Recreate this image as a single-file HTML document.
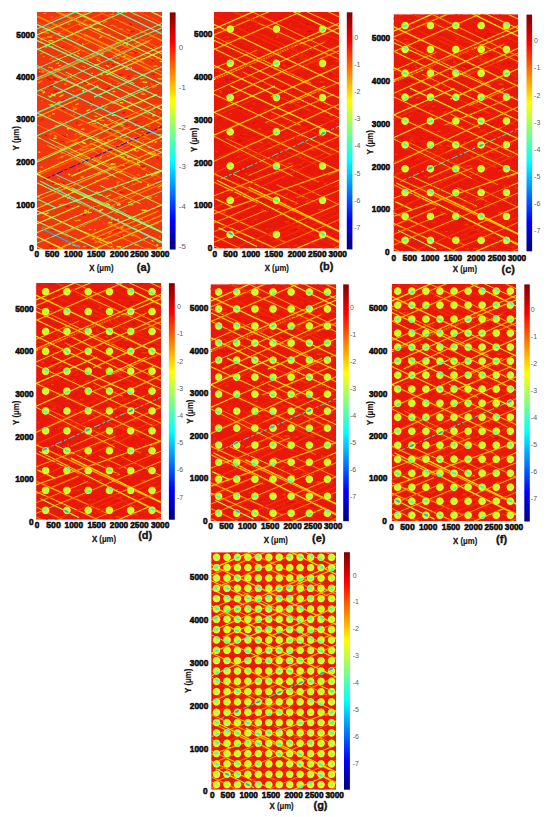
<!DOCTYPE html><html><head><meta charset="utf-8"><style>html,body{margin:0;padding:0;background:#fff;overflow:hidden;width:550px;height:817px;}svg{display:block}text{font-family:"Liberation Sans",sans-serif}.b0{stroke:var(--b0)}.b1{stroke:var(--b1)}.b2{stroke:var(--b2)}.b3{stroke:var(--b3)}.b4{stroke:var(--b4)}.b5{stroke:var(--b5)}.b6{stroke:var(--b6)}.b7{stroke:var(--b7)}.b8{stroke:var(--b8)}.b9{stroke:var(--b9)}.b10{stroke:var(--b10)}.b11{stroke:var(--b11)}.b12{stroke:var(--b12)}.b13{stroke:var(--b13)}.b14{stroke:var(--b14)}.b15{stroke:var(--b15)}.b16{stroke:var(--b16)}.b17{stroke:var(--b17)}.b18{stroke:var(--b18)}.b19{stroke:var(--b19)}.b20{stroke:var(--b20)}.b21{stroke:var(--b21)}.b22{stroke:var(--b22)}.b23{stroke:var(--b23)}.b24{stroke:var(--b24)}.b25{stroke:var(--b25)}.b26{stroke:var(--b26)}.b27{stroke:var(--b27)}</style></head><body>
<svg width="550" height="817" viewBox="0 0 550 817">
<defs>
<linearGradient id="jet" x1="0" y1="1" x2="0" y2="0"><stop offset="0.000" stop-color="#000080"/><stop offset="0.031" stop-color="#00009f"/><stop offset="0.062" stop-color="#0000bf"/><stop offset="0.094" stop-color="#0000df"/><stop offset="0.125" stop-color="#0000ff"/><stop offset="0.156" stop-color="#0020ff"/><stop offset="0.188" stop-color="#0040ff"/><stop offset="0.219" stop-color="#0060ff"/><stop offset="0.250" stop-color="#0080ff"/><stop offset="0.281" stop-color="#009fff"/><stop offset="0.312" stop-color="#00bfff"/><stop offset="0.344" stop-color="#00dfff"/><stop offset="0.375" stop-color="#00ffff"/><stop offset="0.406" stop-color="#20ffdf"/><stop offset="0.438" stop-color="#40ffbf"/><stop offset="0.469" stop-color="#60ff9f"/><stop offset="0.500" stop-color="#80ff80"/><stop offset="0.531" stop-color="#9fff60"/><stop offset="0.562" stop-color="#bfff40"/><stop offset="0.594" stop-color="#dfff20"/><stop offset="0.625" stop-color="#ffff00"/><stop offset="0.656" stop-color="#ffdf00"/><stop offset="0.688" stop-color="#ffbf00"/><stop offset="0.719" stop-color="#ff9f00"/><stop offset="0.750" stop-color="#ff8000"/><stop offset="0.781" stop-color="#ff6000"/><stop offset="0.812" stop-color="#ff4000"/><stop offset="0.844" stop-color="#ff2000"/><stop offset="0.875" stop-color="#ff0000"/><stop offset="0.906" stop-color="#df0000"/><stop offset="0.938" stop-color="#bf0000"/><stop offset="0.969" stop-color="#9f0000"/><stop offset="1.000" stop-color="#800000"/></linearGradient>
<filter id="soft" x="-5%" y="-5%" width="110%" height="110%"><feGaussianBlur stdDeviation="0.3"/></filter>
<g id="tex"><line x1="77.9" y1="175.8" x2="79.5" y2="175.7" class="b7" stroke-width="1.3"/><line x1="31.1" y1="12.3" x2="32.9" y2="11.5" class="b7" stroke-width="1.4"/><line x1="47.6" y1="24.2" x2="49.0" y2="23.5" class="b5" stroke-width="1.1"/><line x1="22.8" y1="205.6" x2="24.8" y2="205.8" class="b4" stroke-width="0.9"/><line x1="77.2" y1="30.0" x2="81.6" y2="32.2" class="b4" stroke-width="0.9"/><line x1="26.9" y1="232.8" x2="29.2" y2="231.8" class="b5" stroke-width="1.2"/><line x1="84.7" y1="48.5" x2="89.2" y2="46.5" class="b7" stroke-width="1.0"/><line x1="45.1" y1="39.3" x2="47.4" y2="38.3" class="b6" stroke-width="1.0"/><line x1="75.4" y1="0.8" x2="77.1" y2="0.8" class="b6" stroke-width="1.4"/><line x1="60.1" y1="74.8" x2="63.2" y2="75.1" class="b5" stroke-width="0.8"/><line x1="121.9" y1="5.4" x2="126.3" y2="5.4" class="b4" stroke-width="1.2"/><line x1="52.4" y1="89.2" x2="55.1" y2="90.6" class="b2" stroke-width="0.9"/><line x1="119.4" y1="46.6" x2="123.7" y2="44.6" class="b7" stroke-width="1.0"/><line x1="44.3" y1="124.4" x2="46.2" y2="124.5" class="b2" stroke-width="1.3"/><line x1="45.9" y1="70.1" x2="50.7" y2="70.5" class="b4" stroke-width="0.9"/><line x1="64.1" y1="85.9" x2="66.6" y2="84.8" class="b2" stroke-width="1.2"/><line x1="39.1" y1="75.1" x2="43.0" y2="73.3" class="b2" stroke-width="0.9"/><line x1="86.1" y1="236.2" x2="89.8" y2="234.6" class="b4" stroke-width="1.5"/><line x1="66.7" y1="96.2" x2="70.4" y2="94.5" class="b6" stroke-width="1.4"/><line x1="57.0" y1="100.0" x2="61.4" y2="102.2" class="b2" stroke-width="0.8"/><line x1="61.7" y1="198.7" x2="66.2" y2="196.7" class="b9" stroke-width="1.5"/><line x1="78.8" y1="186.8" x2="80.7" y2="187.7" class="b6" stroke-width="0.9"/><line x1="105.6" y1="69.9" x2="110.3" y2="70.2" class="b9" stroke-width="1.4"/><line x1="122.0" y1="107.5" x2="125.9" y2="107.8" class="b6" stroke-width="1.1"/><line x1="36.4" y1="95.7" x2="38.1" y2="94.9" class="b9" stroke-width="1.5"/><line x1="78.4" y1="118.3" x2="80.5" y2="118.3" class="b7" stroke-width="1.0"/><line x1="97.8" y1="205.6" x2="99.5" y2="205.6" class="b6" stroke-width="1.3"/><line x1="83.0" y1="180.0" x2="86.5" y2="180.0" class="b2" stroke-width="1.0"/><line x1="60.7" y1="182.4" x2="65.6" y2="182.4" class="b6" stroke-width="1.3"/><line x1="72.6" y1="2.7" x2="76.8" y2="2.4" class="b6" stroke-width="1.3"/><line x1="57.9" y1="193.6" x2="60.6" y2="193.6" class="b2" stroke-width="1.0"/><line x1="117.2" y1="96.8" x2="121.3" y2="94.9" class="b2" stroke-width="1.1"/><line x1="45.5" y1="79.2" x2="48.6" y2="77.9" class="b5" stroke-width="0.9"/><line x1="45.3" y1="202.4" x2="49.2" y2="202.4" class="b2" stroke-width="1.3"/><line x1="52.1" y1="146.2" x2="55.4" y2="145.9" class="b7" stroke-width="1.0"/><line x1="69.2" y1="205.5" x2="73.2" y2="205.5" class="b4" stroke-width="0.9"/><line x1="73.3" y1="147.9" x2="75.4" y2="147.0" class="b2" stroke-width="0.9"/><line x1="89.8" y1="233.8" x2="91.7" y2="232.9" class="b5" stroke-width="0.9"/><line x1="121.0" y1="114.4" x2="122.6" y2="114.3" class="b7" stroke-width="1.0"/><line x1="82.8" y1="17.1" x2="84.9" y2="16.1" class="b6" stroke-width="0.8"/><line x1="50.7" y1="66.0" x2="55.2" y2="66.4" class="b2" stroke-width="1.4"/><line x1="46.7" y1="8.5" x2="49.3" y2="8.3" class="b6" stroke-width="1.2"/><line x1="42.4" y1="137.7" x2="46.8" y2="137.7" class="b7" stroke-width="1.1"/><line x1="70.5" y1="127.6" x2="72.5" y2="127.8" class="b9" stroke-width="1.1"/><line x1="59.6" y1="47.2" x2="62.9" y2="45.7" class="b6" stroke-width="1.4"/><line x1="82.7" y1="90.5" x2="86.2" y2="90.5" class="b9" stroke-width="1.2"/><line x1="40.7" y1="207.7" x2="43.5" y2="207.5" class="b7" stroke-width="1.5"/><line x1="61.7" y1="113.7" x2="64.5" y2="113.9" class="b5" stroke-width="1.2"/><line x1="32.5" y1="232.5" x2="34.8" y2="232.7" class="b4" stroke-width="1.0"/><line x1="123.0" y1="116.5" x2="125.0" y2="116.5" class="b4" stroke-width="0.9"/><line x1="77.7" y1="105.1" x2="79.4" y2="105.1" class="b5" stroke-width="1.4"/><line x1="1.7" y1="126.2" x2="4.0" y2="126.2" class="b7" stroke-width="1.3"/><line x1="30.7" y1="63.4" x2="34.4" y2="61.8" class="b6" stroke-width="1.0"/><line x1="76.0" y1="112.5" x2="80.6" y2="112.1" class="b4" stroke-width="0.8"/><line x1="15.8" y1="66.9" x2="19.4" y2="66.9" class="b2" stroke-width="1.2"/><line x1="58.0" y1="85.6" x2="60.0" y2="85.4" class="b4" stroke-width="1.0"/><line x1="57.0" y1="217.2" x2="59.1" y2="217.1" class="b7" stroke-width="1.3"/><line x1="53.5" y1="136.4" x2="58.0" y2="136.8" class="b7" stroke-width="1.1"/><line x1="85.3" y1="170.5" x2="88.4" y2="170.5" class="b4" stroke-width="1.0"/><line x1="0.4" y1="184.6" x2="2.9" y2="184.4" class="b7" stroke-width="1.4"/><line x1="17.8" y1="113.4" x2="22.4" y2="113.0" class="b6" stroke-width="1.2"/><line x1="53.2" y1="128.3" x2="54.8" y2="129.1" class="b5" stroke-width="1.0"/><line x1="10.6" y1="14.9" x2="13.0" y2="16.1" class="b7" stroke-width="1.5"/><line x1="124.8" y1="166.2" x2="126.5" y2="167.1" class="b4" stroke-width="1.0"/><line x1="80.7" y1="225.7" x2="85.3" y2="223.6" class="b2" stroke-width="1.4"/><line x1="18.7" y1="144.7" x2="23.0" y2="145.1" class="b4" stroke-width="1.2"/><line x1="5.4" y1="25.6" x2="9.5" y2="26.0" class="b6" stroke-width="0.8"/><line x1="71.9" y1="175.9" x2="73.9" y2="175.8" class="b7" stroke-width="0.9"/><line x1="85.7" y1="116.0" x2="90.5" y2="116.0" class="b6" stroke-width="1.4"/><line x1="17.3" y1="69.8" x2="21.0" y2="69.6" class="b9" stroke-width="1.0"/><line x1="117.7" y1="130.3" x2="120.0" y2="129.3" class="b9" stroke-width="1.0"/><line x1="104.1" y1="67.2" x2="108.0" y2="65.4" class="b6" stroke-width="1.1"/><line x1="48.6" y1="31.1" x2="52.0" y2="32.8" class="b4" stroke-width="1.2"/><line x1="4.5" y1="204.6" x2="8.1" y2="204.3" class="b5" stroke-width="1.1"/><line x1="57.8" y1="228.3" x2="61.7" y2="230.2" class="b4" stroke-width="1.2"/><line x1="48.1" y1="201.0" x2="51.9" y2="201.3" class="b5" stroke-width="1.3"/><line x1="10.5" y1="216.0" x2="14.8" y2="216.4" class="b5" stroke-width="1.3"/><line x1="47.0" y1="198.1" x2="49.7" y2="198.1" class="b9" stroke-width="1.3"/><line x1="99.5" y1="89.6" x2="103.3" y2="89.6" class="b2" stroke-width="1.1"/><line x1="106.4" y1="122.6" x2="111.4" y2="122.2" class="b5" stroke-width="1.3"/><line x1="49.4" y1="23.0" x2="51.4" y2="24.0" class="b5" stroke-width="0.8"/><line x1="111.2" y1="114.0" x2="112.7" y2="114.0" class="b7" stroke-width="1.0"/><line x1="116.8" y1="218.4" x2="120.0" y2="218.4" class="b4" stroke-width="0.9"/><line x1="81.7" y1="16.9" x2="86.2" y2="17.2" class="b7" stroke-width="0.9"/><line x1="31.8" y1="65.8" x2="35.5" y2="64.1" class="b2" stroke-width="1.0"/><line x1="60.3" y1="7.6" x2="62.9" y2="7.6" class="b4" stroke-width="1.3"/><line x1="84.2" y1="111.8" x2="86.0" y2="111.0" class="b2" stroke-width="1.0"/><line x1="56.7" y1="56.9" x2="58.2" y2="56.2" class="b2" stroke-width="0.8"/><line x1="28.8" y1="18.5" x2="33.5" y2="18.9" class="b2" stroke-width="1.1"/><line x1="39.0" y1="110.9" x2="40.7" y2="110.9" class="b2" stroke-width="1.1"/><line x1="97.0" y1="41.6" x2="101.3" y2="39.7" class="b2" stroke-width="1.2"/><line x1="90.8" y1="64.2" x2="92.5" y2="64.3" class="b2" stroke-width="1.1"/><line x1="5.6" y1="130.0" x2="9.1" y2="129.7" class="b4" stroke-width="1.3"/><line x1="29.6" y1="190.4" x2="33.9" y2="192.5" class="b4" stroke-width="1.3"/><line x1="80.5" y1="117.9" x2="82.0" y2="118.6" class="b7" stroke-width="1.1"/><line x1="80.1" y1="207.4" x2="82.0" y2="206.5" class="b9" stroke-width="1.2"/><line x1="23.5" y1="55.4" x2="27.8" y2="55.4" class="b4" stroke-width="1.2"/><line x1="115.2" y1="141.8" x2="118.5" y2="140.3" class="b7" stroke-width="1.2"/><line x1="60.8" y1="135.4" x2="64.1" y2="135.7" class="b5" stroke-width="1.3"/><line x1="114.1" y1="72.9" x2="118.7" y2="73.3" class="b5" stroke-width="1.2"/><line x1="17.3" y1="114.5" x2="21.7" y2="114.5" class="b6" stroke-width="0.9"/><line x1="67.1" y1="111.8" x2="70.9" y2="113.7" class="b9" stroke-width="1.3"/><line x1="34.5" y1="116.8" x2="36.0" y2="116.1" class="b5" stroke-width="1.4"/><line x1="110.3" y1="209.9" x2="113.0" y2="211.2" class="b6" stroke-width="1.1"/><line x1="96.2" y1="0.0" x2="99.9" y2="0.0" class="b5" stroke-width="1.2"/><line x1="55.3" y1="193.6" x2="58.9" y2="195.4" class="b2" stroke-width="1.1"/><line x1="13.3" y1="190.8" x2="15.3" y2="190.7" class="b4" stroke-width="1.0"/><line x1="17.2" y1="118.0" x2="19.7" y2="118.0" class="b4" stroke-width="1.2"/><line x1="92.4" y1="6.6" x2="93.9" y2="7.4" class="b5" stroke-width="1.4"/><line x1="54.5" y1="61.2" x2="56.0" y2="61.1" class="b9" stroke-width="1.1"/><line x1="45.3" y1="78.3" x2="47.2" y2="79.2" class="b9" stroke-width="1.4"/><line x1="90.9" y1="22.6" x2="94.5" y2="22.3" class="b2" stroke-width="1.3"/><line x1="55.8" y1="222.4" x2="57.7" y2="222.6" class="b6" stroke-width="1.1"/><line x1="28.5" y1="141.3" x2="31.3" y2="140.1" class="b2" stroke-width="1.5"/><line x1="66.6" y1="229.8" x2="68.1" y2="229.7" class="b5" stroke-width="1.4"/><line x1="52.4" y1="12.4" x2="53.9" y2="13.1" class="b9" stroke-width="1.0"/><line x1="88.1" y1="84.0" x2="90.4" y2="84.1" class="b6" stroke-width="1.4"/><line x1="37.9" y1="122.3" x2="40.4" y2="121.1" class="b5" stroke-width="1.4"/><line x1="82.9" y1="215.3" x2="86.2" y2="216.9" class="b7" stroke-width="1.0"/><line x1="17.9" y1="56.5" x2="19.5" y2="56.6" class="b5" stroke-width="1.1"/><line x1="94.2" y1="66.7" x2="98.1" y2="64.9" class="b6" stroke-width="1.1"/><line x1="58.8" y1="126.5" x2="62.6" y2="128.4" class="b7" stroke-width="1.3"/><line x1="12.9" y1="143.5" x2="15.1" y2="143.3" class="b7" stroke-width="0.8"/><line x1="84.7" y1="144.6" x2="87.6" y2="144.4" class="b7" stroke-width="1.2"/><line x1="86.3" y1="106.6" x2="91.0" y2="106.2" class="b2" stroke-width="1.2"/><line x1="7.6" y1="34.8" x2="10.4" y2="35.0" class="b9" stroke-width="0.8"/><line x1="96.2" y1="49.0" x2="98.0" y2="49.0" class="b4" stroke-width="1.3"/><line x1="76.3" y1="204.5" x2="78.9" y2="204.7" class="b4" stroke-width="1.0"/><line x1="89.5" y1="17.1" x2="92.9" y2="18.8" class="b6" stroke-width="1.4"/><line x1="86.0" y1="198.7" x2="89.6" y2="198.4" class="b5" stroke-width="1.1"/><line x1="11.5" y1="28.7" x2="16.4" y2="28.7" class="b9" stroke-width="1.1"/><line x1="121.1" y1="159.1" x2="123.3" y2="159.2" class="b2" stroke-width="1.2"/><line x1="25.9" y1="160.5" x2="28.8" y2="160.5" class="b4" stroke-width="1.4"/><line x1="111.2" y1="163.1" x2="113.5" y2="163.1" class="b4" stroke-width="0.9"/><line x1="38.2" y1="63.4" x2="40.0" y2="63.3" class="b5" stroke-width="0.9"/><line x1="51.6" y1="43.9" x2="54.8" y2="45.5" class="b2" stroke-width="1.4"/><line x1="109.8" y1="172.5" x2="112.1" y2="172.7" class="b7" stroke-width="1.2"/><line x1="113.1" y1="71.7" x2="114.9" y2="71.7" class="b6" stroke-width="0.9"/><line x1="3.8" y1="27.4" x2="7.2" y2="27.1" class="b9" stroke-width="0.9"/><line x1="23.8" y1="140.9" x2="27.8" y2="140.9" class="b4" stroke-width="1.5"/><line x1="17.2" y1="123.1" x2="19.6" y2="124.3" class="b7" stroke-width="1.3"/><line x1="115.8" y1="54.3" x2="120.3" y2="53.9" class="b7" stroke-width="1.4"/><line x1="0.2" y1="159.3" x2="1.8" y2="160.2" class="b5" stroke-width="1.1"/><line x1="95.1" y1="136.3" x2="99.1" y2="136.6" class="b5" stroke-width="1.3"/><line x1="115.5" y1="226.8" x2="118.0" y2="228.0" class="b4" stroke-width="0.9"/><line x1="40.5" y1="41.0" x2="42.6" y2="42.0" class="b9" stroke-width="1.1"/><line x1="0.7" y1="232.3" x2="2.7" y2="232.3" class="b4" stroke-width="1.1"/><line x1="120.3" y1="224.0" x2="123.2" y2="225.4" class="b2" stroke-width="1.3"/><line x1="2.0" y1="191.9" x2="6.1" y2="191.9" class="b5" stroke-width="1.4"/><line x1="47.8" y1="68.9" x2="51.5" y2="69.2" class="b4" stroke-width="1.2"/><line x1="37.0" y1="79.9" x2="40.0" y2="81.3" class="b4" stroke-width="1.0"/><line x1="123.2" y1="64.2" x2="125.0" y2="65.1" class="b4" stroke-width="1.2"/><line x1="54.1" y1="42.6" x2="58.5" y2="43.0" class="b5" stroke-width="0.9"/><line x1="44.5" y1="192.2" x2="48.4" y2="194.1" class="b5" stroke-width="1.1"/><line x1="2.1" y1="59.5" x2="6.9" y2="59.8" class="b9" stroke-width="0.9"/><line x1="121.4" y1="45.9" x2="123.0" y2="46.1" class="b9" stroke-width="0.9"/><line x1="34.9" y1="226.3" x2="38.2" y2="226.5" class="b4" stroke-width="0.9"/><line x1="96.4" y1="118.5" x2="101.1" y2="118.2" class="b2" stroke-width="1.3"/><line x1="79.5" y1="8.5" x2="82.1" y2="9.9" class="b2" stroke-width="1.1"/><line x1="109.3" y1="195.7" x2="110.8" y2="195.8" class="b5" stroke-width="1.4"/><line x1="18.5" y1="185.1" x2="22.9" y2="185.4" class="b4" stroke-width="1.5"/><line x1="27.1" y1="99.9" x2="29.1" y2="99.9" class="b6" stroke-width="1.0"/><line x1="83.3" y1="29.2" x2="87.1" y2="27.5" class="b4" stroke-width="0.9"/><line x1="47.6" y1="212.7" x2="49.6" y2="211.8" class="b4" stroke-width="1.3"/><line x1="61.7" y1="75.3" x2="63.7" y2="75.4" class="b5" stroke-width="0.9"/><line x1="45.6" y1="146.7" x2="47.5" y2="147.6" class="b7" stroke-width="0.9"/><line x1="16.4" y1="155.0" x2="20.6" y2="155.0" class="b5" stroke-width="1.0"/><line x1="112.0" y1="211.5" x2="113.8" y2="211.4" class="b4" stroke-width="0.9"/><line x1="49.9" y1="72.0" x2="53.3" y2="72.2" class="b7" stroke-width="1.5"/><line x1="30.1" y1="134.8" x2="31.7" y2="134.8" class="b4" stroke-width="1.3"/><line x1="16.7" y1="114.0" x2="18.1" y2="114.7" class="b5" stroke-width="1.1"/><line x1="63.0" y1="144.7" x2="64.7" y2="144.7" class="b9" stroke-width="1.0"/><line x1="86.5" y1="209.5" x2="89.6" y2="211.1" class="b7" stroke-width="1.1"/><line x1="81.9" y1="219.2" x2="85.4" y2="219.2" class="b6" stroke-width="1.3"/><line x1="117.2" y1="225.1" x2="119.7" y2="225.3" class="b5" stroke-width="1.2"/><line x1="85.3" y1="152.8" x2="88.9" y2="154.6" class="b9" stroke-width="1.2"/><line x1="12.3" y1="121.7" x2="15.1" y2="121.5" class="b7" stroke-width="0.9"/><line x1="43.9" y1="117.1" x2="47.3" y2="116.9" class="b9" stroke-width="1.1"/><line x1="7.5" y1="20.8" x2="12.1" y2="20.8" class="b6" stroke-width="1.5"/><line x1="32.9" y1="65.4" x2="36.6" y2="63.7" class="b6" stroke-width="1.0"/><line x1="3.1" y1="59.8" x2="6.5" y2="58.3" class="b5" stroke-width="1.3"/><line x1="74.0" y1="207.4" x2="77.3" y2="206.0" class="b9" stroke-width="0.8"/><line x1="92.5" y1="133.0" x2="95.2" y2="134.4" class="b2" stroke-width="1.4"/><line x1="61.8" y1="206.5" x2="63.2" y2="207.2" class="b7" stroke-width="0.9"/><line x1="90.1" y1="144.9" x2="93.6" y2="144.6" class="b9" stroke-width="1.5"/><line x1="13.9" y1="15.2" x2="15.7" y2="15.0" class="b4" stroke-width="1.3"/><line x1="38.0" y1="124.3" x2="42.0" y2="124.0" class="b4" stroke-width="1.5"/><line x1="85.0" y1="64.8" x2="89.1" y2="65.1" class="b6" stroke-width="1.1"/><line x1="37.4" y1="208.3" x2="40.7" y2="208.3" class="b7" stroke-width="1.1"/><line x1="19.4" y1="51.3" x2="22.0" y2="51.3" class="b9" stroke-width="0.9"/><line x1="11.0" y1="83.6" x2="14.4" y2="85.3" class="b7" stroke-width="1.2"/><line x1="81.3" y1="41.4" x2="85.6" y2="39.5" class="b5" stroke-width="1.3"/><line x1="55.9" y1="135.9" x2="57.7" y2="136.8" class="b6" stroke-width="1.2"/><line x1="62.8" y1="225.4" x2="66.0" y2="224.0" class="b2" stroke-width="0.9"/><line x1="69.0" y1="59.6" x2="71.6" y2="59.6" class="b4" stroke-width="0.9"/><line x1="53.2" y1="200.5" x2="55.6" y2="200.3" class="b2" stroke-width="1.3"/><line x1="10.8" y1="192.8" x2="13.2" y2="194.0" class="b4" stroke-width="1.4"/><line x1="35.6" y1="179.1" x2="37.1" y2="178.4" class="b9" stroke-width="1.1"/><line x1="79.5" y1="171.6" x2="81.4" y2="171.6" class="b6" stroke-width="1.4"/><line x1="39.0" y1="69.4" x2="41.9" y2="69.4" class="b7" stroke-width="0.8"/><line x1="37.7" y1="42.7" x2="41.5" y2="44.6" class="b9" stroke-width="1.1"/><line x1="57.7" y1="17.0" x2="59.3" y2="17.1" class="b9" stroke-width="1.2"/><line x1="81.4" y1="161.5" x2="86.2" y2="161.5" class="b4" stroke-width="1.1"/><line x1="12.8" y1="182.2" x2="16.1" y2="183.8" class="b4" stroke-width="0.9"/><line x1="123.4" y1="128.6" x2="125.3" y2="128.8" class="b6" stroke-width="1.2"/><line x1="121.6" y1="101.4" x2="125.8" y2="99.5" class="b5" stroke-width="1.1"/><line x1="79.2" y1="217.7" x2="83.8" y2="217.7" class="b2" stroke-width="1.2"/><line x1="17.4" y1="12.7" x2="20.0" y2="12.9" class="b9" stroke-width="1.4"/><line x1="71.7" y1="118.5" x2="73.8" y2="118.5" class="b2" stroke-width="1.0"/><line x1="58.8" y1="179.8" x2="60.7" y2="179.6" class="b9" stroke-width="0.9"/><line x1="86.9" y1="172.8" x2="89.6" y2="174.1" class="b5" stroke-width="0.9"/><line x1="21.0" y1="21.3" x2="23.4" y2="21.5" class="b7" stroke-width="1.4"/><line x1="20.4" y1="165.6" x2="22.7" y2="166.7" class="b6" stroke-width="1.2"/><line x1="87.2" y1="128.6" x2="89.1" y2="128.4" class="b4" stroke-width="1.0"/><line x1="74.0" y1="151.5" x2="78.5" y2="151.8" class="b9" stroke-width="1.4"/><line x1="35.3" y1="79.1" x2="37.2" y2="79.1" class="b7" stroke-width="1.0"/><line x1="46.3" y1="183.2" x2="50.1" y2="183.2" class="b2" stroke-width="0.8"/><line x1="60.9" y1="37.8" x2="64.7" y2="38.1" class="b7" stroke-width="1.4"/><line x1="73.9" y1="109.2" x2="77.2" y2="109.0" class="b2" stroke-width="1.3"/><line x1="98.6" y1="3.4" x2="101.9" y2="3.1" class="b4" stroke-width="1.2"/><line x1="60.3" y1="110.4" x2="62.0" y2="110.4" class="b9" stroke-width="0.8"/><line x1="121.4" y1="174.6" x2="125.9" y2="172.6" class="b9" stroke-width="1.0"/><line x1="103.6" y1="154.3" x2="106.6" y2="154.5" class="b5" stroke-width="1.3"/><line x1="115.0" y1="48.6" x2="118.2" y2="47.1" class="b2" stroke-width="1.5"/><line x1="46.6" y1="138.0" x2="50.4" y2="136.3" class="b6" stroke-width="1.2"/><line x1="68.9" y1="190.7" x2="73.0" y2="192.8" class="b9" stroke-width="1.4"/><line x1="18.4" y1="13.5" x2="20.4" y2="14.4" class="b5" stroke-width="0.9"/><line x1="57.3" y1="103.9" x2="60.4" y2="104.2" class="b9" stroke-width="0.9"/><line x1="96.2" y1="165.7" x2="99.8" y2="165.4" class="b9" stroke-width="1.2"/><line x1="89.5" y1="201.7" x2="91.7" y2="201.5" class="b2" stroke-width="1.4"/><line x1="123.7" y1="47.7" x2="127.2" y2="49.5" class="b5" stroke-width="0.9"/><line x1="46.2" y1="21.1" x2="48.8" y2="20.0" class="b4" stroke-width="1.1"/><line x1="37.5" y1="172.7" x2="40.4" y2="173.0" class="b4" stroke-width="1.4"/><line x1="86.2" y1="51.4" x2="90.8" y2="51.8" class="b5" stroke-width="1.1"/><line x1="3.3" y1="108.0" x2="6.9" y2="106.4" class="b2" stroke-width="1.0"/><line x1="11.5" y1="55.1" x2="15.8" y2="55.5" class="b7" stroke-width="1.4"/><line x1="112.5" y1="132.9" x2="116.5" y2="133.2" class="b5" stroke-width="1.0"/><line x1="31.3" y1="161.6" x2="33.2" y2="162.6" class="b9" stroke-width="1.5"/><line x1="20.1" y1="150.1" x2="23.1" y2="149.8" class="b5" stroke-width="1.2"/><line x1="22.8" y1="129.0" x2="27.6" y2="129.4" class="b2" stroke-width="0.8"/><line x1="68.7" y1="227.0" x2="72.8" y2="227.0" class="b4" stroke-width="1.1"/><line x1="45.9" y1="234.2" x2="48.7" y2="234.0" class="b7" stroke-width="1.0"/><line x1="71.4" y1="210.0" x2="75.1" y2="210.0" class="b9" stroke-width="1.1"/><line x1="49.2" y1="132.4" x2="51.2" y2="133.5" class="b6" stroke-width="0.9"/><line x1="64.3" y1="184.0" x2="66.5" y2="184.2" class="b2" stroke-width="1.3"/><line x1="39.2" y1="19.2" x2="42.2" y2="19.2" class="b6" stroke-width="1.0"/><line x1="96.2" y1="9.9" x2="100.4" y2="12.0" class="b4" stroke-width="1.3"/><line x1="108.9" y1="161.5" x2="110.3" y2="162.3" class="b9" stroke-width="1.4"/><line x1="27.1" y1="72.0" x2="29.5" y2="72.2" class="b7" stroke-width="1.2"/><line x1="121.2" y1="122.5" x2="125.7" y2="122.5" class="b9" stroke-width="1.0"/><line x1="116.4" y1="69.2" x2="118.2" y2="70.1" class="b2" stroke-width="1.5"/><line x1="11.0" y1="81.2" x2="13.5" y2="80.0" class="b4" stroke-width="1.1"/><line x1="12.3" y1="204.4" x2="13.9" y2="204.4" class="b7" stroke-width="1.3"/><line x1="116.3" y1="141.0" x2="118.9" y2="141.0" class="b7" stroke-width="1.4"/><line x1="62.8" y1="82.2" x2="64.6" y2="82.0" class="b9" stroke-width="1.2"/><line x1="56.4" y1="155.7" x2="60.5" y2="155.3" class="b7" stroke-width="0.9"/><line x1="7.9" y1="76.5" x2="10.2" y2="77.6" class="b6" stroke-width="1.1"/><line x1="117.5" y1="25.6" x2="120.2" y2="27.0" class="b2" stroke-width="1.0"/><line x1="71.0" y1="139.8" x2="72.5" y2="140.5" class="b4" stroke-width="1.0"/><line x1="36.5" y1="102.4" x2="38.0" y2="101.7" class="b7" stroke-width="1.0"/><line x1="86.8" y1="125.1" x2="90.3" y2="124.9" class="b7" stroke-width="1.4"/><line x1="77.4" y1="200.9" x2="80.0" y2="199.7" class="b6" stroke-width="1.4"/><line x1="11.1" y1="103.7" x2="13.9" y2="103.7" class="b6" stroke-width="1.5"/><line x1="117.5" y1="92.5" x2="122.5" y2="92.9" class="b5" stroke-width="0.9"/><line x1="100.0" y1="128.5" x2="102.5" y2="128.5" class="b5" stroke-width="1.5"/><line x1="1.2" y1="162.0" x2="3.6" y2="162.0" class="b9" stroke-width="0.9"/><line x1="113.9" y1="122.3" x2="116.1" y2="123.4" class="b4" stroke-width="0.9"/><line x1="24.2" y1="96.2" x2="28.7" y2="96.5" class="b2" stroke-width="1.2"/><line x1="112.6" y1="184.5" x2="114.5" y2="184.5" class="b6" stroke-width="1.2"/><line x1="20.3" y1="221.4" x2="22.2" y2="222.4" class="b4" stroke-width="1.0"/><line x1="65.8" y1="10.8" x2="70.3" y2="8.8" class="b6" stroke-width="1.4"/><line x1="27.6" y1="108.1" x2="31.2" y2="109.8" class="b5" stroke-width="0.9"/><line x1="86.7" y1="28.3" x2="90.0" y2="30.0" class="b2" stroke-width="1.2"/><line x1="115.2" y1="83.2" x2="117.6" y2="83.2" class="b5" stroke-width="1.3"/><line x1="38.3" y1="92.7" x2="41.9" y2="91.1" class="b7" stroke-width="1.4"/><line x1="95.9" y1="111.4" x2="100.0" y2="109.5" class="b2" stroke-width="1.3"/><line x1="94.5" y1="223.6" x2="97.1" y2="222.4" class="b9" stroke-width="0.9"/><line x1="60.6" y1="163.0" x2="63.3" y2="164.4" class="b4" stroke-width="1.3"/><line x1="115.5" y1="75.8" x2="120.0" y2="73.8" class="b7" stroke-width="0.8"/><line x1="87.1" y1="0.5" x2="90.4" y2="0.5" class="b6" stroke-width="1.0"/><line x1="79.3" y1="202.6" x2="81.8" y2="202.4" class="b5" stroke-width="1.3"/><line x1="74.0" y1="47.1" x2="77.1" y2="48.6" class="b4" stroke-width="1.0"/><line x1="25.7" y1="157.5" x2="27.9" y2="157.3" class="b2" stroke-width="0.9"/><line x1="95.0" y1="40.1" x2="98.5" y2="39.8" class="b2" stroke-width="1.4"/><line x1="74.5" y1="52.6" x2="78.2" y2="52.9" class="b2" stroke-width="1.0"/><line x1="74.6" y1="139.8" x2="78.4" y2="139.5" class="b2" stroke-width="1.3"/><line x1="43.3" y1="112.6" x2="48.3" y2="112.2" class="b4" stroke-width="1.0"/><line x1="70.0" y1="143.5" x2="72.8" y2="143.5" class="b7" stroke-width="1.4"/><line x1="75.7" y1="79.9" x2="78.5" y2="78.7" class="b9" stroke-width="1.2"/><line x1="92.7" y1="144.7" x2="96.9" y2="146.8" class="b5" stroke-width="1.0"/><line x1="3.9" y1="64.0" x2="6.1" y2="63.0" class="b6" stroke-width="0.9"/><line x1="44.0" y1="164.7" x2="46.3" y2="164.5" class="b9" stroke-width="1.0"/><line x1="35.1" y1="212.1" x2="39.5" y2="212.5" class="b4" stroke-width="1.1"/><line x1="60.6" y1="35.4" x2="65.4" y2="35.8" class="b4" stroke-width="1.3"/><line x1="119.5" y1="145.2" x2="121.5" y2="146.2" class="b2" stroke-width="1.0"/><line x1="62.9" y1="41.5" x2="66.5" y2="41.8" class="b9" stroke-width="1.3"/><line x1="20.3" y1="90.8" x2="23.5" y2="89.4" class="b9" stroke-width="1.3"/><line x1="35.4" y1="232.4" x2="38.6" y2="232.7" class="b9" stroke-width="1.4"/><line x1="22.0" y1="192.3" x2="26.8" y2="192.7" class="b7" stroke-width="1.2"/><line x1="29.8" y1="56.0" x2="34.2" y2="54.0" class="b4" stroke-width="0.9"/><line x1="55.8" y1="111.0" x2="59.8" y2="113.0" class="b5" stroke-width="0.8"/><line x1="87.2" y1="161.0" x2="91.7" y2="159.0" class="b4" stroke-width="1.4"/><line x1="8.1" y1="101.0" x2="12.5" y2="99.1" class="b4" stroke-width="1.0"/><line x1="96.2" y1="126.0" x2="99.9" y2="125.7" class="b6" stroke-width="1.3"/><line x1="121.3" y1="117.0" x2="125.8" y2="117.3" class="b9" stroke-width="1.0"/><line x1="96.2" y1="139.2" x2="99.1" y2="140.7" class="b4" stroke-width="0.9"/><line x1="68.6" y1="60.1" x2="70.9" y2="60.1" class="b2" stroke-width="1.0"/><line x1="83.4" y1="134.7" x2="85.7" y2="134.9" class="b7" stroke-width="1.0"/><line x1="45.5" y1="0.0" x2="49.3" y2="1.9" class="b5" stroke-width="1.0"/><line x1="96.1" y1="223.2" x2="100.2" y2="223.2" class="b6" stroke-width="0.9"/><line x1="69.9" y1="60.0" x2="73.2" y2="59.7" class="b6" stroke-width="0.8"/><line x1="83.4" y1="204.9" x2="86.1" y2="206.3" class="b5" stroke-width="1.2"/><line x1="109.2" y1="75.2" x2="110.7" y2="74.5" class="b2" stroke-width="1.1"/><line x1="0.4" y1="61.5" x2="4.4" y2="61.2" class="b2" stroke-width="0.9"/><line x1="12.0" y1="74.4" x2="15.1" y2="74.2" class="b2" stroke-width="1.4"/><line x1="18.7" y1="234.0" x2="23.2" y2="233.6" class="b6" stroke-width="0.9"/><line x1="53.3" y1="123.4" x2="56.5" y2="123.6" class="b2" stroke-width="1.5"/><line x1="59.4" y1="72.9" x2="61.5" y2="74.0" class="b7" stroke-width="0.9"/><line x1="72.9" y1="152.1" x2="76.5" y2="151.8" class="b9" stroke-width="0.9"/><line x1="84.1" y1="112.3" x2="86.8" y2="112.1" class="b5" stroke-width="1.3"/><line x1="3.0" y1="146.4" x2="4.5" y2="146.5" class="b2" stroke-width="1.1"/><line x1="70.1" y1="212.7" x2="72.5" y2="212.9" class="b5" stroke-width="1.4"/><line x1="60.4" y1="16.3" x2="63.6" y2="17.9" class="b9" stroke-width="1.2"/><line x1="123.4" y1="102.5" x2="128.2" y2="102.9" class="b2" stroke-width="0.9"/><line x1="29.1" y1="122.6" x2="31.1" y2="122.5" class="b6" stroke-width="1.0"/><line x1="8.0" y1="123.7" x2="10.0" y2="122.7" class="b2" stroke-width="1.1"/><line x1="98.0" y1="31.8" x2="102.1" y2="29.9" class="b7" stroke-width="0.9"/><line x1="58.6" y1="17.1" x2="61.2" y2="17.3" class="b6" stroke-width="1.4"/><line x1="116.8" y1="172.3" x2="119.8" y2="173.8" class="b2" stroke-width="1.3"/><line x1="113.6" y1="161.4" x2="117.2" y2="163.2" class="b6" stroke-width="1.0"/><line x1="21.4" y1="53.3" x2="24.3" y2="53.1" class="b9" stroke-width="1.0"/><line x1="51.5" y1="224.5" x2="53.6" y2="224.3" class="b2" stroke-width="1.5"/><line x1="3.9" y1="208.7" x2="7.6" y2="210.5" class="b2" stroke-width="1.1"/><line x1="65.7" y1="210.4" x2="68.4" y2="211.8" class="b5" stroke-width="1.1"/><line x1="49.4" y1="133.6" x2="54.2" y2="134.0" class="b5" stroke-width="1.0"/><line x1="51.6" y1="66.1" x2="54.8" y2="66.1" class="b5" stroke-width="1.0"/><line x1="111.8" y1="211.8" x2="114.4" y2="212.0" class="b4" stroke-width="1.2"/><line x1="44.8" y1="70.6" x2="46.9" y2="70.6" class="b6" stroke-width="1.2"/><line x1="61.0" y1="161.3" x2="63.2" y2="161.5" class="b7" stroke-width="1.1"/><line x1="99.0" y1="220.5" x2="103.6" y2="220.2" class="b4" stroke-width="1.4"/><line x1="89.0" y1="45.9" x2="93.1" y2="46.2" class="b9" stroke-width="0.8"/><line x1="85.9" y1="77.9" x2="90.1" y2="77.9" class="b4" stroke-width="1.4"/><line x1="69.9" y1="223.4" x2="73.5" y2="225.2" class="b5" stroke-width="1.3"/><line x1="94.2" y1="163.7" x2="96.8" y2="163.7" class="b5" stroke-width="1.2"/><line x1="88.7" y1="32.8" x2="91.2" y2="33.0" class="b9" stroke-width="1.1"/><line x1="56.8" y1="170.2" x2="59.4" y2="170.2" class="b6" stroke-width="1.3"/><line x1="58.9" y1="133.2" x2="61.1" y2="132.2" class="b4" stroke-width="1.4"/><line x1="10.4" y1="24.7" x2="15.3" y2="25.1" class="b9" stroke-width="0.9"/><line x1="45.0" y1="31.8" x2="46.6" y2="31.9" class="b9" stroke-width="1.1"/><line x1="95.0" y1="136.3" x2="99.0" y2="138.3" class="b9" stroke-width="1.4"/><line x1="78.7" y1="46.2" x2="82.6" y2="45.9" class="b7" stroke-width="0.9"/><line x1="91.4" y1="82.8" x2="94.7" y2="81.3" class="b9" stroke-width="1.3"/><line x1="95.5" y1="91.7" x2="98.3" y2="90.5" class="b4" stroke-width="1.0"/><line x1="83.5" y1="165.1" x2="87.6" y2="165.1" class="b4" stroke-width="1.2"/><line x1="98.8" y1="139.5" x2="102.0" y2="138.0" class="b7" stroke-width="1.2"/><line x1="62.1" y1="25.9" x2="65.2" y2="24.5" class="b9" stroke-width="1.1"/><line x1="81.3" y1="200.1" x2="84.7" y2="201.7" class="b2" stroke-width="1.4"/><line x1="78.8" y1="31.8" x2="81.4" y2="33.0" class="b4" stroke-width="1.1"/><line x1="123.6" y1="139.8" x2="127.4" y2="140.1" class="b7" stroke-width="1.1"/><line x1="28.4" y1="194.1" x2="32.5" y2="194.4" class="b2" stroke-width="1.5"/><line x1="15.0" y1="171.2" x2="19.1" y2="170.8" class="b2" stroke-width="1.4"/><line x1="24.1" y1="191.3" x2="27.2" y2="191.1" class="b5" stroke-width="1.0"/><line x1="83.1" y1="152.1" x2="85.5" y2="153.3" class="b7" stroke-width="0.9"/><line x1="9.6" y1="17.1" x2="11.6" y2="17.0" class="b5" stroke-width="1.4"/><line x1="115.1" y1="103.6" x2="117.9" y2="103.6" class="b9" stroke-width="1.1"/><line x1="122.8" y1="45.5" x2="125.3" y2="45.5" class="b2" stroke-width="1.1"/><line x1="101.0" y1="91.7" x2="103.6" y2="91.5" class="b5" stroke-width="1.2"/><line x1="18.7" y1="48.0" x2="20.2" y2="47.3" class="b4" stroke-width="1.3"/><line x1="98.1" y1="117.5" x2="99.8" y2="117.6" class="b9" stroke-width="0.9"/><line x1="108.8" y1="41.2" x2="110.5" y2="41.1" class="b9" stroke-width="0.8"/><line x1="2.7" y1="77.3" x2="6.6" y2="79.2" class="b7" stroke-width="1.4"/><line x1="104.3" y1="1.9" x2="107.6" y2="0.4" class="b4" stroke-width="1.3"/><line x1="47.0" y1="27.0" x2="50.6" y2="28.8" class="b7" stroke-width="1.0"/><line x1="27.7" y1="229.6" x2="30.8" y2="229.4" class="b5" stroke-width="1.0"/><line x1="24.1" y1="221.3" x2="25.9" y2="220.5" class="b9" stroke-width="1.1"/><line x1="59.2" y1="162.1" x2="64.0" y2="162.1" class="b7" stroke-width="0.9"/><line x1="27.7" y1="129.3" x2="32.4" y2="129.7" class="b5" stroke-width="0.9"/><line x1="114.5" y1="62.1" x2="117.9" y2="62.1" class="b2" stroke-width="1.0"/><line x1="122.6" y1="85.8" x2="127.5" y2="85.4" class="b2" stroke-width="1.1"/><line x1="95.4" y1="171.7" x2="97.7" y2="171.9" class="b6" stroke-width="0.8"/><line x1="121.3" y1="224.6" x2="123.8" y2="224.4" class="b6" stroke-width="1.4"/><line x1="121.6" y1="215.2" x2="123.3" y2="216.1" class="b5" stroke-width="1.0"/><line x1="96.5" y1="63.3" x2="101.3" y2="63.6" class="b5" stroke-width="1.3"/><line x1="108.3" y1="184.9" x2="111.2" y2="183.6" class="b9" stroke-width="0.9"/><line x1="105.0" y1="157.2" x2="108.7" y2="155.6" class="b7" stroke-width="1.5"/><line x1="5.7" y1="80.6" x2="8.2" y2="79.5" class="b9" stroke-width="1.4"/><line x1="89.0" y1="173.9" x2="93.9" y2="173.5" class="b2" stroke-width="1.2"/><line x1="108.1" y1="29.4" x2="112.3" y2="29.4" class="b7" stroke-width="1.3"/><line x1="48.5" y1="182.4" x2="51.8" y2="184.0" class="b6" stroke-width="1.4"/><line x1="73.1" y1="195.5" x2="77.7" y2="193.5" class="b6" stroke-width="1.5"/><line x1="5.4" y1="17.3" x2="8.4" y2="17.3" class="b6" stroke-width="1.2"/><line x1="32.1" y1="23.9" x2="36.3" y2="23.9" class="b6" stroke-width="0.9"/><line x1="93.1" y1="45.8" x2="95.7" y2="44.6" class="b4" stroke-width="0.9"/><line x1="104.2" y1="154.1" x2="108.2" y2="154.1" class="b2" stroke-width="1.4"/><line x1="79.1" y1="28.0" x2="82.0" y2="28.0" class="b7" stroke-width="1.1"/><line x1="99.9" y1="149.5" x2="101.6" y2="150.4" class="b9" stroke-width="1.1"/><line x1="104.4" y1="119.4" x2="107.2" y2="119.4" class="b7" stroke-width="1.0"/><line x1="103.4" y1="91.1" x2="105.7" y2="90.1" class="b6" stroke-width="0.9"/><line x1="41.6" y1="158.0" x2="45.0" y2="159.8" class="b2" stroke-width="1.4"/><line x1="112.3" y1="141.5" x2="114.2" y2="141.7" class="b9" stroke-width="1.0"/><line x1="3.5" y1="154.9" x2="5.7" y2="154.7" class="b7" stroke-width="1.1"/><line x1="8.1" y1="78.7" x2="10.2" y2="77.7" class="b2" stroke-width="1.1"/><line x1="1.2" y1="37.3" x2="3.8" y2="38.7" class="b2" stroke-width="1.0"/><line x1="77.4" y1="210.2" x2="80.5" y2="208.8" class="b2" stroke-width="1.0"/><line x1="78.6" y1="43.2" x2="82.2" y2="41.5" class="b5" stroke-width="1.0"/><line x1="61.4" y1="107.0" x2="65.9" y2="104.9" class="b7" stroke-width="1.5"/><line x1="4.8" y1="33.8" x2="8.4" y2="33.8" class="b4" stroke-width="1.3"/><line x1="122.7" y1="49.2" x2="126.4" y2="49.5" class="b9" stroke-width="1.2"/><line x1="96.7" y1="2.8" x2="99.1" y2="3.0" class="b5" stroke-width="1.4"/><line x1="89.7" y1="107.8" x2="93.4" y2="107.8" class="b4" stroke-width="1.2"/><line x1="99.1" y1="51.6" x2="101.3" y2="51.8" class="b2" stroke-width="1.4"/><line x1="62.4" y1="17.7" x2="66.1" y2="16.0" class="b6" stroke-width="1.3"/><line x1="116.9" y1="35.1" x2="118.5" y2="35.9" class="b6" stroke-width="1.1"/><line x1="57.9" y1="55.1" x2="60.9" y2="55.4" class="b7" stroke-width="0.8"/><line x1="106.3" y1="72.9" x2="109.2" y2="71.6" class="b5" stroke-width="0.8"/><line x1="105.7" y1="64.7" x2="110.5" y2="64.4" class="b4" stroke-width="1.1"/><line x1="68.9" y1="53.2" x2="72.0" y2="54.7" class="b9" stroke-width="1.2"/><line x1="111.0" y1="59.0" x2="113.9" y2="59.2" class="b5" stroke-width="1.0"/><line x1="40.3" y1="202.7" x2="43.2" y2="201.4" class="b2" stroke-width="0.9"/><line x1="118.4" y1="151.6" x2="121.8" y2="151.9" class="b6" stroke-width="0.9"/><line x1="33.2" y1="172.9" x2="35.6" y2="172.9" class="b2" stroke-width="1.5"/><line x1="70.9" y1="45.1" x2="73.4" y2="46.4" class="b2" stroke-width="1.1"/><line x1="103.0" y1="70.4" x2="104.4" y2="69.8" class="b6" stroke-width="0.9"/><line x1="109.4" y1="236.0" x2="113.6" y2="236.3" class="b6" stroke-width="1.4"/><line x1="106.4" y1="57.9" x2="111.2" y2="57.9" class="b5" stroke-width="1.2"/><line x1="82.0" y1="160.1" x2="85.6" y2="158.5" class="b9" stroke-width="1.0"/><line x1="114.4" y1="227.9" x2="116.6" y2="229.0" class="b9" stroke-width="1.0"/><line x1="108.7" y1="100.4" x2="112.3" y2="102.2" class="b6" stroke-width="1.4"/><line x1="64.7" y1="92.6" x2="66.5" y2="93.6" class="b6" stroke-width="1.4"/><line x1="10.2" y1="5.7" x2="12.0" y2="5.6" class="b4" stroke-width="0.8"/><line x1="74.6" y1="103.2" x2="78.4" y2="102.9" class="b9" stroke-width="1.2"/><line x1="49.8" y1="215.0" x2="53.8" y2="215.0" class="b4" stroke-width="0.9"/><line x1="47.6" y1="190.5" x2="51.7" y2="190.5" class="b5" stroke-width="0.9"/><line x1="102.8" y1="47.7" x2="106.6" y2="46.0" class="b9" stroke-width="1.0"/><line x1="48.2" y1="174.0" x2="49.9" y2="174.0" class="b5" stroke-width="0.9"/><line x1="117.9" y1="210.3" x2="120.3" y2="210.3" class="b5" stroke-width="1.3"/><line x1="88.1" y1="57.3" x2="91.7" y2="57.1" class="b9" stroke-width="1.1"/><line x1="62.3" y1="226.5" x2="64.4" y2="225.6" class="b9" stroke-width="1.4"/><line x1="17.7" y1="172.0" x2="22.1" y2="171.6" class="b6" stroke-width="1.2"/><line x1="27.4" y1="77.1" x2="30.7" y2="77.3" class="b4" stroke-width="1.4"/><line x1="22.8" y1="140.7" x2="26.0" y2="140.7" class="b7" stroke-width="0.8"/><line x1="33.6" y1="63.8" x2="38.3" y2="63.8" class="b4" stroke-width="1.3"/><line x1="90.7" y1="170.3" x2="92.6" y2="169.5" class="b6" stroke-width="1.4"/><line x1="19.6" y1="177.9" x2="23.6" y2="176.1" class="b5" stroke-width="1.1"/><line x1="3.1" y1="42.0" x2="6.7" y2="40.4" class="b6" stroke-width="1.3"/><line x1="49.4" y1="98.9" x2="53.3" y2="97.1" class="b9" stroke-width="1.2"/><line x1="120.7" y1="108.8" x2="123.3" y2="107.6" class="b4" stroke-width="1.3"/><line x1="17.8" y1="142.0" x2="20.0" y2="141.9" class="b5" stroke-width="1.2"/><line x1="53.4" y1="93.0" x2="55.4" y2="93.2" class="b7" stroke-width="1.2"/><line x1="43.0" y1="164.6" x2="46.9" y2="164.6" class="b6" stroke-width="1.2"/><line x1="73.1" y1="13.4" x2="77.3" y2="13.1" class="b6" stroke-width="1.0"/><line x1="11.7" y1="34.6" x2="16.6" y2="34.6" class="b6" stroke-width="1.0"/><line x1="5.6" y1="44.5" x2="7.8" y2="44.3" class="b6" stroke-width="1.3"/><line x1="2.6" y1="19.3" x2="5.1" y2="20.5" class="b6" stroke-width="1.1"/><line x1="15.1" y1="101.7" x2="17.8" y2="101.5" class="b9" stroke-width="1.2"/><line x1="0.9" y1="70.8" x2="5.2" y2="68.8" class="b6" stroke-width="1.5"/><line x1="39.4" y1="28.0" x2="43.3" y2="26.2" class="b6" stroke-width="0.9"/><line x1="53.5" y1="46.4" x2="56.5" y2="45.1" class="b6" stroke-width="1.0"/><line x1="59.9" y1="145.8" x2="63.8" y2="145.8" class="b9" stroke-width="1.0"/><line x1="38.1" y1="142.6" x2="42.9" y2="142.6" class="b7" stroke-width="0.9"/><line x1="79.9" y1="71.4" x2="83.2" y2="71.2" class="b6" stroke-width="1.2"/><line x1="74.4" y1="218.3" x2="78.7" y2="218.6" class="b2" stroke-width="1.0"/><line x1="85.3" y1="100.5" x2="88.1" y2="100.5" class="b2" stroke-width="1.4"/><line x1="88.1" y1="156.1" x2="89.6" y2="156.1" class="b5" stroke-width="1.0"/><line x1="79.6" y1="234.1" x2="84.0" y2="234.4" class="b9" stroke-width="1.5"/><line x1="24.5" y1="35.8" x2="27.2" y2="34.6" class="b2" stroke-width="0.9"/><line x1="39.6" y1="32.8" x2="41.8" y2="33.0" class="b5" stroke-width="1.1"/><line x1="80.0" y1="192.6" x2="83.5" y2="192.3" class="b9" stroke-width="1.3"/><line x1="67.0" y1="166.0" x2="71.5" y2="166.4" class="b6" stroke-width="1.4"/><line x1="71.4" y1="221.6" x2="74.8" y2="220.1" class="b7" stroke-width="0.9"/><line x1="79.5" y1="169.7" x2="83.4" y2="169.7" class="b6" stroke-width="1.4"/><line x1="101.9" y1="205.5" x2="106.0" y2="207.5" class="b7" stroke-width="0.9"/><line x1="114.8" y1="124.9" x2="118.5" y2="125.2" class="b4" stroke-width="1.4"/><line x1="64.9" y1="138.7" x2="68.1" y2="139.0" class="b6" stroke-width="1.4"/><line x1="115.1" y1="8.2" x2="116.9" y2="9.2" class="b4" stroke-width="1.1"/><line x1="15.6" y1="136.6" x2="18.8" y2="135.1" class="b5" stroke-width="0.9"/><line x1="47.6" y1="146.2" x2="52.4" y2="146.6" class="b7" stroke-width="1.1"/><line x1="71.0" y1="229.2" x2="75.0" y2="231.2" class="b7" stroke-width="1.3"/><line x1="77.0" y1="14.1" x2="79.9" y2="14.4" class="b5" stroke-width="1.1"/><line x1="76.1" y1="101.8" x2="78.5" y2="101.7" class="b2" stroke-width="1.3"/><line x1="84.6" y1="134.3" x2="88.8" y2="134.6" class="b4" stroke-width="0.9"/><line x1="73.6" y1="234.0" x2="75.5" y2="234.0" class="b9" stroke-width="0.9"/><line x1="3.4" y1="173.6" x2="7.6" y2="173.9" class="b4" stroke-width="1.3"/><line x1="13.3" y1="134.2" x2="17.4" y2="136.2" class="b6" stroke-width="1.3"/><line x1="32.4" y1="169.3" x2="34.3" y2="169.4" class="b5" stroke-width="1.2"/><line x1="35.5" y1="184.4" x2="38.1" y2="184.6" class="b4" stroke-width="1.5"/><line x1="71.3" y1="22.3" x2="73.4" y2="22.3" class="b6" stroke-width="1.2"/><line x1="35.0" y1="94.1" x2="38.1" y2="95.6" class="b5" stroke-width="1.1"/><line x1="58.3" y1="39.8" x2="60.9" y2="41.1" class="b7" stroke-width="1.4"/><line x1="10.8" y1="79.9" x2="14.5" y2="81.7" class="b4" stroke-width="1.0"/><line x1="44.9" y1="186.4" x2="47.8" y2="186.1" class="b5" stroke-width="0.9"/><line x1="45.6" y1="53.8" x2="49.0" y2="55.5" class="b7" stroke-width="0.9"/><line x1="96.6" y1="224.0" x2="98.1" y2="224.7" class="b4" stroke-width="0.9"/><line x1="3.9" y1="88.2" x2="5.6" y2="89.1" class="b5" stroke-width="1.3"/><line x1="55.7" y1="193.5" x2="57.2" y2="194.2" class="b7" stroke-width="1.0"/><line x1="110.2" y1="172.3" x2="112.2" y2="172.1" class="b9" stroke-width="1.4"/><line x1="109.4" y1="126.5" x2="113.8" y2="124.5" class="b4" stroke-width="1.2"/><line x1="21.5" y1="218.9" x2="26.0" y2="218.9" class="b5" stroke-width="1.1"/><line x1="29.9" y1="116.4" x2="32.3" y2="116.6" class="b9" stroke-width="1.1"/><line x1="58.4" y1="125.3" x2="62.4" y2="124.9" class="b5" stroke-width="1.2"/><line x1="30.0" y1="186.2" x2="33.1" y2="184.8" class="b9" stroke-width="0.8"/><line x1="37.4" y1="128.3" x2="40.6" y2="126.8" class="b7" stroke-width="1.4"/><line x1="38.8" y1="51.2" x2="43.6" y2="51.6" class="b2" stroke-width="0.8"/><line x1="51.4" y1="223.9" x2="54.7" y2="223.7" class="b4" stroke-width="1.5"/><line x1="51.1" y1="200.3" x2="54.9" y2="200.0" class="b9" stroke-width="1.0"/><line x1="70.3" y1="38.6" x2="74.2" y2="38.3" class="b5" stroke-width="1.5"/><line x1="77.5" y1="50.3" x2="81.2" y2="50.6" class="b9" stroke-width="1.0"/><line x1="58.6" y1="168.5" x2="62.0" y2="168.3" class="b7" stroke-width="1.3"/><line x1="59.6" y1="47.5" x2="63.6" y2="49.5" class="b9" stroke-width="1.0"/><line x1="6.4" y1="1.4" x2="9.1" y2="1.2" class="b7" stroke-width="1.0"/><line x1="46.0" y1="214.1" x2="48.6" y2="214.1" class="b5" stroke-width="1.2"/><line x1="6.5" y1="134.2" x2="9.2" y2="135.5" class="b4" stroke-width="1.0"/><line x1="51.7" y1="217.1" x2="54.7" y2="217.3" class="b9" stroke-width="0.9"/><line x1="61.6" y1="35.2" x2="65.8" y2="33.3" class="b5" stroke-width="1.4"/><line x1="97.0" y1="112.3" x2="99.2" y2="113.4" class="b7" stroke-width="1.3"/><line x1="2.0" y1="163.3" x2="3.7" y2="162.5" class="b4" stroke-width="0.9"/><line x1="85.3" y1="133.6" x2="87.7" y2="133.6" class="b2" stroke-width="0.8"/><line x1="63.6" y1="62.1" x2="65.5" y2="63.0" class="b9" stroke-width="1.1"/><line x1="31.2" y1="11.1" x2="33.8" y2="11.1" class="b5" stroke-width="1.4"/><line x1="118.1" y1="158.9" x2="121.2" y2="160.4" class="b5" stroke-width="0.9"/><line x1="85.8" y1="222.7" x2="87.9" y2="222.6" class="b6" stroke-width="1.1"/><line x1="93.6" y1="137.1" x2="96.5" y2="137.3" class="b6" stroke-width="1.3"/><line x1="22.6" y1="81.1" x2="25.5" y2="79.8" class="b7" stroke-width="1.0"/><line x1="92.1" y1="11.5" x2="94.9" y2="12.9" class="b2" stroke-width="1.2"/><line x1="109.9" y1="185.6" x2="114.8" y2="185.6" class="b7" stroke-width="1.1"/><line x1="96.2" y1="180.6" x2="97.7" y2="181.4" class="b6" stroke-width="1.4"/><line x1="36.1" y1="20.4" x2="38.8" y2="21.8" class="b2" stroke-width="1.4"/><line x1="71.4" y1="52.8" x2="75.1" y2="51.1" class="b4" stroke-width="1.4"/><line x1="65.3" y1="93.4" x2="70.2" y2="93.0" class="b5" stroke-width="1.2"/><line x1="111.6" y1="207.2" x2="114.1" y2="207.0" class="b2" stroke-width="1.2"/><line x1="16.8" y1="79.3" x2="21.0" y2="79.0" class="b2" stroke-width="1.5"/><line x1="117.9" y1="184.1" x2="120.5" y2="183.9" class="b6" stroke-width="1.0"/><line x1="41.2" y1="113.5" x2="45.2" y2="111.7" class="b6" stroke-width="1.3"/><line x1="65.2" y1="166.2" x2="67.2" y2="166.4" class="b4" stroke-width="1.2"/><line x1="52.5" y1="188.0" x2="54.1" y2="188.1" class="b4" stroke-width="1.0"/><line x1="95.1" y1="152.1" x2="99.7" y2="152.5" class="b2" stroke-width="1.5"/><line x1="9.9" y1="65.9" x2="14.1" y2="68.1" class="b2" stroke-width="1.3"/><line x1="70.9" y1="205.1" x2="73.8" y2="204.8" class="b4" stroke-width="1.2"/><line x1="67.3" y1="61.2" x2="69.1" y2="61.1" class="b4" stroke-width="1.4"/><line x1="57.1" y1="92.4" x2="58.5" y2="91.8" class="b5" stroke-width="1.0"/><line x1="60.3" y1="146.1" x2="61.7" y2="145.4" class="b2" stroke-width="1.5"/><line x1="18.7" y1="51.8" x2="22.6" y2="50.0" class="b7" stroke-width="0.8"/><line x1="119.8" y1="228.3" x2="124.3" y2="230.5" class="b9" stroke-width="1.2"/><line x1="13.3" y1="217.5" x2="17.1" y2="217.8" class="b2" stroke-width="1.1"/><line x1="86.1" y1="44.2" x2="88.7" y2="44.0" class="b9" stroke-width="1.2"/><line x1="62.3" y1="107.9" x2="67.2" y2="108.3" class="b7" stroke-width="0.9"/><line x1="7.8" y1="201.9" x2="11.5" y2="200.2" class="b9" stroke-width="1.4"/><line x1="14.1" y1="81.7" x2="18.4" y2="83.9" class="b9" stroke-width="1.3"/><line x1="85.3" y1="155.3" x2="89.6" y2="153.4" class="b2" stroke-width="1.0"/><line x1="56.7" y1="9.3" x2="61.6" y2="9.6" class="b9" stroke-width="1.2"/><line x1="97.4" y1="232.2" x2="102.1" y2="232.6" class="b7" stroke-width="1.4"/><line x1="1.4" y1="139.9" x2="3.2" y2="139.9" class="b9" stroke-width="1.2"/><line x1="38.4" y1="233.6" x2="42.4" y2="233.6" class="b7" stroke-width="1.2"/><line x1="97.8" y1="216.2" x2="99.4" y2="216.2" class="b6" stroke-width="1.3"/><line x1="98.6" y1="33.2" x2="103.0" y2="33.2" class="b6" stroke-width="1.0"/><line x1="114.5" y1="98.2" x2="118.6" y2="100.3" class="b5" stroke-width="1.5"/><line x1="42.7" y1="197.5" x2="44.5" y2="197.5" class="b4" stroke-width="1.0"/><line x1="81.5" y1="62.9" x2="85.9" y2="62.6" class="b2" stroke-width="1.0"/><line x1="105.4" y1="74.7" x2="108.3" y2="76.2" class="b5" stroke-width="1.4"/><line x1="41.8" y1="122.1" x2="45.8" y2="121.8" class="b6" stroke-width="1.5"/><line x1="122.7" y1="210.9" x2="124.3" y2="211.7" class="b4" stroke-width="0.9"/><line x1="93.9" y1="19.5" x2="97.5" y2="19.5" class="b2" stroke-width="1.2"/><line x1="38.7" y1="47.2" x2="42.5" y2="46.9" class="b4" stroke-width="1.5"/><line x1="14.2" y1="19.3" x2="17.0" y2="18.1" class="b5" stroke-width="1.1"/><line x1="91.0" y1="190.6" x2="95.3" y2="188.6" class="b9" stroke-width="1.1"/><line x1="73.4" y1="20.5" x2="76.1" y2="19.2" class="b4" stroke-width="1.3"/><line x1="97.9" y1="90.8" x2="100.3" y2="90.6" class="b4" stroke-width="1.2"/><line x1="33.3" y1="81.5" x2="37.9" y2="81.1" class="b4" stroke-width="1.0"/><line x1="111.1" y1="135.1" x2="114.9" y2="135.4" class="b9" stroke-width="0.8"/><line x1="118.9" y1="93.8" x2="122.9" y2="95.8" class="b6" stroke-width="1.0"/><line x1="89.5" y1="26.1" x2="93.8" y2="25.7" class="b9" stroke-width="1.2"/><line x1="85.2" y1="41.6" x2="87.6" y2="41.4" class="b7" stroke-width="1.3"/><line x1="63.3" y1="23.9" x2="65.0" y2="23.9" class="b9" stroke-width="0.8"/><line x1="85.5" y1="147.5" x2="89.5" y2="147.5" class="b6" stroke-width="1.0"/><line x1="78.1" y1="126.5" x2="80.2" y2="126.7" class="b9" stroke-width="1.0"/><line x1="72.9" y1="71.2" x2="74.4" y2="72.0" class="b7" stroke-width="0.8"/><line x1="122.0" y1="85.3" x2="124.9" y2="85.0" class="b9" stroke-width="1.0"/><line x1="120.6" y1="66.4" x2="125.4" y2="66.8" class="b7" stroke-width="1.4"/><line x1="12.2" y1="233.8" x2="15.6" y2="233.6" class="b2" stroke-width="1.1"/><line x1="119.2" y1="232.5" x2="121.2" y2="232.7" class="b9" stroke-width="1.4"/><line x1="105.3" y1="129.4" x2="107.0" y2="130.2" class="b6" stroke-width="1.0"/><line x1="92.4" y1="90.0" x2="94.4" y2="90.0" class="b6" stroke-width="1.2"/><line x1="45.3" y1="56.9" x2="47.8" y2="58.2" class="b4" stroke-width="1.1"/><line x1="15.1" y1="48.3" x2="17.8" y2="48.3" class="b7" stroke-width="0.9"/><line x1="32.0" y1="231.2" x2="33.6" y2="231.3" class="b6" stroke-width="1.2"/><line x1="120.0" y1="195.8" x2="124.0" y2="195.4" class="b2" stroke-width="1.0"/><line x1="76.0" y1="78.4" x2="80.6" y2="78.4" class="b4" stroke-width="1.0"/><line x1="42.5" y1="176.0" x2="44.8" y2="175.8" class="b5" stroke-width="1.1"/><line x1="80.0" y1="91.1" x2="81.8" y2="91.3" class="b7" stroke-width="0.9"/><line x1="117.0" y1="142.6" x2="120.4" y2="142.8" class="b9" stroke-width="1.1"/><line x1="22.3" y1="84.4" x2="26.5" y2="82.6" class="b9" stroke-width="1.2"/><line x1="92.5" y1="40.6" x2="97.4" y2="41.0" class="b6" stroke-width="0.9"/><line x1="114.5" y1="161.1" x2="117.7" y2="162.7" class="b5" stroke-width="1.1"/><line x1="16.5" y1="126.0" x2="19.4" y2="126.0" class="b9" stroke-width="1.4"/><line x1="78.3" y1="138.2" x2="80.8" y2="139.4" class="b2" stroke-width="0.8"/><line x1="91.7" y1="192.4" x2="96.3" y2="192.4" class="b9" stroke-width="0.8"/><line x1="93.3" y1="86.1" x2="95.5" y2="87.2" class="b5" stroke-width="0.9"/><line x1="25.8" y1="123.3" x2="29.2" y2="125.0" class="b2" stroke-width="1.2"/><line x1="44.7" y1="129.5" x2="48.9" y2="131.6" class="b9" stroke-width="1.5"/><line x1="3.3" y1="168.3" x2="4.7" y2="169.0" class="b2" stroke-width="0.9"/><line x1="54.1" y1="186.6" x2="57.6" y2="185.0" class="b2" stroke-width="1.1"/><line x1="50.0" y1="235.3" x2="52.2" y2="235.1" class="b2" stroke-width="1.1"/><line x1="65.3" y1="7.1" x2="67.5" y2="6.1" class="b2" stroke-width="0.9"/><line x1="21.8" y1="25.7" x2="23.6" y2="25.5" class="b4" stroke-width="1.2"/><line x1="35.4" y1="205.3" x2="37.9" y2="205.5" class="b4" stroke-width="0.8"/><line x1="4.4" y1="172.0" x2="6.8" y2="173.2" class="b5" stroke-width="1.2"/><line x1="46.3" y1="70.5" x2="51.2" y2="70.9" class="b2" stroke-width="1.2"/><line x1="119.0" y1="166.4" x2="122.2" y2="164.9" class="b5" stroke-width="0.9"/><line x1="13.0" y1="92.4" x2="16.2" y2="92.1" class="b9" stroke-width="0.9"/><line x1="42.1" y1="108.5" x2="46.7" y2="108.8" class="b4" stroke-width="1.0"/><line x1="102.9" y1="66.6" x2="107.3" y2="66.2" class="b7" stroke-width="1.0"/><line x1="67.6" y1="62.4" x2="69.9" y2="62.4" class="b5" stroke-width="0.9"/><line x1="1.1" y1="104.0" x2="4.8" y2="104.0" class="b6" stroke-width="0.8"/><line x1="104.7" y1="197.9" x2="109.4" y2="197.9" class="b9" stroke-width="1.5"/><line x1="4.9" y1="32.2" x2="9.5" y2="32.2" class="b2" stroke-width="1.2"/><line x1="61.9" y1="36.7" x2="65.8" y2="36.4" class="b5" stroke-width="1.3"/><line x1="69.3" y1="77.0" x2="72.7" y2="75.5" class="b2" stroke-width="1.2"/><line x1="76.2" y1="5.9" x2="79.1" y2="4.6" class="b4" stroke-width="0.9"/><line x1="82.1" y1="215.2" x2="86.4" y2="214.9" class="b9" stroke-width="0.8"/><line x1="18.4" y1="57.1" x2="23.2" y2="57.5" class="b9" stroke-width="1.1"/><line x1="1.5" y1="128.2" x2="3.5" y2="127.3" class="b4" stroke-width="1.5"/><line x1="36.0" y1="93.5" x2="40.2" y2="95.7" class="b4" stroke-width="1.4"/><line x1="2.4" y1="159.0" x2="4.1" y2="158.2" class="b6" stroke-width="1.1"/><line x1="113.0" y1="129.6" x2="115.9" y2="129.8" class="b6" stroke-width="1.5"/><line x1="55.0" y1="111.4" x2="59.3" y2="111.1" class="b7" stroke-width="1.3"/><line x1="89.1" y1="112.7" x2="90.8" y2="112.6" class="b2" stroke-width="1.2"/><line x1="86.1" y1="209.3" x2="89.6" y2="209.6" class="b2" stroke-width="1.5"/><line x1="10.0" y1="237.0" x2="11.5" y2="236.3" class="b2" stroke-width="1.1"/><line x1="21.8" y1="214.9" x2="25.3" y2="213.3" class="b5" stroke-width="0.9"/><line x1="21.2" y1="194.3" x2="22.9" y2="194.2" class="b6" stroke-width="1.5"/><line x1="55.0" y1="41.9" x2="56.9" y2="41.7" class="b9" stroke-width="1.0"/><line x1="116.4" y1="165.9" x2="118.6" y2="167.0" class="b5" stroke-width="1.3"/><line x1="69.3" y1="184.3" x2="73.7" y2="182.3" class="b9" stroke-width="1.0"/><line x1="88.9" y1="205.0" x2="90.4" y2="205.8" class="b4" stroke-width="0.8"/><line x1="70.3" y1="51.6" x2="72.2" y2="51.7" class="b2" stroke-width="1.2"/><line x1="41.6" y1="12.3" x2="43.3" y2="12.5" class="b9" stroke-width="0.9"/><line x1="93.6" y1="55.3" x2="95.0" y2="56.0" class="b9" stroke-width="1.2"/><line x1="123.1" y1="165.9" x2="127.4" y2="166.3" class="b4" stroke-width="1.0"/><line x1="13.9" y1="92.5" x2="16.2" y2="93.7" class="b9" stroke-width="1.2"/><line x1="23.6" y1="144.7" x2="25.4" y2="144.8" class="b9" stroke-width="1.4"/><line x1="99.9" y1="162.0" x2="103.7" y2="163.9" class="b6" stroke-width="1.3"/><line x1="24.4" y1="88.1" x2="28.2" y2="87.8" class="b2" stroke-width="0.9"/><line x1="35.7" y1="98.1" x2="40.2" y2="96.1" class="b7" stroke-width="1.4"/><line x1="122.9" y1="121.3" x2="127.7" y2="121.0" class="b4" stroke-width="1.3"/><line x1="104.5" y1="81.9" x2="107.8" y2="81.7" class="b9" stroke-width="1.1"/><line x1="57.3" y1="52.6" x2="62.1" y2="52.6" class="b7" stroke-width="1.4"/><line x1="5.1" y1="214.8" x2="8.8" y2="215.1" class="b6" stroke-width="0.8"/><line x1="63.0" y1="229.7" x2="64.9" y2="230.6" class="b7" stroke-width="1.4"/><line x1="26.0" y1="171.0" x2="27.6" y2="170.3" class="b2" stroke-width="1.4"/><line x1="13.7" y1="5.3" x2="16.2" y2="5.1" class="b7" stroke-width="0.8"/><line x1="-2.0" y1="-54.6" x2="37.3" y2="-36.2" class="b9" stroke-width="1.1"/><line x1="37.3" y1="-36.2" x2="65.6" y2="-23.0" class="b10" stroke-width="1.1"/><line x1="65.6" y1="-23.0" x2="83.2" y2="-14.7" class="b11" stroke-width="1.1"/><line x1="83.2" y1="-14.7" x2="102.8" y2="-5.6" class="b11" stroke-width="1.1"/><line x1="102.8" y1="-5.6" x2="127.0" y2="5.8" class="b11" stroke-width="1.1"/><line x1="-2.0" y1="-43.7" x2="33.6" y2="-27.4" class="b12" stroke-width="1.0"/><line x1="33.6" y1="-27.4" x2="72.2" y2="-9.7" class="b11" stroke-width="1.0"/><line x1="72.2" y1="-9.7" x2="92.0" y2="-0.6" class="b12" stroke-width="1.0"/><line x1="92.0" y1="-0.6" x2="127.0" y2="15.3" class="b13" stroke-width="1.0"/><line x1="-2.0" y1="-29.2" x2="13.3" y2="-22.2" class="b7" stroke-width="1.3"/><line x1="13.3" y1="-22.2" x2="33.1" y2="-13.2" class="b5" stroke-width="1.3"/><line x1="45.7" y1="-7.5" x2="78.4" y2="7.3" class="b5" stroke-width="1.3"/><line x1="78.4" y1="7.3" x2="113.3" y2="23.1" class="b6" stroke-width="1.3"/><line x1="113.3" y1="23.1" x2="127.0" y2="29.4" class="b7" stroke-width="1.3"/><line x1="-0.6" y1="-19.1" x2="33.9" y2="-2.7" class="b9" stroke-width="0.9"/><line x1="33.9" y1="-2.7" x2="61.7" y2="10.5" class="b7" stroke-width="0.9"/><line x1="-2.0" y1="-9.9" x2="35.2" y2="6.9" class="b10" stroke-width="1.1"/><line x1="35.2" y1="6.9" x2="79.4" y2="26.8" class="b11" stroke-width="1.1"/><line x1="79.4" y1="26.8" x2="114.1" y2="42.5" class="b11" stroke-width="1.1"/><line x1="114.1" y1="42.5" x2="127.0" y2="48.3" class="b10" stroke-width="1.1"/><line x1="-2.0" y1="3.6" x2="25.7" y2="16.6" class="b6" stroke-width="1.3"/><line x1="25.7" y1="16.6" x2="69.6" y2="37.2" class="b7" stroke-width="1.3"/><line x1="69.6" y1="37.2" x2="112.6" y2="57.4" class="b7" stroke-width="1.3"/><line x1="112.6" y1="57.4" x2="127.0" y2="64.2" class="b7" stroke-width="1.3"/><line x1="19.1" y1="25.6" x2="33.0" y2="32.4" class="b6" stroke-width="1.0"/><line x1="33.0" y1="32.4" x2="47.4" y2="39.3" class="b6" stroke-width="1.0"/><line x1="47.4" y1="39.3" x2="62.3" y2="46.5" class="b6" stroke-width="1.0"/><line x1="-2.0" y1="23.5" x2="35.1" y2="41.5" class="b11" stroke-width="0.9"/><line x1="35.1" y1="41.5" x2="60.3" y2="53.7" class="b13" stroke-width="0.9"/><line x1="60.3" y1="53.7" x2="80.8" y2="63.6" class="b11" stroke-width="0.9"/><line x1="80.8" y1="63.6" x2="97.2" y2="71.5" class="b11" stroke-width="0.9"/><line x1="124.7" y1="84.8" x2="127.0" y2="86.0" class="b12" stroke-width="0.9"/><line x1="-2.0" y1="35.8" x2="35.8" y2="54.2" class="b13" stroke-width="1.1"/><line x1="35.8" y1="54.2" x2="59.7" y2="65.8" class="b13" stroke-width="1.1"/><line x1="59.7" y1="65.8" x2="92.8" y2="81.9" class="b12" stroke-width="1.1"/><line x1="92.8" y1="81.9" x2="115.2" y2="92.8" class="b12" stroke-width="1.1"/><line x1="115.2" y1="92.8" x2="127.0" y2="98.6" class="b11" stroke-width="1.1"/><line x1="28.6" y1="59.9" x2="72.4" y2="81.0" class="b11" stroke-width="0.9"/><line x1="72.4" y1="81.0" x2="87.5" y2="88.3" class="b12" stroke-width="0.9"/><line x1="87.5" y1="88.3" x2="119.1" y2="103.5" class="b13" stroke-width="0.9"/><line x1="-2.0" y1="54.5" x2="16.4" y2="62.9" class="b6" stroke-width="1.0"/><line x1="16.4" y1="62.9" x2="51.4" y2="78.8" class="b8" stroke-width="1.0"/><line x1="51.4" y1="78.8" x2="81.6" y2="92.5" class="b8" stroke-width="1.0"/><line x1="81.6" y1="92.5" x2="96.7" y2="99.3" class="b9" stroke-width="1.0"/><line x1="96.7" y1="99.3" x2="109.0" y2="104.9" class="b6" stroke-width="1.0"/><line x1="109.0" y1="104.9" x2="127.0" y2="113.1" class="b7" stroke-width="1.0"/><line x1="57.2" y1="99.9" x2="85.1" y2="112.7" class="b12" stroke-width="0.9"/><line x1="85.1" y1="112.7" x2="86.5" y2="113.4" class="b13" stroke-width="0.9"/><line x1="79.4" y1="124.7" x2="92.0" y2="130.9" class="b9" stroke-width="1.1"/><line x1="92.0" y1="130.9" x2="110.5" y2="139.9" class="b10" stroke-width="1.1"/><line x1="110.5" y1="139.9" x2="116.3" y2="142.7" class="b10" stroke-width="1.1"/><line x1="21.8" y1="109.1" x2="58.4" y2="125.8" class="b7" stroke-width="0.8"/><line x1="58.4" y1="125.8" x2="70.9" y2="131.4" class="b9" stroke-width="0.8"/><line x1="70.9" y1="131.4" x2="103.6" y2="146.3" class="b7" stroke-width="0.8"/><line x1="53.3" y1="130.7" x2="82.4" y2="143.9" class="b8" stroke-width="1.0"/><line x1="82.4" y1="143.9" x2="103.1" y2="153.2" class="b9" stroke-width="1.0"/><line x1="12.2" y1="126.6" x2="46.4" y2="142.8" class="b10" stroke-width="0.9"/><line x1="46.4" y1="142.8" x2="73.0" y2="155.4" class="b10" stroke-width="0.9"/><line x1="73.0" y1="155.4" x2="99.6" y2="168.0" class="b11" stroke-width="0.9"/><line x1="99.6" y1="168.0" x2="104.9" y2="170.4" class="b10" stroke-width="0.9"/><line x1="85.4" y1="174.0" x2="101.9" y2="181.9" class="b10" stroke-width="0.9"/><line x1="101.9" y1="181.9" x2="127.0" y2="193.9" class="b11" stroke-width="0.9"/><line x1="62.8" y1="173.0" x2="93.5" y2="186.9" class="b11" stroke-width="0.9"/><line x1="93.5" y1="186.9" x2="103.4" y2="191.3" class="b9" stroke-width="0.9"/><line x1="19.0" y1="162.3" x2="60.8" y2="181.4" class="b14" stroke-width="0.9"/><line x1="60.8" y1="181.4" x2="83.8" y2="191.9" class="b13" stroke-width="0.9"/><line x1="22.8" y1="170.8" x2="45.2" y2="181.7" class="b8" stroke-width="1.0"/><line x1="45.2" y1="181.7" x2="75.1" y2="196.2" class="b9" stroke-width="1.0"/><line x1="-2.0" y1="169.4" x2="10.3" y2="175.3" class="b11" stroke-width="1.1"/><line x1="10.3" y1="175.3" x2="44.2" y2="191.3" class="b13" stroke-width="1.1"/><line x1="71.1" y1="204.0" x2="85.5" y2="210.8" class="b13" stroke-width="1.1"/><line x1="85.5" y1="210.8" x2="113.5" y2="224.1" class="b12" stroke-width="1.1"/><line x1="113.5" y1="224.1" x2="127.0" y2="230.4" class="b11" stroke-width="1.1"/><line x1="1.2" y1="187.1" x2="19.2" y2="195.6" class="b14" stroke-width="1.3"/><line x1="-2.0" y1="197.5" x2="11.6" y2="203.6" class="b10" stroke-width="1.3"/><line x1="11.6" y1="203.6" x2="31.4" y2="212.6" class="b12" stroke-width="1.3"/><line x1="31.4" y1="212.6" x2="71.4" y2="230.6" class="b10" stroke-width="1.3"/><line x1="90.2" y1="239.1" x2="117.3" y2="251.3" class="b12" stroke-width="1.3"/><line x1="117.3" y1="251.3" x2="127.0" y2="255.7" class="b10" stroke-width="1.3"/><line x1="-2.0" y1="208.0" x2="40.0" y2="227.0" class="b13" stroke-width="1.2"/><line x1="40.0" y1="227.0" x2="84.7" y2="247.3" class="b12" stroke-width="1.2"/><line x1="84.7" y1="247.3" x2="106.2" y2="257.0" class="b12" stroke-width="1.2"/><line x1="106.2" y1="257.0" x2="127.0" y2="266.4" class="b12" stroke-width="1.2"/><line x1="-2.0" y1="223.2" x2="26.8" y2="237.1" class="b10" stroke-width="1.2"/><line x1="26.8" y1="237.1" x2="41.3" y2="244.0" class="b10" stroke-width="1.2"/><line x1="41.3" y1="244.0" x2="53.9" y2="250.1" class="b9" stroke-width="1.2"/><line x1="53.9" y1="250.1" x2="68.7" y2="257.2" class="b8" stroke-width="1.2"/><line x1="68.7" y1="257.2" x2="103.7" y2="274.1" class="b10" stroke-width="1.2"/><line x1="103.7" y1="274.1" x2="117.3" y2="280.6" class="b9" stroke-width="1.2"/><line x1="-2.0" y1="233.3" x2="30.5" y2="248.5" class="b10" stroke-width="1.0"/><line x1="30.5" y1="248.5" x2="59.5" y2="262.1" class="b10" stroke-width="1.0"/><line x1="78.6" y1="271.0" x2="122.5" y2="291.4" class="b11" stroke-width="1.0"/><line x1="122.5" y1="291.4" x2="127.0" y2="293.5" class="b9" stroke-width="1.0"/><line x1="56.8" y1="-15.5" x2="75.7" y2="-23.6" class="b13" stroke-width="1.0"/><line x1="75.7" y1="-23.6" x2="89.1" y2="-29.3" class="b12" stroke-width="1.0"/><line x1="89.1" y1="-29.3" x2="121.4" y2="-43.1" class="b14" stroke-width="1.0"/><line x1="121.4" y1="-43.1" x2="127.0" y2="-45.5" class="b12" stroke-width="1.0"/><line x1="-2.0" y1="23.7" x2="41.9" y2="5.2" class="b11" stroke-width="1.2"/><line x1="41.9" y1="5.2" x2="67.0" y2="-5.3" class="b12" stroke-width="1.2"/><line x1="67.0" y1="-5.3" x2="99.6" y2="-19.0" class="b12" stroke-width="1.2"/><line x1="99.6" y1="-19.0" x2="115.2" y2="-25.5" class="b11" stroke-width="1.2"/><line x1="115.2" y1="-25.5" x2="127.0" y2="-30.5" class="b11" stroke-width="1.2"/><line x1="-2.0" y1="38.6" x2="36.0" y2="21.6" class="b7" stroke-width="1.0"/><line x1="36.0" y1="21.6" x2="62.2" y2="9.8" class="b6" stroke-width="1.0"/><line x1="99.5" y1="-7.0" x2="120.8" y2="-16.5" class="b6" stroke-width="1.0"/><line x1="120.8" y1="-16.5" x2="127.0" y2="-19.3" class="b8" stroke-width="1.0"/><line x1="-1.0" y1="56.8" x2="19.5" y2="48.1" class="b13" stroke-width="0.9"/><line x1="19.5" y1="48.1" x2="43.1" y2="38.1" class="b11" stroke-width="0.9"/><line x1="-2.0" y1="68.4" x2="33.1" y2="53.9" class="b15" stroke-width="1.1"/><line x1="33.1" y1="53.9" x2="62.5" y2="41.7" class="b14" stroke-width="1.1"/><line x1="62.5" y1="41.7" x2="82.5" y2="33.4" class="b15" stroke-width="1.1"/><line x1="82.5" y1="33.4" x2="95.1" y2="28.2" class="b13" stroke-width="1.1"/><line x1="95.1" y1="28.2" x2="120.6" y2="17.7" class="b13" stroke-width="1.1"/><line x1="120.6" y1="17.7" x2="127.0" y2="15.0" class="b14" stroke-width="1.1"/><line x1="-2.0" y1="80.0" x2="30.5" y2="65.7" class="b13" stroke-width="1.0"/><line x1="30.5" y1="65.7" x2="75.5" y2="45.8" class="b13" stroke-width="1.0"/><line x1="75.5" y1="45.8" x2="110.8" y2="30.1" class="b13" stroke-width="1.0"/><line x1="69.5" y1="62.5" x2="106.1" y2="46.9" class="b9" stroke-width="1.3"/><line x1="106.1" y1="46.9" x2="123.1" y2="39.6" class="b10" stroke-width="1.3"/><line x1="123.1" y1="39.6" x2="127.0" y2="38.0" class="b11" stroke-width="1.3"/><line x1="-2.0" y1="105.7" x2="26.2" y2="93.3" class="b8" stroke-width="1.0"/><line x1="26.2" y1="93.3" x2="41.6" y2="86.6" class="b8" stroke-width="1.0"/><line x1="75.2" y1="91.6" x2="115.9" y2="74.3" class="b12" stroke-width="0.8"/><line x1="115.9" y1="74.3" x2="127.0" y2="69.6" class="b11" stroke-width="0.8"/><line x1="50.6" y1="111.2" x2="66.7" y2="104.5" class="b10" stroke-width="1.2"/><line x1="66.7" y1="104.5" x2="82.1" y2="98.2" class="b13" stroke-width="1.2"/><line x1="82.1" y1="98.2" x2="120.0" y2="82.4" class="b11" stroke-width="1.2"/><line x1="-2.0" y1="148.9" x2="40.8" y2="129.7" class="b8" stroke-width="0.9"/><line x1="73.8" y1="114.8" x2="95.7" y2="105.0" class="b7" stroke-width="0.9"/><line x1="95.7" y1="105.0" x2="127.0" y2="91.0" class="b6" stroke-width="0.9"/><line x1="-2.0" y1="162.3" x2="28.3" y2="148.8" class="b9" stroke-width="1.1"/><line x1="28.3" y1="148.8" x2="52.3" y2="138.1" class="b9" stroke-width="1.1"/><line x1="52.3" y1="138.1" x2="77.4" y2="127.0" class="b10" stroke-width="1.1"/><line x1="77.4" y1="127.0" x2="108.8" y2="113.0" class="b11" stroke-width="1.1"/><line x1="108.8" y1="113.0" x2="126.7" y2="105.1" class="b9" stroke-width="1.1"/><line x1="126.7" y1="105.1" x2="127.0" y2="105.0" class="b11" stroke-width="1.1"/><line x1="-2.0" y1="188.7" x2="21.3" y2="179.0" class="b7" stroke-width="0.9"/><line x1="21.3" y1="179.0" x2="61.5" y2="162.2" class="b9" stroke-width="0.9"/><line x1="61.5" y1="162.2" x2="75.6" y2="156.3" class="b8" stroke-width="0.9"/><line x1="75.6" y1="156.3" x2="102.0" y2="145.3" class="b7" stroke-width="0.9"/><line x1="102.0" y1="145.3" x2="127.0" y2="134.8" class="b9" stroke-width="0.9"/><line x1="-2.0" y1="197.0" x2="42.7" y2="176.9" class="b9" stroke-width="1.0"/><line x1="42.7" y1="176.9" x2="78.4" y2="160.8" class="b9" stroke-width="1.0"/><line x1="78.4" y1="160.8" x2="109.3" y2="146.9" class="b9" stroke-width="1.0"/><line x1="109.3" y1="146.9" x2="126.9" y2="139.0" class="b9" stroke-width="1.0"/><line x1="126.9" y1="139.0" x2="127.0" y2="139.0" class="b9" stroke-width="1.0"/><line x1="-2.0" y1="212.1" x2="42.4" y2="193.4" class="b10" stroke-width="1.2"/><line x1="114.2" y1="163.0" x2="127.0" y2="157.6" class="b10" stroke-width="1.2"/><line x1="-2.0" y1="220.9" x2="10.1" y2="215.9" class="b10" stroke-width="1.0"/><line x1="10.1" y1="215.9" x2="52.0" y2="198.6" class="b11" stroke-width="1.0"/><line x1="82.6" y1="186.0" x2="113.2" y2="173.3" class="b10" stroke-width="1.0"/><line x1="113.2" y1="173.3" x2="127.0" y2="167.6" class="b13" stroke-width="1.0"/><line x1="-2.0" y1="246.3" x2="14.1" y2="239.4" class="b10" stroke-width="1.2"/><line x1="14.1" y1="239.4" x2="41.8" y2="227.7" class="b8" stroke-width="1.2"/><line x1="41.8" y1="227.7" x2="82.0" y2="210.6" class="b8" stroke-width="1.2"/><line x1="82.0" y1="210.6" x2="106.2" y2="200.3" class="b10" stroke-width="1.2"/><line x1="106.2" y1="200.3" x2="127.0" y2="191.5" class="b11" stroke-width="1.2"/><line x1="-2.0" y1="255.0" x2="19.0" y2="246.3" class="b8" stroke-width="1.2"/><line x1="57.8" y1="230.3" x2="94.3" y2="215.3" class="b7" stroke-width="1.2"/><line x1="94.3" y1="215.3" x2="112.2" y2="207.9" class="b7" stroke-width="1.2"/><line x1="112.2" y1="207.9" x2="127.0" y2="201.8" class="b7" stroke-width="1.2"/><line x1="80.8" y1="237.7" x2="113.5" y2="223.8" class="b13" stroke-width="1.2"/><line x1="-2.0" y1="290.0" x2="10.4" y2="284.5" class="b9" stroke-width="1.0"/><line x1="10.4" y1="284.5" x2="38.2" y2="272.4" class="b8" stroke-width="1.0"/><line x1="38.2" y1="272.4" x2="57.4" y2="264.0" class="b9" stroke-width="1.0"/><line x1="57.4" y1="264.0" x2="81.1" y2="253.7" class="b9" stroke-width="1.0"/><line x1="81.1" y1="253.7" x2="109.4" y2="241.3" class="b8" stroke-width="1.0"/><line x1="109.4" y1="241.3" x2="127.0" y2="233.6" class="b10" stroke-width="1.0"/><line x1="37.3" y1="146.4" x2="68.5" y2="161.3" class="b6" stroke-width="0.9"/><line x1="-1.7" y1="9.3" x2="41.1" y2="29.4" class="b6" stroke-width="0.6"/><line x1="1.5" y1="67.1" x2="91.3" y2="27.5" class="b6" stroke-width="1.0"/><line x1="38.8" y1="78.3" x2="62.5" y2="67.7" class="b6" stroke-width="0.7"/><line x1="74.1" y1="12.9" x2="123.1" y2="36.5" class="b6" stroke-width="0.7"/><line x1="69.0" y1="-17.4" x2="101.6" y2="-2.5" class="b6" stroke-width="0.7"/><line x1="60.5" y1="194.6" x2="119.1" y2="170.3" class="b6" stroke-width="0.6"/><line x1="73.7" y1="35.3" x2="127.0" y2="61.1" class="b7" stroke-width="0.7"/><line x1="29.7" y1="249.3" x2="46.7" y2="257.2" class="b7" stroke-width="0.9"/><line x1="43.1" y1="124.5" x2="114.2" y2="93.9" class="b7" stroke-width="0.8"/><line x1="11.9" y1="47.5" x2="53.1" y2="30.0" class="b6" stroke-width="0.7"/><line x1="3.4" y1="28.6" x2="79.4" y2="-4.7" class="b6" stroke-width="0.7"/><line x1="76.6" y1="229.1" x2="122.1" y2="209.9" class="b6" stroke-width="1.0"/><line x1="28.8" y1="130.9" x2="62.3" y2="117.0" class="b6" stroke-width="0.7"/><line x1="37.6" y1="188.0" x2="115.4" y2="225.5" class="b7" stroke-width="0.7"/><line x1="3.7" y1="-7.6" x2="44.1" y2="11.2" class="b6" stroke-width="1.0"/><line x1="76.6" y1="40.4" x2="127.0" y2="18.7" class="b6" stroke-width="0.6"/><line x1="70.3" y1="210.2" x2="127.0" y2="237.6" class="b7" stroke-width="0.8"/><line x1="20.6" y1="146.5" x2="93.2" y2="114.7" class="b7" stroke-width="0.9"/><line x1="50.8" y1="150.0" x2="127.0" y2="115.7" class="b6" stroke-width="0.7"/><line x1="9.0" y1="213.3" x2="31.1" y2="224.1" class="b7" stroke-width="0.6"/><line x1="51.7" y1="221.2" x2="76.2" y2="232.3" class="b6" stroke-width="0.7"/><line x1="13.1" y1="-4.7" x2="56.4" y2="15.2" class="b6" stroke-width="0.8"/><line x1="61.5" y1="229.0" x2="127.0" y2="260.3" class="b7" stroke-width="0.8"/><line x1="56.3" y1="19.1" x2="90.3" y2="35.5" class="b6" stroke-width="0.7"/><line x1="71.9" y1="65.4" x2="109.0" y2="82.6" class="b6" stroke-width="0.8"/><line x1="39.7" y1="157.2" x2="109.8" y2="126.0" class="b6" stroke-width="0.7"/><line x1="3.2" y1="161.8" x2="79.3" y2="129.1" class="b6" stroke-width="0.7"/><line x1="4.2" y1="-26.0" x2="24.7" y2="-15.9" class="b6" stroke-width="0.9"/><line x1="50.9" y1="-30.0" x2="99.1" y2="-7.1" class="b6" stroke-width="0.8"/><line x1="33.6" y1="-30.1" x2="67.1" y2="-14.7" class="b6" stroke-width="0.9"/><line x1="29.6" y1="56.0" x2="81.1" y2="33.8" class="b6" stroke-width="1.0"/><line x1="56.8" y1="112.7" x2="127.0" y2="145.7" class="b6" stroke-width="0.9"/><line x1="55.3" y1="226.5" x2="121.5" y2="198.5" class="b7" stroke-width="1.0"/><line x1="77.0" y1="221.5" x2="127.0" y2="245.2" class="b7" stroke-width="0.7"/><line x1="43.4" y1="3.4" x2="64.3" y2="13.1" class="b7" stroke-width="1.0"/><line x1="76.4" y1="-1.5" x2="127.0" y2="-23.3" class="b7" stroke-width="0.7"/><line x1="76.0" y1="43.8" x2="115.2" y2="27.2" class="b7" stroke-width="0.9"/><line x1="47.0" y1="21.8" x2="82.8" y2="38.9" class="b7" stroke-width="1.0"/><line x1="21.0" y1="133.1" x2="49.1" y2="146.2" class="b7" stroke-width="0.7"/><line x1="64.5" y1="-18.3" x2="127.0" y2="12.2" class="b6" stroke-width="0.6"/><line x1="55.4" y1="145.6" x2="88.5" y2="160.5" class="b7" stroke-width="0.8"/><line x1="71.3" y1="107.9" x2="114.1" y2="127.6" class="b7" stroke-width="0.9"/><line x1="13.4" y1="8.6" x2="58.6" y2="-10.8" class="b6" stroke-width="0.7"/><line x1="70.5" y1="239.9" x2="86.8" y2="233.1" class="b6" stroke-width="0.6"/><line x1="13.4" y1="215.3" x2="32.9" y2="207.1" class="b6" stroke-width="0.8"/><line x1="25.7" y1="221.7" x2="60.9" y2="206.6" class="b7" stroke-width="0.7"/><line x1="3.5" y1="19.2" x2="56.9" y2="-2.9" class="b6" stroke-width="0.7"/><line x1="38.6" y1="-31.5" x2="104.7" y2="-1.6" class="b6" stroke-width="0.7"/><line x1="31.5" y1="115.3" x2="98.3" y2="147.8" class="b6" stroke-width="0.8"/><line x1="1.3" y1="4.1" x2="42.7" y2="24.1" class="b6" stroke-width="0.9"/><line x1="11.3" y1="92.1" x2="90.1" y2="129.8" class="b6" stroke-width="1.0"/><line x1="72.0" y1="194.5" x2="127.0" y2="170.3" class="b6" stroke-width="1.0"/><line x1="63.1" y1="249.0" x2="78.9" y2="256.7" class="b7" stroke-width="0.8"/><line x1="11.2" y1="183.5" x2="96.1" y2="147.9" class="b6" stroke-width="1.0"/><line x1="61.6" y1="135.0" x2="127.0" y2="167.0" class="b6" stroke-width="0.7"/><line x1="42.3" y1="12.7" x2="118.4" y2="48.1" class="b7" stroke-width="0.7"/><line x1="0.2" y1="112.5" x2="65.1" y2="142.8" class="b7" stroke-width="0.6"/><line x1="40.1" y1="243.2" x2="64.4" y2="232.9" class="b7" stroke-width="0.8"/><line x1="51.4" y1="197.1" x2="85.3" y2="182.9" class="b7" stroke-width="0.8"/><line x1="35.6" y1="116.1" x2="53.3" y2="124.3" class="b6" stroke-width="0.8"/><line x1="79.5" y1="179.3" x2="122.7" y2="161.1" class="b7" stroke-width="0.6"/><line x1="79.8" y1="133.7" x2="109.6" y2="121.0" class="b7" stroke-width="0.9"/><line x1="28.4" y1="3.8" x2="105.4" y2="-29.4" class="b7" stroke-width="0.8"/><line x1="54.8" y1="143.8" x2="127.0" y2="178.1" class="b6" stroke-width="0.7"/><line x1="74.1" y1="211.2" x2="104.0" y2="225.6" class="b6" stroke-width="1.0"/><line x1="10.0" y1="132.8" x2="87.3" y2="168.6" class="b7" stroke-width="0.9"/><line x1="38.8" y1="19.3" x2="107.3" y2="50.7" class="b7" stroke-width="0.9"/><line x1="13.8" y1="55.9" x2="39.4" y2="68.1" class="b7" stroke-width="0.9"/><line x1="51.7" y1="225.0" x2="68.3" y2="232.6" class="b6" stroke-width="0.8"/><line x1="-2.0" y1="11.5" x2="127.0" y2="73.0" class="b13" stroke-width="1.3"/><line x1="78.0" y1="-1.0" x2="127.0" y2="23.0" class="b14" stroke-width="1.3"/><line x1="6.8" y1="167.3" x2="127.0" y2="113.5" class="b24" stroke-width="0.9" stroke-dasharray="7 2 3 2"/><line x1="4.5" y1="216.0" x2="43.0" y2="235.0" class="b18" stroke-width="1.1"/><line x1="27.8" y1="-5.2" x2="135.8" y2="47.2" class="b11" stroke-width="1.0"/><line x1="-10.9" y1="23.4" x2="135.9" y2="91.0" class="b13" stroke-width="1.2"/><line x1="-10.8" y1="48.1" x2="65.3" y2="85.3" class="b14" stroke-width="1.1"/><line x1="-11.0" y1="42.3" x2="97.4" y2="-4.8" class="b12" stroke-width="1.1"/><line x1="-11.0" y1="70.7" x2="136.0" y2="6.6" class="b13" stroke-width="1.1"/><line x1="11.8" y1="84.9" x2="135.9" y2="29.1" class="b12" stroke-width="1.2"/><line x1="-11.0" y1="21.8" x2="49.6" y2="-4.8" class="b14" stroke-width="1.2"/><line x1="57.0" y1="84.9" x2="136.0" y2="49.6" class="b13" stroke-width="1.2"/><line x1="-10.9" y1="95.5" x2="135.9" y2="164.1" class="b12" stroke-width="1.2"/><line x1="-10.9" y1="77.3" x2="135.9" y2="145.5" class="b13" stroke-width="1.0"/><line x1="16.4" y1="73.9" x2="135.9" y2="129.6" class="b14" stroke-width="1.2"/><line x1="57.2" y1="73.9" x2="135.8" y2="111.1" class="b12" stroke-width="1.0"/><line x1="-10.7" y1="119.1" x2="78.7" y2="164.4" class="b13" stroke-width="0.9"/><line x1="-11.0" y1="128.2" x2="111.0" y2="74.1" class="b13" stroke-width="1.1"/><line x1="-10.9" y1="154.5" x2="135.9" y2="87.6" class="b12" stroke-width="1.1"/><line x1="-11.0" y1="105.4" x2="61.0" y2="74.2" class="b14" stroke-width="1.2"/><line x1="34.5" y1="163.8" x2="136.0" y2="119.7" class="b10" stroke-width="1.2"/><line x1="-10.9" y1="156.9" x2="135.9" y2="225.1" class="b11" stroke-width="1.2"/><line x1="2.9" y1="168.6" x2="135.7" y2="236.1" class="b14" stroke-width="1.1"/><line x1="34.7" y1="175.4" x2="135.8" y2="224.7" class="b14" stroke-width="1.2"/><line x1="-11.2" y1="188.3" x2="79.2" y2="153.7" class="b12" stroke-width="0.9"/><line x1="-11.3" y1="206.0" x2="136.3" y2="154.0" class="b12" stroke-width="1.2"/><line x1="-11.1" y1="235.3" x2="136.1" y2="173.9" class="b12" stroke-width="0.9"/><line x1="45.8" y1="241.7" x2="136.0" y2="203.3" class="b10" stroke-width="0.9"/></g>
<clipPath id="clipa"><rect x="37.0" y="12.0" width="125.0" height="237.5"/></clipPath>
<radialGradient id="dota"><stop offset="0.00" stop-color="#00b8ff"/><stop offset="0.30" stop-color="#00e3ff"/><stop offset="0.55" stop-color="#17ffe8"/><stop offset="0.72" stop-color="#4affb5"/><stop offset="0.80" stop-color="#7eff81"/><stop offset="0.90" stop-color="#e4ff1b"/><stop offset="1.00" stop-color="#ffa200" stop-opacity="0.4"/></radialGradient>
<clipPath id="clipb"><rect x="214.0" y="12.0" width="125.0" height="236.6"/></clipPath>
<radialGradient id="dotb"><stop offset="0.00" stop-color="#94ff6b"/><stop offset="0.30" stop-color="#b1ff4e"/><stop offset="0.55" stop-color="#d5ff2a"/><stop offset="0.72" stop-color="#f8ff07"/><stop offset="0.80" stop-color="#ffe200"/><stop offset="0.90" stop-color="#ff9b00"/><stop offset="1.00" stop-color="#ff4800" stop-opacity="0.4"/></radialGradient>
<clipPath id="clipc"><rect x="393.5" y="14.2" width="124.7" height="237.2"/></clipPath>
<radialGradient id="dotc"><stop offset="0.00" stop-color="#94ff6b"/><stop offset="0.30" stop-color="#b1ff4e"/><stop offset="0.55" stop-color="#d5ff2a"/><stop offset="0.72" stop-color="#f8ff07"/><stop offset="0.80" stop-color="#ffe200"/><stop offset="0.90" stop-color="#ff9b00"/><stop offset="1.00" stop-color="#ff4800" stop-opacity="0.4"/></radialGradient>
<clipPath id="clipd"><rect x="36.1" y="282.9" width="125.0" height="236.8"/></clipPath>
<radialGradient id="dotd"><stop offset="0.00" stop-color="#94ff6b"/><stop offset="0.30" stop-color="#b1ff4e"/><stop offset="0.55" stop-color="#d5ff2a"/><stop offset="0.72" stop-color="#f8ff07"/><stop offset="0.80" stop-color="#ffe200"/><stop offset="0.90" stop-color="#ff9b00"/><stop offset="1.00" stop-color="#ff4800" stop-opacity="0.4"/></radialGradient>
<clipPath id="clipe"><rect x="210.5" y="284.2" width="125.6" height="237.0"/></clipPath>
<radialGradient id="dote"><stop offset="0.00" stop-color="#94ff6b"/><stop offset="0.30" stop-color="#b1ff4e"/><stop offset="0.55" stop-color="#d5ff2a"/><stop offset="0.72" stop-color="#f8ff07"/><stop offset="0.80" stop-color="#ffe200"/><stop offset="0.90" stop-color="#ff9b00"/><stop offset="1.00" stop-color="#ff4800" stop-opacity="0.4"/></radialGradient>
<clipPath id="clipf"><rect x="391.7" y="284.0" width="124.5" height="237.3"/></clipPath>
<radialGradient id="dotf"><stop offset="0.00" stop-color="#94ff6b"/><stop offset="0.30" stop-color="#b1ff4e"/><stop offset="0.55" stop-color="#d5ff2a"/><stop offset="0.72" stop-color="#f8ff07"/><stop offset="0.80" stop-color="#ffe200"/><stop offset="0.90" stop-color="#ff9b00"/><stop offset="1.00" stop-color="#ff4800" stop-opacity="0.4"/></radialGradient>
<clipPath id="clipg"><rect x="211.2" y="552.2" width="124.9" height="237.5"/></clipPath>
<radialGradient id="dotg"><stop offset="0.00" stop-color="#94ff6b"/><stop offset="0.30" stop-color="#b1ff4e"/><stop offset="0.55" stop-color="#d5ff2a"/><stop offset="0.72" stop-color="#f8ff07"/><stop offset="0.80" stop-color="#ffe200"/><stop offset="0.90" stop-color="#ff9b00"/><stop offset="1.00" stop-color="#ff4800" stop-opacity="0.4"/></radialGradient>
</defs>
<rect width="550" height="817" fill="#fff"/>
<g clip-path="url(#clipa)">
<rect x="37.0" y="12.0" width="125.0" height="237.5" fill="#f2360f"/>
<use href="#tex" filter="url(#soft)" style="--b0:#b10000;--b1:#d30000;--b2:#f60000;--b3:#ff1900;--b4:#ff3b00;--b5:#ff5d00;--b6:#ff7f00;--b7:#ffa200;--b8:#ffc400;--b9:#ffe600;--b10:#d3ff2c;--b11:#b1ff4e;--b12:#8fff70;--b13:#6dff92;--b14:#4affb5;--b15:#28ffd7;--b16:#06fff9;--b17:#00e3ff;--b18:#00c1ff;--b19:#009eff;--b20:#007cff;--b21:#005aff;--b22:#0038ff;--b23:#0015ff;--b24:#0000f2;--b25:#0000d0;--b26:#0000ae;--b27:#00008b" transform="translate(37.00 12.00) scale(1.0000 1.0021)"/>
</g>
<rect x="169.8" y="12.4" width="5.8" height="237.1" fill="url(#jet)"/>
<text x="178.8" y="47.8" font-size="7.8" fill="#5c5c5c" dominant-baseline="central">0</text>
<text x="178.8" y="87.5" font-size="7.8" fill="#5c5c5c" dominant-baseline="central">-1</text>
<text x="178.8" y="127.2" font-size="7.8" fill="#5c5c5c" dominant-baseline="central">-2</text>
<text x="178.8" y="166.9" font-size="7.8" fill="#5c5c5c" dominant-baseline="central">-3</text>
<text x="178.8" y="206.6" font-size="7.8" fill="#5c5c5c" dominant-baseline="central">-4</text>
<text x="178.8" y="246.3" font-size="7.8" fill="#5c5c5c" dominant-baseline="central">-5</text>
<text x="34.75" y="35.0" font-size="8.2" font-weight="bold" fill="#0c0c0c" stroke="#0c0c0c" stroke-width="0.55" text-anchor="end" dominant-baseline="central" textLength="18.4" lengthAdjust="spacingAndGlyphs">5000</text>
<text x="34.75" y="77.6" font-size="8.2" font-weight="bold" fill="#0c0c0c" stroke="#0c0c0c" stroke-width="0.55" text-anchor="end" dominant-baseline="central" textLength="18.4" lengthAdjust="spacingAndGlyphs">4000</text>
<text x="34.75" y="119.9" font-size="8.2" font-weight="bold" fill="#0c0c0c" stroke="#0c0c0c" stroke-width="0.55" text-anchor="end" dominant-baseline="central" textLength="18.4" lengthAdjust="spacingAndGlyphs">3000</text>
<text x="34.75" y="162.8" font-size="8.2" font-weight="bold" fill="#0c0c0c" stroke="#0c0c0c" stroke-width="0.55" text-anchor="end" dominant-baseline="central" textLength="18.4" lengthAdjust="spacingAndGlyphs">2000</text>
<text x="34.75" y="205.5" font-size="8.2" font-weight="bold" fill="#0c0c0c" stroke="#0c0c0c" stroke-width="0.55" text-anchor="end" dominant-baseline="central" textLength="18.4" lengthAdjust="spacingAndGlyphs">1000</text>
<text x="31.5" y="248.2" font-size="8.2" font-weight="bold" fill="#0c0c0c" stroke="#0c0c0c" stroke-width="0.55" text-anchor="middle" dominant-baseline="central">0</text>
<text x="36.9" y="254.2" font-size="8.2" font-weight="bold" fill="#0c0c0c" stroke="#0c0c0c" stroke-width="0.55" text-anchor="middle" dominant-baseline="central">0</text>
<text x="52.2" y="254.2" font-size="8.2" font-weight="bold" fill="#0c0c0c" stroke="#0c0c0c" stroke-width="0.55" text-anchor="middle" dominant-baseline="central" textLength="14.4" lengthAdjust="spacingAndGlyphs">500</text>
<text x="73.3" y="254.2" font-size="8.2" font-weight="bold" fill="#0c0c0c" stroke="#0c0c0c" stroke-width="0.55" text-anchor="middle" dominant-baseline="central" textLength="18.4" lengthAdjust="spacingAndGlyphs">1000</text>
<text x="96.2" y="254.2" font-size="8.2" font-weight="bold" fill="#0c0c0c" stroke="#0c0c0c" stroke-width="0.55" text-anchor="middle" dominant-baseline="central" textLength="18.4" lengthAdjust="spacingAndGlyphs">1500</text>
<text x="119.3" y="254.2" font-size="8.2" font-weight="bold" fill="#0c0c0c" stroke="#0c0c0c" stroke-width="0.55" text-anchor="middle" dominant-baseline="central" textLength="18.4" lengthAdjust="spacingAndGlyphs">2000</text>
<text x="139.5" y="254.2" font-size="8.2" font-weight="bold" fill="#0c0c0c" stroke="#0c0c0c" stroke-width="0.55" text-anchor="middle" dominant-baseline="central" textLength="18.4" lengthAdjust="spacingAndGlyphs">2500</text>
<text x="160.2" y="254.2" font-size="8.2" font-weight="bold" fill="#0c0c0c" stroke="#0c0c0c" stroke-width="0.55" text-anchor="middle" dominant-baseline="central" textLength="18.4" lengthAdjust="spacingAndGlyphs">3000</text>
<text x="101.4" y="267.7" font-size="8.8" font-weight="bold" fill="#141414" stroke="#141414" stroke-width="0.3" text-anchor="middle" dominant-baseline="central" textLength="24.2" lengthAdjust="spacingAndGlyphs">X <tspan font-size="8.7" stroke-width="0.15">(μm)</tspan></text>
<text transform="translate(16.4 138.3) rotate(-90)" font-size="8.8" font-weight="bold" fill="#141414" stroke="#141414" stroke-width="0.3" text-anchor="middle" dominant-baseline="central" textLength="24.2" lengthAdjust="spacingAndGlyphs">Y <tspan font-size="8.7" stroke-width="0.15">(μm)</tspan></text>
<text x="143.6" y="267.1" font-size="11" font-weight="bold" fill="#141414" stroke="#141414" stroke-width="0.35" text-anchor="middle" dominant-baseline="central">(a)</text>
<g clip-path="url(#clipb)">
<rect x="214.0" y="12.0" width="125.0" height="236.6" fill="#e8180a"/>
<use href="#tex" filter="url(#soft)" style="--b0:#c80d05;--b1:#d20d05;--b2:#dd0d05;--b3:#e80d05;--b4:#f20d05;--b5:#f21805;--b6:#f22305;--b7:#f22d05;--b8:#f23805;--b9:#f24305;--b10:#ff8f00;--b11:#ffa700;--b12:#ffbf00;--b13:#ffd600;--b14:#ffee00;--b15:#f8ff07;--b16:#e1ff1e;--b17:#c9ff36;--b18:#b1ff4e;--b19:#9aff65;--b20:#82ff7d;--b21:#6aff95;--b22:#53ffac;--b23:#3bffc4;--b24:#23ffdc;--b25:#0cfff3;--b26:#00f3ff;--b27:#00dbff" transform="translate(214.00 12.00) scale(1.0000 0.9983)"/>
<circle cx="230.2" cy="29.1" r="4.2" fill="url(#dotb)"/>
<circle cx="230.2" cy="63.3" r="4.2" fill="url(#dotb)"/>
<ellipse cx="229.5" cy="61.7" rx="2.6" ry="1.0" transform="rotate(-23.0 229.5 61.7)" fill="#2dffd2" opacity="0.85"/>
<circle cx="230.2" cy="97.6" r="4.2" fill="url(#dotb)"/>
<ellipse cx="229.2" cy="95.3" rx="2.6" ry="1.0" transform="rotate(-24.2 229.2 95.3)" fill="#3bffc4" opacity="0.85"/>
<circle cx="230.2" cy="131.8" r="4.2" fill="url(#dotb)"/>
<circle cx="230.2" cy="166.0" r="4.2" fill="url(#dotb)"/>
<circle cx="230.2" cy="200.3" r="4.2" fill="url(#dotb)"/>
<circle cx="230.2" cy="234.5" r="4.2" fill="url(#dotb)"/>
<ellipse cx="230.6" cy="233.6" rx="2.6" ry="1.0" transform="rotate(26.2 230.6 233.6)" fill="#00acff" opacity="0.85"/>
<circle cx="276.4" cy="29.1" r="4.2" fill="url(#dotb)"/>
<circle cx="276.4" cy="63.3" r="4.2" fill="url(#dotb)"/>
<ellipse cx="276.4" cy="63.4" rx="2.6" ry="1.0" transform="rotate(-23.8 276.4 63.4)" fill="#29ffd6" opacity="0.85"/>
<circle cx="276.4" cy="97.6" r="4.2" fill="url(#dotb)"/>
<ellipse cx="277.1" cy="96.1" rx="2.6" ry="1.0" transform="rotate(26.0 277.1 96.1)" fill="#16ffe9" opacity="0.85"/>
<circle cx="276.4" cy="131.8" r="4.2" fill="url(#dotb)"/>
<ellipse cx="276.8" cy="132.7" rx="2.6" ry="1.0" transform="rotate(-24.4 276.8 132.7)" fill="#35ffca" opacity="0.85"/>
<circle cx="276.4" cy="166.0" r="4.2" fill="url(#dotb)"/>
<ellipse cx="275.6" cy="167.5" rx="2.6" ry="1.0" transform="rotate(26.9 275.6 167.5)" fill="#1effe1" opacity="0.85"/>
<circle cx="276.4" cy="200.3" r="4.2" fill="url(#dotb)"/>
<ellipse cx="276.2" cy="200.5" rx="2.6" ry="1.0" transform="rotate(25.9 276.2 200.5)" fill="#13ffec" opacity="0.85"/>
<circle cx="276.4" cy="234.5" r="4.2" fill="url(#dotb)"/>
<circle cx="322.5" cy="29.1" r="4.2" fill="url(#dotb)"/>
<ellipse cx="323.0" cy="30.3" rx="2.6" ry="1.0" transform="rotate(-23.5 323.0 30.3)" fill="#19ffe6" opacity="0.85"/>
<circle cx="322.5" cy="63.3" r="4.2" fill="url(#dotb)"/>
<circle cx="322.5" cy="97.6" r="4.2" fill="url(#dotb)"/>
<circle cx="322.5" cy="131.8" r="4.2" fill="url(#dotb)"/>
<ellipse cx="323.2" cy="133.3" rx="2.6" ry="1.0" transform="rotate(-24.1 323.2 133.3)" fill="#00a0ff" opacity="0.85"/>
<circle cx="322.5" cy="166.0" r="4.2" fill="url(#dotb)"/>
<circle cx="322.5" cy="200.3" r="4.2" fill="url(#dotb)"/>
<circle cx="322.5" cy="234.5" r="4.2" fill="url(#dotb)"/>
<ellipse cx="322.7" cy="234.0" rx="2.6" ry="1.0" transform="rotate(26.9 322.7 234.0)" fill="#15ffea" opacity="0.85"/>
</g>
<rect x="346.8" y="12.3" width="5.6" height="237.1" fill="url(#jet)"/>
<text x="354.2" y="37.0" font-size="7.0" fill="#5c5c5c" dominant-baseline="central">0</text>
<text x="354.2" y="64.2" font-size="7.0" fill="#5c5c5c" dominant-baseline="central">-1</text>
<text x="354.2" y="91.4" font-size="7.0" fill="#5c5c5c" dominant-baseline="central">-2</text>
<text x="354.2" y="118.6" font-size="7.0" fill="#5c5c5c" dominant-baseline="central">-3</text>
<text x="354.2" y="145.8" font-size="7.0" fill="#5c5c5c" dominant-baseline="central">-4</text>
<text x="354.2" y="173.0" font-size="7.0" fill="#5c5c5c" dominant-baseline="central">-5</text>
<text x="354.2" y="200.2" font-size="7.0" fill="#5c5c5c" dominant-baseline="central">-6</text>
<text x="354.2" y="227.4" font-size="7.0" fill="#5c5c5c" dominant-baseline="central">-7</text>
<text x="212.45" y="34.7" font-size="8.2" font-weight="bold" fill="#0c0c0c" stroke="#0c0c0c" stroke-width="0.55" text-anchor="end" dominant-baseline="central" textLength="18.4" lengthAdjust="spacingAndGlyphs">5000</text>
<text x="212.45" y="77.9" font-size="8.2" font-weight="bold" fill="#0c0c0c" stroke="#0c0c0c" stroke-width="0.55" text-anchor="end" dominant-baseline="central" textLength="18.4" lengthAdjust="spacingAndGlyphs">4000</text>
<text x="212.45" y="120.6" font-size="8.2" font-weight="bold" fill="#0c0c0c" stroke="#0c0c0c" stroke-width="0.55" text-anchor="end" dominant-baseline="central" textLength="18.4" lengthAdjust="spacingAndGlyphs">3000</text>
<text x="212.45" y="163.9" font-size="8.2" font-weight="bold" fill="#0c0c0c" stroke="#0c0c0c" stroke-width="0.55" text-anchor="end" dominant-baseline="central" textLength="18.4" lengthAdjust="spacingAndGlyphs">2000</text>
<text x="212.45" y="205.9" font-size="8.2" font-weight="bold" fill="#0c0c0c" stroke="#0c0c0c" stroke-width="0.55" text-anchor="end" dominant-baseline="central" textLength="18.4" lengthAdjust="spacingAndGlyphs">1000</text>
<text x="210.0" y="248.2" font-size="8.2" font-weight="bold" fill="#0c0c0c" stroke="#0c0c0c" stroke-width="0.55" text-anchor="middle" dominant-baseline="central">0</text>
<text x="214.7" y="254.0" font-size="8.2" font-weight="bold" fill="#0c0c0c" stroke="#0c0c0c" stroke-width="0.55" text-anchor="middle" dominant-baseline="central">0</text>
<text x="230.5" y="254.0" font-size="8.2" font-weight="bold" fill="#0c0c0c" stroke="#0c0c0c" stroke-width="0.55" text-anchor="middle" dominant-baseline="central" textLength="14.4" lengthAdjust="spacingAndGlyphs">500</text>
<text x="251.0" y="254.0" font-size="8.2" font-weight="bold" fill="#0c0c0c" stroke="#0c0c0c" stroke-width="0.55" text-anchor="middle" dominant-baseline="central" textLength="18.4" lengthAdjust="spacingAndGlyphs">1000</text>
<text x="273.8" y="254.0" font-size="8.2" font-weight="bold" fill="#0c0c0c" stroke="#0c0c0c" stroke-width="0.55" text-anchor="middle" dominant-baseline="central" textLength="18.4" lengthAdjust="spacingAndGlyphs">1500</text>
<text x="296.9" y="254.0" font-size="8.2" font-weight="bold" fill="#0c0c0c" stroke="#0c0c0c" stroke-width="0.55" text-anchor="middle" dominant-baseline="central" textLength="18.4" lengthAdjust="spacingAndGlyphs">2000</text>
<text x="317.3" y="254.0" font-size="8.2" font-weight="bold" fill="#0c0c0c" stroke="#0c0c0c" stroke-width="0.55" text-anchor="middle" dominant-baseline="central" textLength="18.4" lengthAdjust="spacingAndGlyphs">2500</text>
<text x="337.7" y="254.0" font-size="8.2" font-weight="bold" fill="#0c0c0c" stroke="#0c0c0c" stroke-width="0.55" text-anchor="middle" dominant-baseline="central" textLength="18.4" lengthAdjust="spacingAndGlyphs">3000</text>
<text x="276.8" y="267.7" font-size="8.8" font-weight="bold" fill="#141414" stroke="#141414" stroke-width="0.3" text-anchor="middle" dominant-baseline="central" textLength="24.2" lengthAdjust="spacingAndGlyphs">X <tspan font-size="8.7" stroke-width="0.15">(μm)</tspan></text>
<text transform="translate(193.7 139.8) rotate(-90)" font-size="8.8" font-weight="bold" fill="#141414" stroke="#141414" stroke-width="0.3" text-anchor="middle" dominant-baseline="central" textLength="24.2" lengthAdjust="spacingAndGlyphs">Y <tspan font-size="8.7" stroke-width="0.15">(μm)</tspan></text>
<text x="326.4" y="266.1" font-size="11" font-weight="bold" fill="#141414" stroke="#141414" stroke-width="0.35" text-anchor="middle" dominant-baseline="central">(b)</text>
<g clip-path="url(#clipc)">
<rect x="393.5" y="14.2" width="124.7" height="237.2" fill="#e8180a"/>
<use href="#tex" filter="url(#soft)" style="--b0:#c80d05;--b1:#d20d05;--b2:#dd0d05;--b3:#e80d05;--b4:#f20d05;--b5:#f21805;--b6:#f22305;--b7:#f22d05;--b8:#f23805;--b9:#f24305;--b10:#ff8f00;--b11:#ffa700;--b12:#ffbf00;--b13:#ffd600;--b14:#ffee00;--b15:#f8ff07;--b16:#e1ff1e;--b17:#c9ff36;--b18:#b1ff4e;--b19:#9aff65;--b20:#82ff7d;--b21:#6aff95;--b22:#53ffac;--b23:#3bffc4;--b24:#23ffdc;--b25:#0cfff3;--b26:#00f3ff;--b27:#00dbff" transform="translate(393.50 14.20) scale(0.9976 1.0008)"/>
<circle cx="405.1" cy="25.5" r="4.2" fill="url(#dotc)"/>
<ellipse cx="405.3" cy="26.0" rx="2.6" ry="1.0" transform="rotate(-23.8 405.3 26.0)" fill="#0efff1" opacity="0.85"/>
<circle cx="405.1" cy="49.4" r="4.2" fill="url(#dotc)"/>
<ellipse cx="405.6" cy="48.2" rx="2.6" ry="1.0" transform="rotate(24.8 405.6 48.2)" fill="#22ffdd" opacity="0.85"/>
<circle cx="405.1" cy="73.2" r="4.2" fill="url(#dotc)"/>
<ellipse cx="405.1" cy="73.3" rx="2.6" ry="1.0" transform="rotate(26.1 405.1 73.3)" fill="#16ffe9" opacity="0.85"/>
<circle cx="405.1" cy="97.1" r="4.2" fill="url(#dotc)"/>
<ellipse cx="405.9" cy="98.9" rx="2.6" ry="1.0" transform="rotate(-24.3 405.9 98.9)" fill="#3bffc4" opacity="0.85"/>
<circle cx="405.1" cy="121.0" r="4.2" fill="url(#dotc)"/>
<ellipse cx="405.3" cy="120.4" rx="2.6" ry="1.0" transform="rotate(25.1 405.3 120.4)" fill="#3cffc3" opacity="0.85"/>
<circle cx="405.1" cy="144.8" r="4.2" fill="url(#dotc)"/>
<ellipse cx="405.1" cy="144.7" rx="2.6" ry="1.0" transform="rotate(27.0 405.1 144.7)" fill="#1effe1" opacity="0.85"/>
<circle cx="405.1" cy="168.7" r="4.2" fill="url(#dotc)"/>
<circle cx="405.1" cy="192.6" r="4.2" fill="url(#dotc)"/>
<ellipse cx="406.0" cy="190.7" rx="2.6" ry="1.0" transform="rotate(25.4 406.0 190.7)" fill="#18ffe7" opacity="0.85"/>
<circle cx="405.1" cy="216.4" r="4.2" fill="url(#dotc)"/>
<circle cx="405.1" cy="240.3" r="4.2" fill="url(#dotc)"/>
<ellipse cx="405.1" cy="240.2" rx="2.6" ry="1.0" transform="rotate(-22.7 405.1 240.2)" fill="#40ffbf" opacity="0.85"/>
<circle cx="430.4" cy="25.5" r="4.2" fill="url(#dotc)"/>
<circle cx="430.4" cy="49.4" r="4.2" fill="url(#dotc)"/>
<circle cx="430.4" cy="73.2" r="4.2" fill="url(#dotc)"/>
<circle cx="430.4" cy="97.1" r="4.2" fill="url(#dotc)"/>
<ellipse cx="431.1" cy="98.6" rx="2.6" ry="1.0" transform="rotate(-23.4 431.1 98.6)" fill="#13ffec" opacity="0.85"/>
<circle cx="430.4" cy="121.0" r="4.2" fill="url(#dotc)"/>
<ellipse cx="430.5" cy="121.2" rx="2.6" ry="1.0" transform="rotate(-24.0 430.5 121.2)" fill="#1effe1" opacity="0.85"/>
<circle cx="430.4" cy="144.8" r="4.2" fill="url(#dotc)"/>
<ellipse cx="431.2" cy="146.6" rx="2.6" ry="1.0" transform="rotate(-24.5 431.2 146.6)" fill="#35ffca" opacity="0.85"/>
<circle cx="430.4" cy="168.7" r="4.2" fill="url(#dotc)"/>
<ellipse cx="430.2" cy="168.2" rx="2.6" ry="1.0" transform="rotate(-24.2 430.2 168.2)" fill="#00a0ff" opacity="0.85"/>
<circle cx="430.4" cy="192.6" r="4.2" fill="url(#dotc)"/>
<ellipse cx="431.1" cy="191.2" rx="2.6" ry="1.0" transform="rotate(26.0 431.1 191.2)" fill="#13ffec" opacity="0.85"/>
<circle cx="430.4" cy="216.4" r="4.2" fill="url(#dotc)"/>
<circle cx="430.4" cy="240.3" r="4.2" fill="url(#dotc)"/>
<ellipse cx="430.5" cy="240.1" rx="2.6" ry="1.0" transform="rotate(24.4 430.5 240.1)" fill="#2cffd3" opacity="0.85"/>
<circle cx="455.8" cy="25.5" r="4.2" fill="url(#dotc)"/>
<ellipse cx="455.4" cy="24.8" rx="2.6" ry="1.0" transform="rotate(-23.5 455.4 24.8)" fill="#40ffbf" opacity="0.85"/>
<circle cx="455.8" cy="49.4" r="4.2" fill="url(#dotc)"/>
<circle cx="455.8" cy="73.2" r="4.2" fill="url(#dotc)"/>
<ellipse cx="456.4" cy="71.7" rx="2.6" ry="1.0" transform="rotate(24.8 456.4 71.7)" fill="#22ffdd" opacity="0.85"/>
<circle cx="455.8" cy="97.1" r="4.2" fill="url(#dotc)"/>
<ellipse cx="455.3" cy="97.9" rx="2.6" ry="1.0" transform="rotate(26.1 455.3 97.9)" fill="#16ffe9" opacity="0.85"/>
<circle cx="455.8" cy="121.0" r="4.2" fill="url(#dotc)"/>
<circle cx="455.8" cy="144.8" r="4.2" fill="url(#dotc)"/>
<ellipse cx="456.0" cy="144.2" rx="2.6" ry="1.0" transform="rotate(25.1 456.0 144.2)" fill="#3cffc3" opacity="0.85"/>
<circle cx="455.8" cy="168.7" r="4.2" fill="url(#dotc)"/>
<ellipse cx="455.0" cy="170.1" rx="2.6" ry="1.0" transform="rotate(27.0 455.0 170.1)" fill="#1effe1" opacity="0.85"/>
<circle cx="455.8" cy="192.6" r="4.2" fill="url(#dotc)"/>
<ellipse cx="456.3" cy="194.2" rx="2.6" ry="1.0" transform="rotate(-19.5 456.3 194.2)" fill="#36ffc9" opacity="0.85"/>
<circle cx="455.8" cy="216.4" r="4.2" fill="url(#dotc)"/>
<ellipse cx="456.7" cy="218.6" rx="2.6" ry="1.0" transform="rotate(-22.7 456.7 218.6)" fill="#40ffbf" opacity="0.85"/>
<circle cx="455.8" cy="240.3" r="4.2" fill="url(#dotc)"/>
<circle cx="481.1" cy="25.5" r="4.2" fill="url(#dotc)"/>
<circle cx="481.1" cy="49.4" r="4.2" fill="url(#dotc)"/>
<circle cx="481.1" cy="73.2" r="4.2" fill="url(#dotc)"/>
<circle cx="481.1" cy="97.1" r="4.2" fill="url(#dotc)"/>
<ellipse cx="481.7" cy="98.4" rx="2.6" ry="1.0" transform="rotate(-24.0 481.7 98.4)" fill="#1effe1" opacity="0.85"/>
<circle cx="481.1" cy="121.0" r="4.2" fill="url(#dotc)"/>
<ellipse cx="480.9" cy="121.4" rx="2.6" ry="1.0" transform="rotate(25.0 480.9 121.4)" fill="#14ffeb" opacity="0.85"/>
<circle cx="481.1" cy="144.8" r="4.2" fill="url(#dotc)"/>
<ellipse cx="481.3" cy="145.3" rx="2.6" ry="1.0" transform="rotate(-24.2 481.3 145.3)" fill="#00a0ff" opacity="0.85"/>
<circle cx="481.1" cy="168.7" r="4.2" fill="url(#dotc)"/>
<circle cx="481.1" cy="192.6" r="4.2" fill="url(#dotc)"/>
<circle cx="481.1" cy="216.4" r="4.2" fill="url(#dotc)"/>
<ellipse cx="481.4" cy="215.8" rx="2.6" ry="1.0" transform="rotate(26.0 481.4 215.8)" fill="#13ffec" opacity="0.85"/>
<circle cx="481.1" cy="240.3" r="4.2" fill="url(#dotc)"/>
<circle cx="506.4" cy="25.5" r="4.2" fill="url(#dotc)"/>
<ellipse cx="507.3" cy="23.6" rx="2.6" ry="1.0" transform="rotate(24.6 507.3 23.6)" fill="#26ffd9" opacity="0.85"/>
<circle cx="506.4" cy="49.4" r="4.2" fill="url(#dotc)"/>
<circle cx="506.4" cy="73.2" r="4.2" fill="url(#dotc)"/>
<ellipse cx="506.7" cy="73.9" rx="2.6" ry="1.0" transform="rotate(-24.2 506.7 73.9)" fill="#1cffe3" opacity="0.85"/>
<circle cx="506.4" cy="97.1" r="4.2" fill="url(#dotc)"/>
<ellipse cx="507.3" cy="95.2" rx="2.6" ry="1.0" transform="rotate(24.8 507.3 95.2)" fill="#22ffdd" opacity="0.85"/>
<circle cx="506.4" cy="121.0" r="4.2" fill="url(#dotc)"/>
<circle cx="506.4" cy="144.8" r="4.2" fill="url(#dotc)"/>
<circle cx="506.4" cy="168.7" r="4.2" fill="url(#dotc)"/>
<ellipse cx="506.7" cy="168.0" rx="2.6" ry="1.0" transform="rotate(25.1 506.7 168.0)" fill="#3cffc3" opacity="0.85"/>
<circle cx="506.4" cy="192.6" r="4.2" fill="url(#dotc)"/>
<circle cx="506.4" cy="216.4" r="4.2" fill="url(#dotc)"/>
<circle cx="506.4" cy="240.3" r="4.2" fill="url(#dotc)"/>
<ellipse cx="506.9" cy="239.3" rx="2.6" ry="1.0" transform="rotate(27.1 506.9 239.3)" fill="#15ffea" opacity="0.85"/>
</g>
<rect x="526.5" y="14.6" width="5.6" height="236.7" fill="url(#jet)"/>
<text x="534.1" y="40.8" font-size="7.0" fill="#5c5c5c" dominant-baseline="central">0</text>
<text x="534.1" y="67.9" font-size="7.0" fill="#5c5c5c" dominant-baseline="central">-1</text>
<text x="534.1" y="95.0" font-size="7.0" fill="#5c5c5c" dominant-baseline="central">-2</text>
<text x="534.1" y="122.1" font-size="7.0" fill="#5c5c5c" dominant-baseline="central">-3</text>
<text x="534.1" y="149.2" font-size="7.0" fill="#5c5c5c" dominant-baseline="central">-4</text>
<text x="534.1" y="176.3" font-size="7.0" fill="#5c5c5c" dominant-baseline="central">-5</text>
<text x="534.1" y="203.4" font-size="7.0" fill="#5c5c5c" dominant-baseline="central">-6</text>
<text x="534.1" y="230.5" font-size="7.0" fill="#5c5c5c" dominant-baseline="central">-7</text>
<text x="390.20" y="38.8" font-size="8.2" font-weight="bold" fill="#0c0c0c" stroke="#0c0c0c" stroke-width="0.55" text-anchor="end" dominant-baseline="central" textLength="18.4" lengthAdjust="spacingAndGlyphs">5000</text>
<text x="390.20" y="81.8" font-size="8.2" font-weight="bold" fill="#0c0c0c" stroke="#0c0c0c" stroke-width="0.55" text-anchor="end" dominant-baseline="central" textLength="18.4" lengthAdjust="spacingAndGlyphs">4000</text>
<text x="390.20" y="124.4" font-size="8.2" font-weight="bold" fill="#0c0c0c" stroke="#0c0c0c" stroke-width="0.55" text-anchor="end" dominant-baseline="central" textLength="18.4" lengthAdjust="spacingAndGlyphs">3000</text>
<text x="390.20" y="167.0" font-size="8.2" font-weight="bold" fill="#0c0c0c" stroke="#0c0c0c" stroke-width="0.55" text-anchor="end" dominant-baseline="central" textLength="18.4" lengthAdjust="spacingAndGlyphs">2000</text>
<text x="390.20" y="209.8" font-size="8.2" font-weight="bold" fill="#0c0c0c" stroke="#0c0c0c" stroke-width="0.55" text-anchor="end" dominant-baseline="central" textLength="18.4" lengthAdjust="spacingAndGlyphs">1000</text>
<text x="387.3" y="252.1" font-size="8.2" font-weight="bold" fill="#0c0c0c" stroke="#0c0c0c" stroke-width="0.55" text-anchor="middle" dominant-baseline="central">0</text>
<text x="393.8" y="258.3" font-size="8.2" font-weight="bold" fill="#0c0c0c" stroke="#0c0c0c" stroke-width="0.55" text-anchor="middle" dominant-baseline="central">0</text>
<text x="409.8" y="258.3" font-size="8.2" font-weight="bold" fill="#0c0c0c" stroke="#0c0c0c" stroke-width="0.55" text-anchor="middle" dominant-baseline="central" textLength="14.4" lengthAdjust="spacingAndGlyphs">500</text>
<text x="430.1" y="258.3" font-size="8.2" font-weight="bold" fill="#0c0c0c" stroke="#0c0c0c" stroke-width="0.55" text-anchor="middle" dominant-baseline="central" textLength="18.4" lengthAdjust="spacingAndGlyphs">1000</text>
<text x="453.0" y="258.3" font-size="8.2" font-weight="bold" fill="#0c0c0c" stroke="#0c0c0c" stroke-width="0.55" text-anchor="middle" dominant-baseline="central" textLength="18.4" lengthAdjust="spacingAndGlyphs">1500</text>
<text x="476.2" y="258.3" font-size="8.2" font-weight="bold" fill="#0c0c0c" stroke="#0c0c0c" stroke-width="0.55" text-anchor="middle" dominant-baseline="central" textLength="18.4" lengthAdjust="spacingAndGlyphs">2000</text>
<text x="496.9" y="258.3" font-size="8.2" font-weight="bold" fill="#0c0c0c" stroke="#0c0c0c" stroke-width="0.55" text-anchor="middle" dominant-baseline="central" textLength="18.4" lengthAdjust="spacingAndGlyphs">2500</text>
<text x="516.9" y="258.3" font-size="8.2" font-weight="bold" fill="#0c0c0c" stroke="#0c0c0c" stroke-width="0.55" text-anchor="middle" dominant-baseline="central" textLength="18.4" lengthAdjust="spacingAndGlyphs">3000</text>
<text x="464.9" y="269.2" font-size="8.8" font-weight="bold" fill="#141414" stroke="#141414" stroke-width="0.3" text-anchor="middle" dominant-baseline="central" textLength="24.2" lengthAdjust="spacingAndGlyphs">X <tspan font-size="8.7" stroke-width="0.15">(μm)</tspan></text>
<text transform="translate(370.4 142.3) rotate(-90)" font-size="8.8" font-weight="bold" fill="#141414" stroke="#141414" stroke-width="0.3" text-anchor="middle" dominant-baseline="central" textLength="24.2" lengthAdjust="spacingAndGlyphs">Y <tspan font-size="8.7" stroke-width="0.15">(μm)</tspan></text>
<text x="508.2" y="269.1" font-size="11" font-weight="bold" fill="#141414" stroke="#141414" stroke-width="0.35" text-anchor="middle" dominant-baseline="central">(c)</text>
<g clip-path="url(#clipd)">
<rect x="36.1" y="282.9" width="125.0" height="236.8" fill="#e8180a"/>
<use href="#tex" filter="url(#soft)" style="--b0:#c80d05;--b1:#d20d05;--b2:#dd0d05;--b3:#e80d05;--b4:#f20d05;--b5:#f21805;--b6:#f22305;--b7:#f22d05;--b8:#f23805;--b9:#f24305;--b10:#ff8f00;--b11:#ffa700;--b12:#ffbf00;--b13:#ffd600;--b14:#ffee00;--b15:#f8ff07;--b16:#e1ff1e;--b17:#c9ff36;--b18:#b1ff4e;--b19:#9aff65;--b20:#82ff7d;--b21:#6aff95;--b22:#53ffac;--b23:#3bffc4;--b24:#23ffdc;--b25:#0cfff3;--b26:#00f3ff;--b27:#00dbff" transform="translate(36.10 282.90) scale(1.0000 0.9992)"/>
<circle cx="45.6" cy="291.7" r="4.2" fill="url(#dotd)"/>
<circle cx="45.6" cy="311.6" r="4.2" fill="url(#dotd)"/>
<circle cx="45.6" cy="331.4" r="4.2" fill="url(#dotd)"/>
<circle cx="45.6" cy="351.3" r="4.2" fill="url(#dotd)"/>
<circle cx="45.6" cy="371.2" r="4.2" fill="url(#dotd)"/>
<ellipse cx="46.2" cy="369.9" rx="2.6" ry="1.0" transform="rotate(24.9 46.2 369.9)" fill="#1dffe2" opacity="0.85"/>
<circle cx="45.6" cy="391.1" r="4.2" fill="url(#dotd)"/>
<circle cx="45.6" cy="410.9" r="4.2" fill="url(#dotd)"/>
<ellipse cx="45.1" cy="411.9" rx="2.6" ry="1.0" transform="rotate(26.9 45.1 411.9)" fill="#1effe1" opacity="0.85"/>
<circle cx="45.6" cy="430.8" r="4.2" fill="url(#dotd)"/>
<ellipse cx="44.5" cy="428.4" rx="2.6" ry="1.0" transform="rotate(-24.5 44.5 428.4)" fill="#35ffca" opacity="0.85"/>
<circle cx="45.6" cy="450.7" r="4.2" fill="url(#dotd)"/>
<ellipse cx="44.9" cy="449.2" rx="2.6" ry="1.0" transform="rotate(-24.1 44.9 449.2)" fill="#00a0ff" opacity="0.85"/>
<circle cx="45.6" cy="470.6" r="4.2" fill="url(#dotd)"/>
<circle cx="45.6" cy="490.4" r="4.2" fill="url(#dotd)"/>
<circle cx="45.6" cy="510.3" r="4.2" fill="url(#dotd)"/>
<ellipse cx="45.3" cy="509.6" rx="2.6" ry="1.0" transform="rotate(-22.6 45.3 509.6)" fill="#40ffbf" opacity="0.85"/>
<circle cx="66.9" cy="291.7" r="4.2" fill="url(#dotd)"/>
<circle cx="66.9" cy="311.6" r="4.2" fill="url(#dotd)"/>
<ellipse cx="67.5" cy="310.3" rx="2.6" ry="1.0" transform="rotate(25.5 67.5 310.3)" fill="#17ffe8" opacity="0.85"/>
<circle cx="66.9" cy="331.4" r="4.2" fill="url(#dotd)"/>
<circle cx="66.9" cy="351.3" r="4.2" fill="url(#dotd)"/>
<ellipse cx="66.9" cy="351.3" rx="2.6" ry="1.0" transform="rotate(26.0 66.9 351.3)" fill="#16ffe9" opacity="0.85"/>
<circle cx="66.9" cy="371.2" r="4.2" fill="url(#dotd)"/>
<ellipse cx="66.5" cy="370.3" rx="2.6" ry="1.0" transform="rotate(-23.3 66.5 370.3)" fill="#13ffec" opacity="0.85"/>
<circle cx="66.9" cy="391.1" r="4.2" fill="url(#dotd)"/>
<ellipse cx="67.4" cy="392.2" rx="2.6" ry="1.0" transform="rotate(-23.9 67.4 392.2)" fill="#1effe1" opacity="0.85"/>
<circle cx="66.9" cy="410.9" r="4.2" fill="url(#dotd)"/>
<circle cx="66.9" cy="430.8" r="4.2" fill="url(#dotd)"/>
<circle cx="66.9" cy="450.7" r="4.2" fill="url(#dotd)"/>
<ellipse cx="67.0" cy="450.5" rx="2.6" ry="1.0" transform="rotate(24.5 67.0 450.5)" fill="#12ffed" opacity="0.85"/>
<circle cx="66.9" cy="470.6" r="4.2" fill="url(#dotd)"/>
<ellipse cx="68.0" cy="468.2" rx="2.6" ry="1.0" transform="rotate(25.3 68.0 468.2)" fill="#18ffe7" opacity="0.85"/>
<circle cx="66.9" cy="490.4" r="4.2" fill="url(#dotd)"/>
<circle cx="66.9" cy="510.3" r="4.2" fill="url(#dotd)"/>
<ellipse cx="66.3" cy="511.4" rx="2.6" ry="1.0" transform="rotate(26.2 66.3 511.4)" fill="#00acff" opacity="0.85"/>
<circle cx="88.2" cy="291.7" r="4.2" fill="url(#dotd)"/>
<circle cx="88.2" cy="311.6" r="4.2" fill="url(#dotd)"/>
<circle cx="88.2" cy="331.4" r="4.2" fill="url(#dotd)"/>
<ellipse cx="87.3" cy="329.3" rx="2.6" ry="1.0" transform="rotate(-22.5 87.3 329.3)" fill="#00ffff" opacity="0.85"/>
<circle cx="88.2" cy="351.3" r="4.2" fill="url(#dotd)"/>
<ellipse cx="87.5" cy="349.9" rx="2.6" ry="1.0" transform="rotate(-24.2 87.5 349.9)" fill="#3bffc4" opacity="0.85"/>
<circle cx="88.2" cy="371.2" r="4.2" fill="url(#dotd)"/>
<ellipse cx="87.3" cy="373.0" rx="2.6" ry="1.0" transform="rotate(25.0 87.3 373.0)" fill="#14ffeb" opacity="0.85"/>
<circle cx="88.2" cy="391.1" r="4.2" fill="url(#dotd)"/>
<ellipse cx="88.8" cy="389.7" rx="2.6" ry="1.0" transform="rotate(24.9 88.8 389.7)" fill="#1dffe2" opacity="0.85"/>
<circle cx="88.2" cy="410.9" r="4.2" fill="url(#dotd)"/>
<ellipse cx="87.3" cy="409.0" rx="2.6" ry="1.0" transform="rotate(-24.5 87.3 409.0)" fill="#35ffca" opacity="0.85"/>
<circle cx="88.2" cy="430.8" r="4.2" fill="url(#dotd)"/>
<ellipse cx="87.8" cy="430.0" rx="2.6" ry="1.0" transform="rotate(-24.1 87.8 430.0)" fill="#00a0ff" opacity="0.85"/>
<circle cx="88.2" cy="450.7" r="4.2" fill="url(#dotd)"/>
<circle cx="88.2" cy="470.6" r="4.2" fill="url(#dotd)"/>
<circle cx="88.2" cy="490.4" r="4.2" fill="url(#dotd)"/>
<ellipse cx="88.6" cy="491.5" rx="2.6" ry="1.0" transform="rotate(-22.6 88.6 491.5)" fill="#40ffbf" opacity="0.85"/>
<circle cx="88.2" cy="510.3" r="4.2" fill="url(#dotd)"/>
<circle cx="109.4" cy="291.7" r="4.2" fill="url(#dotd)"/>
<circle cx="109.4" cy="311.6" r="4.2" fill="url(#dotd)"/>
<circle cx="109.4" cy="331.4" r="4.2" fill="url(#dotd)"/>
<ellipse cx="109.9" cy="330.5" rx="2.6" ry="1.0" transform="rotate(25.5 109.9 330.5)" fill="#17ffe8" opacity="0.85"/>
<circle cx="109.4" cy="351.3" r="4.2" fill="url(#dotd)"/>
<circle cx="109.4" cy="371.2" r="4.2" fill="url(#dotd)"/>
<ellipse cx="110.3" cy="373.2" rx="2.6" ry="1.0" transform="rotate(-23.9 110.3 373.2)" fill="#1effe1" opacity="0.85"/>
<circle cx="109.4" cy="391.1" r="4.2" fill="url(#dotd)"/>
<ellipse cx="109.8" cy="390.3" rx="2.6" ry="1.0" transform="rotate(24.6 109.8 390.3)" fill="#3fffc0" opacity="0.85"/>
<circle cx="109.4" cy="410.9" r="4.2" fill="url(#dotd)"/>
<circle cx="109.4" cy="430.8" r="4.2" fill="url(#dotd)"/>
<circle cx="109.4" cy="450.7" r="4.2" fill="url(#dotd)"/>
<circle cx="109.4" cy="470.6" r="4.2" fill="url(#dotd)"/>
<ellipse cx="109.7" cy="470.0" rx="2.6" ry="1.0" transform="rotate(24.5 109.7 470.0)" fill="#2dffd2" opacity="0.85"/>
<circle cx="109.4" cy="490.4" r="4.2" fill="url(#dotd)"/>
<ellipse cx="110.5" cy="488.3" rx="2.6" ry="1.0" transform="rotate(25.3 110.5 488.3)" fill="#21ffde" opacity="0.85"/>
<circle cx="109.4" cy="510.3" r="4.2" fill="url(#dotd)"/>
<circle cx="130.7" cy="291.7" r="4.2" fill="url(#dotd)"/>
<ellipse cx="131.4" cy="290.4" rx="2.6" ry="1.0" transform="rotate(26.1 131.4 290.4)" fill="#0cfff3" opacity="0.85"/>
<circle cx="130.7" cy="311.6" r="4.2" fill="url(#dotd)"/>
<ellipse cx="130.6" cy="311.3" rx="2.6" ry="1.0" transform="rotate(-22.5 130.6 311.3)" fill="#2effd1" opacity="0.85"/>
<circle cx="130.7" cy="331.4" r="4.2" fill="url(#dotd)"/>
<ellipse cx="130.4" cy="330.7" rx="2.6" ry="1.0" transform="rotate(-24.2 130.4 330.7)" fill="#3bffc4" opacity="0.85"/>
<circle cx="130.7" cy="351.3" r="4.2" fill="url(#dotd)"/>
<ellipse cx="130.6" cy="351.0" rx="2.6" ry="1.0" transform="rotate(-24.1 130.6 351.0)" fill="#1cffe3" opacity="0.85"/>
<circle cx="130.7" cy="371.2" r="4.2" fill="url(#dotd)"/>
<circle cx="130.7" cy="391.1" r="4.2" fill="url(#dotd)"/>
<ellipse cx="129.9" cy="392.8" rx="2.6" ry="1.0" transform="rotate(25.0 129.9 392.8)" fill="#14ffeb" opacity="0.85"/>
<circle cx="130.7" cy="410.9" r="4.2" fill="url(#dotd)"/>
<ellipse cx="130.7" cy="410.8" rx="2.6" ry="1.0" transform="rotate(-24.1 130.7 410.8)" fill="#00a0ff" opacity="0.85"/>
<circle cx="130.7" cy="430.8" r="4.2" fill="url(#dotd)"/>
<circle cx="130.7" cy="450.7" r="4.2" fill="url(#dotd)"/>
<ellipse cx="131.0" cy="451.4" rx="2.6" ry="1.0" transform="rotate(-19.4 131.0 451.4)" fill="#36ffc9" opacity="0.85"/>
<circle cx="130.7" cy="470.6" r="4.2" fill="url(#dotd)"/>
<circle cx="130.7" cy="490.4" r="4.2" fill="url(#dotd)"/>
<circle cx="130.7" cy="510.3" r="4.2" fill="url(#dotd)"/>
<circle cx="152.0" cy="291.7" r="4.2" fill="url(#dotd)"/>
<ellipse cx="151.4" cy="292.9" rx="2.6" ry="1.0" transform="rotate(24.6 151.4 292.9)" fill="#26ffd9" opacity="0.85"/>
<circle cx="152.0" cy="311.6" r="4.2" fill="url(#dotd)"/>
<circle cx="152.0" cy="331.4" r="4.2" fill="url(#dotd)"/>
<circle cx="152.0" cy="351.3" r="4.2" fill="url(#dotd)"/>
<ellipse cx="152.3" cy="350.7" rx="2.6" ry="1.0" transform="rotate(25.5 152.3 350.7)" fill="#17ffe8" opacity="0.85"/>
<circle cx="152.0" cy="371.2" r="4.2" fill="url(#dotd)"/>
<circle cx="152.0" cy="391.1" r="4.2" fill="url(#dotd)"/>
<circle cx="152.0" cy="410.9" r="4.2" fill="url(#dotd)"/>
<circle cx="152.0" cy="430.8" r="4.2" fill="url(#dotd)"/>
<circle cx="152.0" cy="450.7" r="4.2" fill="url(#dotd)"/>
<circle cx="152.0" cy="470.6" r="4.2" fill="url(#dotd)"/>
<circle cx="152.0" cy="490.4" r="4.2" fill="url(#dotd)"/>
<circle cx="152.0" cy="510.3" r="4.2" fill="url(#dotd)"/>
<ellipse cx="152.6" cy="509.1" rx="2.6" ry="1.0" transform="rotate(27.0 152.6 509.1)" fill="#15ffea" opacity="0.85"/>
</g>
<rect x="168.9" y="283.2" width="5.9" height="236.5" fill="url(#jet)"/>
<text x="177.0" y="306.7" font-size="7.0" fill="#5c5c5c" dominant-baseline="central">0</text>
<text x="177.0" y="333.9" font-size="7.0" fill="#5c5c5c" dominant-baseline="central">-1</text>
<text x="177.0" y="361.1" font-size="7.0" fill="#5c5c5c" dominant-baseline="central">-2</text>
<text x="177.0" y="388.3" font-size="7.0" fill="#5c5c5c" dominant-baseline="central">-3</text>
<text x="177.0" y="415.5" font-size="7.0" fill="#5c5c5c" dominant-baseline="central">-4</text>
<text x="177.0" y="442.7" font-size="7.0" fill="#5c5c5c" dominant-baseline="central">-5</text>
<text x="177.0" y="469.9" font-size="7.0" fill="#5c5c5c" dominant-baseline="central">-6</text>
<text x="177.0" y="497.1" font-size="7.0" fill="#5c5c5c" dominant-baseline="central">-7</text>
<text x="33.65" y="309.1" font-size="8.2" font-weight="bold" fill="#0c0c0c" stroke="#0c0c0c" stroke-width="0.55" text-anchor="end" dominant-baseline="central" textLength="18.4" lengthAdjust="spacingAndGlyphs">5000</text>
<text x="33.65" y="351.8" font-size="8.2" font-weight="bold" fill="#0c0c0c" stroke="#0c0c0c" stroke-width="0.55" text-anchor="end" dominant-baseline="central" textLength="18.4" lengthAdjust="spacingAndGlyphs">4000</text>
<text x="33.65" y="394.1" font-size="8.2" font-weight="bold" fill="#0c0c0c" stroke="#0c0c0c" stroke-width="0.55" text-anchor="end" dominant-baseline="central" textLength="18.4" lengthAdjust="spacingAndGlyphs">3000</text>
<text x="33.65" y="437.0" font-size="8.2" font-weight="bold" fill="#0c0c0c" stroke="#0c0c0c" stroke-width="0.55" text-anchor="end" dominant-baseline="central" textLength="18.4" lengthAdjust="spacingAndGlyphs">2000</text>
<text x="33.65" y="479.7" font-size="8.2" font-weight="bold" fill="#0c0c0c" stroke="#0c0c0c" stroke-width="0.55" text-anchor="end" dominant-baseline="central" textLength="18.4" lengthAdjust="spacingAndGlyphs">1000</text>
<text x="31.3" y="522.0" font-size="8.2" font-weight="bold" fill="#0c0c0c" stroke="#0c0c0c" stroke-width="0.55" text-anchor="middle" dominant-baseline="central">0</text>
<text x="37.1" y="525.5" font-size="8.2" font-weight="bold" fill="#0c0c0c" stroke="#0c0c0c" stroke-width="0.55" text-anchor="middle" dominant-baseline="central">0</text>
<text x="53.5" y="525.5" font-size="8.2" font-weight="bold" fill="#0c0c0c" stroke="#0c0c0c" stroke-width="0.55" text-anchor="middle" dominant-baseline="central" textLength="14.4" lengthAdjust="spacingAndGlyphs">500</text>
<text x="73.8" y="525.5" font-size="8.2" font-weight="bold" fill="#0c0c0c" stroke="#0c0c0c" stroke-width="0.55" text-anchor="middle" dominant-baseline="central" textLength="18.4" lengthAdjust="spacingAndGlyphs">1000</text>
<text x="96.6" y="525.5" font-size="8.2" font-weight="bold" fill="#0c0c0c" stroke="#0c0c0c" stroke-width="0.55" text-anchor="middle" dominant-baseline="central" textLength="18.4" lengthAdjust="spacingAndGlyphs">1500</text>
<text x="119.0" y="525.5" font-size="8.2" font-weight="bold" fill="#0c0c0c" stroke="#0c0c0c" stroke-width="0.55" text-anchor="middle" dominant-baseline="central" textLength="18.4" lengthAdjust="spacingAndGlyphs">2000</text>
<text x="139.4" y="525.5" font-size="8.2" font-weight="bold" fill="#0c0c0c" stroke="#0c0c0c" stroke-width="0.55" text-anchor="middle" dominant-baseline="central" textLength="18.4" lengthAdjust="spacingAndGlyphs">2500</text>
<text x="160.1" y="525.5" font-size="8.2" font-weight="bold" fill="#0c0c0c" stroke="#0c0c0c" stroke-width="0.55" text-anchor="middle" dominant-baseline="central" textLength="18.4" lengthAdjust="spacingAndGlyphs">3000</text>
<text x="104.0" y="538.8" font-size="8.8" font-weight="bold" fill="#141414" stroke="#141414" stroke-width="0.3" text-anchor="middle" dominant-baseline="central" textLength="24.2" lengthAdjust="spacingAndGlyphs">X <tspan font-size="8.7" stroke-width="0.15">(μm)</tspan></text>
<text transform="translate(15.6 412.8) rotate(-90)" font-size="8.8" font-weight="bold" fill="#141414" stroke="#141414" stroke-width="0.3" text-anchor="middle" dominant-baseline="central" textLength="24.2" lengthAdjust="spacingAndGlyphs">Y <tspan font-size="8.7" stroke-width="0.15">(μm)</tspan></text>
<text x="145.2" y="535.4" font-size="11" font-weight="bold" fill="#141414" stroke="#141414" stroke-width="0.35" text-anchor="middle" dominant-baseline="central">(d)</text>
<g clip-path="url(#clipe)">
<rect x="210.5" y="284.2" width="125.6" height="237.0" fill="#e8180a"/>
<use href="#tex" filter="url(#soft)" style="--b0:#c80d05;--b1:#d20d05;--b2:#dd0d05;--b3:#e80d05;--b4:#f20d05;--b5:#f21805;--b6:#f22305;--b7:#f22d05;--b8:#f23805;--b9:#f24305;--b10:#ff8f00;--b11:#ffa700;--b12:#ffbf00;--b13:#ffd600;--b14:#ffee00;--b15:#f8ff07;--b16:#e1ff1e;--b17:#c9ff36;--b18:#b1ff4e;--b19:#9aff65;--b20:#82ff7d;--b21:#6aff95;--b22:#53ffac;--b23:#3bffc4;--b24:#23ffdc;--b25:#0cfff3;--b26:#00f3ff;--b27:#00dbff" transform="translate(210.50 284.20) scale(1.0048 1.0000)"/>
<circle cx="218.6" cy="292.0" r="4.2" fill="url(#dote)"/>
<circle cx="218.6" cy="309.0" r="4.2" fill="url(#dote)"/>
<circle cx="218.6" cy="326.0" r="4.2" fill="url(#dote)"/>
<ellipse cx="219.0" cy="325.1" rx="2.6" ry="1.0" transform="rotate(25.8 219.0 325.1)" fill="#20ffdf" opacity="0.85"/>
<circle cx="218.6" cy="343.0" r="4.2" fill="url(#dote)"/>
<ellipse cx="219.2" cy="341.8" rx="2.6" ry="1.0" transform="rotate(25.9 219.2 341.8)" fill="#16ffe9" opacity="0.85"/>
<circle cx="218.6" cy="360.1" r="4.2" fill="url(#dote)"/>
<ellipse cx="218.5" cy="359.8" rx="2.6" ry="1.0" transform="rotate(-23.7 218.5 359.8)" fill="#23ffdc" opacity="0.85"/>
<circle cx="218.6" cy="377.1" r="4.2" fill="url(#dote)"/>
<circle cx="218.6" cy="394.1" r="4.2" fill="url(#dote)"/>
<circle cx="218.6" cy="411.1" r="4.2" fill="url(#dote)"/>
<ellipse cx="217.9" cy="412.4" rx="2.6" ry="1.0" transform="rotate(26.8 217.9 412.4)" fill="#1effe1" opacity="0.85"/>
<circle cx="218.6" cy="428.1" r="4.2" fill="url(#dote)"/>
<ellipse cx="219.3" cy="429.7" rx="2.6" ry="1.0" transform="rotate(-24.4 219.3 429.7)" fill="#35ffca" opacity="0.85"/>
<circle cx="218.6" cy="445.1" r="4.2" fill="url(#dote)"/>
<circle cx="218.6" cy="462.2" r="4.2" fill="url(#dote)"/>
<circle cx="218.6" cy="479.2" r="4.2" fill="url(#dote)"/>
<circle cx="218.6" cy="496.2" r="4.2" fill="url(#dote)"/>
<ellipse cx="218.4" cy="496.7" rx="2.6" ry="1.0" transform="rotate(24.3 218.4 496.7)" fill="#2cffd3" opacity="0.85"/>
<circle cx="218.6" cy="513.2" r="4.2" fill="url(#dote)"/>
<ellipse cx="218.0" cy="511.8" rx="2.6" ry="1.0" transform="rotate(-22.6 218.0 511.8)" fill="#40ffbf" opacity="0.85"/>
<circle cx="236.7" cy="292.0" r="4.2" fill="url(#dote)"/>
<ellipse cx="235.9" cy="290.1" rx="2.6" ry="1.0" transform="rotate(-23.7 235.9 290.1)" fill="#0efff1" opacity="0.85"/>
<circle cx="236.7" cy="309.0" r="4.2" fill="url(#dote)"/>
<ellipse cx="236.7" cy="309.1" rx="2.6" ry="1.0" transform="rotate(25.4 236.7 309.1)" fill="#17ffe8" opacity="0.85"/>
<circle cx="236.7" cy="326.0" r="4.2" fill="url(#dote)"/>
<ellipse cx="237.3" cy="324.9" rx="2.6" ry="1.0" transform="rotate(24.6 237.3 324.9)" fill="#22ffdd" opacity="0.85"/>
<circle cx="236.7" cy="343.0" r="4.2" fill="url(#dote)"/>
<ellipse cx="236.0" cy="341.3" rx="2.6" ry="1.0" transform="rotate(-22.4 236.0 341.3)" fill="#00f1ff" opacity="0.85"/>
<circle cx="236.7" cy="360.1" r="4.2" fill="url(#dote)"/>
<ellipse cx="235.7" cy="362.2" rx="2.6" ry="1.0" transform="rotate(24.9 235.7 362.2)" fill="#14ffeb" opacity="0.85"/>
<circle cx="236.7" cy="377.1" r="4.2" fill="url(#dote)"/>
<ellipse cx="236.1" cy="378.4" rx="2.6" ry="1.0" transform="rotate(24.8 236.1 378.4)" fill="#1dffe2" opacity="0.85"/>
<circle cx="236.7" cy="394.1" r="4.2" fill="url(#dote)"/>
<ellipse cx="237.4" cy="395.6" rx="2.6" ry="1.0" transform="rotate(-23.8 237.4 395.6)" fill="#1effe1" opacity="0.85"/>
<circle cx="236.7" cy="411.1" r="4.2" fill="url(#dote)"/>
<circle cx="236.7" cy="428.1" r="4.2" fill="url(#dote)"/>
<circle cx="236.7" cy="445.1" r="4.2" fill="url(#dote)"/>
<ellipse cx="235.9" cy="443.2" rx="2.6" ry="1.0" transform="rotate(-24.0 235.9 443.2)" fill="#00a0ff" opacity="0.85"/>
<circle cx="236.7" cy="462.2" r="4.2" fill="url(#dote)"/>
<ellipse cx="235.8" cy="464.1" rx="2.6" ry="1.0" transform="rotate(26.9 235.8 464.1)" fill="#15ffea" opacity="0.85"/>
<circle cx="236.7" cy="479.2" r="4.2" fill="url(#dote)"/>
<ellipse cx="236.1" cy="477.2" rx="2.6" ry="1.0" transform="rotate(-19.3 236.1 477.2)" fill="#36ffc9" opacity="0.85"/>
<circle cx="236.7" cy="496.2" r="4.2" fill="url(#dote)"/>
<ellipse cx="237.4" cy="494.7" rx="2.6" ry="1.0" transform="rotate(24.2 237.4 494.7)" fill="#44ffbb" opacity="0.85"/>
<circle cx="236.7" cy="513.2" r="4.2" fill="url(#dote)"/>
<ellipse cx="237.7" cy="511.3" rx="2.6" ry="1.0" transform="rotate(26.2 237.7 511.3)" fill="#00acff" opacity="0.85"/>
<circle cx="254.9" cy="292.0" r="4.2" fill="url(#dote)"/>
<circle cx="254.9" cy="309.0" r="4.2" fill="url(#dote)"/>
<circle cx="254.9" cy="326.0" r="4.2" fill="url(#dote)"/>
<circle cx="254.9" cy="343.0" r="4.2" fill="url(#dote)"/>
<ellipse cx="255.1" cy="343.7" rx="2.6" ry="1.0" transform="rotate(-23.7 255.1 343.7)" fill="#29ffd6" opacity="0.85"/>
<circle cx="254.9" cy="360.1" r="4.2" fill="url(#dote)"/>
<ellipse cx="255.2" cy="359.3" rx="2.6" ry="1.0" transform="rotate(25.9 255.2 359.3)" fill="#16ffe9" opacity="0.85"/>
<circle cx="254.9" cy="377.1" r="4.2" fill="url(#dote)"/>
<circle cx="254.9" cy="394.1" r="4.2" fill="url(#dote)"/>
<circle cx="254.9" cy="411.1" r="4.2" fill="url(#dote)"/>
<ellipse cx="255.8" cy="413.2" rx="2.6" ry="1.0" transform="rotate(-24.4 255.8 413.2)" fill="#35ffca" opacity="0.85"/>
<circle cx="254.9" cy="428.1" r="4.2" fill="url(#dote)"/>
<circle cx="254.9" cy="445.1" r="4.2" fill="url(#dote)"/>
<circle cx="254.9" cy="462.2" r="4.2" fill="url(#dote)"/>
<ellipse cx="254.0" cy="463.8" rx="2.6" ry="1.0" transform="rotate(25.8 254.0 463.8)" fill="#13ffec" opacity="0.85"/>
<circle cx="254.9" cy="479.2" r="4.2" fill="url(#dote)"/>
<circle cx="254.9" cy="496.2" r="4.2" fill="url(#dote)"/>
<ellipse cx="255.0" cy="496.4" rx="2.6" ry="1.0" transform="rotate(-22.6 255.0 496.4)" fill="#40ffbf" opacity="0.85"/>
<circle cx="254.9" cy="513.2" r="4.2" fill="url(#dote)"/>
<ellipse cx="254.9" cy="513.1" rx="2.6" ry="1.0" transform="rotate(24.3 254.9 513.1)" fill="#3effc1" opacity="0.85"/>
<circle cx="273.0" cy="292.0" r="4.2" fill="url(#dote)"/>
<ellipse cx="274.0" cy="294.3" rx="2.6" ry="1.0" transform="rotate(-23.4 274.0 294.3)" fill="#40ffbf" opacity="0.85"/>
<circle cx="273.0" cy="309.0" r="4.2" fill="url(#dote)"/>
<circle cx="273.0" cy="326.0" r="4.2" fill="url(#dote)"/>
<ellipse cx="273.0" cy="326.0" rx="2.6" ry="1.0" transform="rotate(-22.4 273.0 326.0)" fill="#00ffff" opacity="0.85"/>
<circle cx="273.0" cy="343.0" r="4.2" fill="url(#dote)"/>
<ellipse cx="273.7" cy="341.6" rx="2.6" ry="1.0" transform="rotate(24.6 273.7 341.6)" fill="#22ffdd" opacity="0.85"/>
<circle cx="273.0" cy="360.1" r="4.2" fill="url(#dote)"/>
<ellipse cx="272.8" cy="360.4" rx="2.6" ry="1.0" transform="rotate(25.2 272.8 360.4)" fill="#3effc1" opacity="0.85"/>
<circle cx="273.0" cy="377.1" r="4.2" fill="url(#dote)"/>
<ellipse cx="272.1" cy="379.0" rx="2.6" ry="1.0" transform="rotate(24.9 272.1 379.0)" fill="#14ffeb" opacity="0.85"/>
<circle cx="273.0" cy="394.1" r="4.2" fill="url(#dote)"/>
<ellipse cx="272.5" cy="395.2" rx="2.6" ry="1.0" transform="rotate(24.8 272.5 395.2)" fill="#1dffe2" opacity="0.85"/>
<circle cx="273.0" cy="411.1" r="4.2" fill="url(#dote)"/>
<ellipse cx="271.9" cy="413.4" rx="2.6" ry="1.0" transform="rotate(24.9 271.9 413.4)" fill="#3cffc3" opacity="0.85"/>
<circle cx="273.0" cy="428.1" r="4.2" fill="url(#dote)"/>
<ellipse cx="272.5" cy="426.9" rx="2.6" ry="1.0" transform="rotate(-24.0 272.5 426.9)" fill="#00a0ff" opacity="0.85"/>
<circle cx="273.0" cy="445.1" r="4.2" fill="url(#dote)"/>
<ellipse cx="272.8" cy="444.5" rx="2.6" ry="1.0" transform="rotate(-20.8 272.8 444.5)" fill="#3effc1" opacity="0.85"/>
<circle cx="273.0" cy="462.2" r="4.2" fill="url(#dote)"/>
<ellipse cx="273.7" cy="464.1" rx="2.6" ry="1.0" transform="rotate(-19.3 273.7 464.1)" fill="#36ffc9" opacity="0.85"/>
<circle cx="273.0" cy="479.2" r="4.2" fill="url(#dote)"/>
<circle cx="273.0" cy="496.2" r="4.2" fill="url(#dote)"/>
<circle cx="273.0" cy="513.2" r="4.2" fill="url(#dote)"/>
<circle cx="291.1" cy="292.0" r="4.2" fill="url(#dote)"/>
<circle cx="291.1" cy="309.0" r="4.2" fill="url(#dote)"/>
<circle cx="291.1" cy="326.0" r="4.2" fill="url(#dote)"/>
<ellipse cx="291.8" cy="327.5" rx="2.6" ry="1.0" transform="rotate(-23.7 291.8 327.5)" fill="#21ffde" opacity="0.85"/>
<circle cx="291.1" cy="343.0" r="4.2" fill="url(#dote)"/>
<circle cx="291.1" cy="360.1" r="4.2" fill="url(#dote)"/>
<ellipse cx="290.6" cy="358.9" rx="2.6" ry="1.0" transform="rotate(-24.0 290.6 358.9)" fill="#1cffe3" opacity="0.85"/>
<circle cx="291.1" cy="377.1" r="4.2" fill="url(#dote)"/>
<circle cx="291.1" cy="394.1" r="4.2" fill="url(#dote)"/>
<ellipse cx="290.9" cy="394.6" rx="2.6" ry="1.0" transform="rotate(24.5 290.9 394.6)" fill="#3fffc0" opacity="0.85"/>
<circle cx="291.1" cy="411.1" r="4.2" fill="url(#dote)"/>
<circle cx="291.1" cy="428.1" r="4.2" fill="url(#dote)"/>
<circle cx="291.1" cy="445.1" r="4.2" fill="url(#dote)"/>
<circle cx="291.1" cy="462.2" r="4.2" fill="url(#dote)"/>
<circle cx="291.1" cy="479.2" r="4.2" fill="url(#dote)"/>
<ellipse cx="290.1" cy="481.3" rx="2.6" ry="1.0" transform="rotate(25.8 290.1 481.3)" fill="#13ffec" opacity="0.85"/>
<circle cx="291.1" cy="496.2" r="4.2" fill="url(#dote)"/>
<circle cx="291.1" cy="513.2" r="4.2" fill="url(#dote)"/>
<circle cx="309.3" cy="292.0" r="4.2" fill="url(#dote)"/>
<ellipse cx="308.8" cy="292.9" rx="2.6" ry="1.0" transform="rotate(26.0 308.8 292.9)" fill="#0cfff3" opacity="0.85"/>
<circle cx="309.3" cy="309.0" r="4.2" fill="url(#dote)"/>
<ellipse cx="308.6" cy="307.5" rx="2.6" ry="1.0" transform="rotate(-23.5 308.6 307.5)" fill="#19ffe6" opacity="0.85"/>
<circle cx="309.3" cy="326.0" r="4.2" fill="url(#dote)"/>
<circle cx="309.3" cy="343.0" r="4.2" fill="url(#dote)"/>
<ellipse cx="309.1" cy="343.4" rx="2.6" ry="1.0" transform="rotate(25.4 309.1 343.4)" fill="#17ffe8" opacity="0.85"/>
<circle cx="309.3" cy="360.1" r="4.2" fill="url(#dote)"/>
<ellipse cx="310.1" cy="358.3" rx="2.6" ry="1.0" transform="rotate(24.6 310.1 358.3)" fill="#22ffdd" opacity="0.85"/>
<circle cx="309.3" cy="377.1" r="4.2" fill="url(#dote)"/>
<ellipse cx="309.0" cy="377.5" rx="2.6" ry="1.0" transform="rotate(25.6 309.0 377.5)" fill="#28ffd7" opacity="0.85"/>
<circle cx="309.3" cy="394.1" r="4.2" fill="url(#dote)"/>
<ellipse cx="308.4" cy="395.9" rx="2.6" ry="1.0" transform="rotate(24.9 308.4 395.9)" fill="#14ffeb" opacity="0.85"/>
<circle cx="309.3" cy="411.1" r="4.2" fill="url(#dote)"/>
<ellipse cx="309.1" cy="410.6" rx="2.6" ry="1.0" transform="rotate(-24.0 309.1 410.6)" fill="#00a0ff" opacity="0.85"/>
<circle cx="309.3" cy="428.1" r="4.2" fill="url(#dote)"/>
<ellipse cx="308.3" cy="430.3" rx="2.6" ry="1.0" transform="rotate(24.9 308.3 430.3)" fill="#3cffc3" opacity="0.85"/>
<circle cx="309.3" cy="445.1" r="4.2" fill="url(#dote)"/>
<circle cx="309.3" cy="462.2" r="4.2" fill="url(#dote)"/>
<circle cx="309.3" cy="479.2" r="4.2" fill="url(#dote)"/>
<circle cx="309.3" cy="496.2" r="4.2" fill="url(#dote)"/>
<circle cx="309.3" cy="513.2" r="4.2" fill="url(#dote)"/>
<ellipse cx="309.7" cy="514.3" rx="2.6" ry="1.0" transform="rotate(-22.9 309.7 514.3)" fill="#27ffd8" opacity="0.85"/>
<circle cx="327.4" cy="292.0" r="4.2" fill="url(#dote)"/>
<ellipse cx="326.4" cy="294.2" rx="2.6" ry="1.0" transform="rotate(24.5 326.4 294.2)" fill="#26ffd9" opacity="0.85"/>
<circle cx="327.4" cy="309.0" r="4.2" fill="url(#dote)"/>
<circle cx="327.4" cy="326.0" r="4.2" fill="url(#dote)"/>
<circle cx="327.4" cy="343.0" r="4.2" fill="url(#dote)"/>
<ellipse cx="327.2" cy="342.7" rx="2.6" ry="1.0" transform="rotate(-24.0 327.2 342.7)" fill="#1cffe3" opacity="0.85"/>
<circle cx="327.4" cy="360.1" r="4.2" fill="url(#dote)"/>
<ellipse cx="326.8" cy="358.6" rx="2.6" ry="1.0" transform="rotate(-22.9 326.8 358.6)" fill="#45ffba" opacity="0.85"/>
<circle cx="327.4" cy="377.1" r="4.2" fill="url(#dote)"/>
<circle cx="327.4" cy="394.1" r="4.2" fill="url(#dote)"/>
<circle cx="327.4" cy="411.1" r="4.2" fill="url(#dote)"/>
<circle cx="327.4" cy="428.1" r="4.2" fill="url(#dote)"/>
<circle cx="327.4" cy="445.1" r="4.2" fill="url(#dote)"/>
<ellipse cx="327.4" cy="445.2" rx="2.6" ry="1.0" transform="rotate(-19.3 327.4 445.2)" fill="#36ffc9" opacity="0.85"/>
<circle cx="327.4" cy="462.2" r="4.2" fill="url(#dote)"/>
<circle cx="327.4" cy="479.2" r="4.2" fill="url(#dote)"/>
<circle cx="327.4" cy="496.2" r="4.2" fill="url(#dote)"/>
<circle cx="327.4" cy="513.2" r="4.2" fill="url(#dote)"/>
<ellipse cx="328.5" cy="511.1" rx="2.6" ry="1.0" transform="rotate(26.9 328.5 511.1)" fill="#15ffea" opacity="0.85"/>
</g>
<rect x="343.2" y="284.4" width="5.6" height="236.8" fill="url(#jet)"/>
<text x="350.0" y="307.6" font-size="7.0" fill="#5c5c5c" dominant-baseline="central">0</text>
<text x="350.0" y="334.6" font-size="7.0" fill="#5c5c5c" dominant-baseline="central">-1</text>
<text x="350.0" y="361.6" font-size="7.0" fill="#5c5c5c" dominant-baseline="central">-2</text>
<text x="350.0" y="388.6" font-size="7.0" fill="#5c5c5c" dominant-baseline="central">-3</text>
<text x="350.0" y="415.6" font-size="7.0" fill="#5c5c5c" dominant-baseline="central">-4</text>
<text x="350.0" y="442.6" font-size="7.0" fill="#5c5c5c" dominant-baseline="central">-5</text>
<text x="350.0" y="469.6" font-size="7.0" fill="#5c5c5c" dominant-baseline="central">-6</text>
<text x="350.0" y="496.6" font-size="7.0" fill="#5c5c5c" dominant-baseline="central">-7</text>
<text x="208.25" y="308.2" font-size="8.2" font-weight="bold" fill="#0c0c0c" stroke="#0c0c0c" stroke-width="0.55" text-anchor="end" dominant-baseline="central" textLength="18.4" lengthAdjust="spacingAndGlyphs">5000</text>
<text x="208.25" y="351.8" font-size="8.2" font-weight="bold" fill="#0c0c0c" stroke="#0c0c0c" stroke-width="0.55" text-anchor="end" dominant-baseline="central" textLength="18.4" lengthAdjust="spacingAndGlyphs">4000</text>
<text x="208.25" y="393.3" font-size="8.2" font-weight="bold" fill="#0c0c0c" stroke="#0c0c0c" stroke-width="0.55" text-anchor="end" dominant-baseline="central" textLength="18.4" lengthAdjust="spacingAndGlyphs">3000</text>
<text x="208.25" y="436.1" font-size="8.2" font-weight="bold" fill="#0c0c0c" stroke="#0c0c0c" stroke-width="0.55" text-anchor="end" dominant-baseline="central" textLength="18.4" lengthAdjust="spacingAndGlyphs">2000</text>
<text x="208.25" y="478.2" font-size="8.2" font-weight="bold" fill="#0c0c0c" stroke="#0c0c0c" stroke-width="0.55" text-anchor="end" dominant-baseline="central" textLength="18.4" lengthAdjust="spacingAndGlyphs">1000</text>
<text x="205.2" y="521.5" font-size="8.2" font-weight="bold" fill="#0c0c0c" stroke="#0c0c0c" stroke-width="0.55" text-anchor="middle" dominant-baseline="central">0</text>
<text x="210.5" y="526.4" font-size="8.2" font-weight="bold" fill="#0c0c0c" stroke="#0c0c0c" stroke-width="0.55" text-anchor="middle" dominant-baseline="central">0</text>
<text x="226.4" y="526.4" font-size="8.2" font-weight="bold" fill="#0c0c0c" stroke="#0c0c0c" stroke-width="0.55" text-anchor="middle" dominant-baseline="central" textLength="14.4" lengthAdjust="spacingAndGlyphs">500</text>
<text x="247.3" y="526.4" font-size="8.2" font-weight="bold" fill="#0c0c0c" stroke="#0c0c0c" stroke-width="0.55" text-anchor="middle" dominant-baseline="central" textLength="18.4" lengthAdjust="spacingAndGlyphs">1000</text>
<text x="270.1" y="526.4" font-size="8.2" font-weight="bold" fill="#0c0c0c" stroke="#0c0c0c" stroke-width="0.55" text-anchor="middle" dominant-baseline="central" textLength="18.4" lengthAdjust="spacingAndGlyphs">1500</text>
<text x="292.6" y="526.4" font-size="8.2" font-weight="bold" fill="#0c0c0c" stroke="#0c0c0c" stroke-width="0.55" text-anchor="middle" dominant-baseline="central" textLength="18.4" lengthAdjust="spacingAndGlyphs">2000</text>
<text x="312.9" y="526.4" font-size="8.2" font-weight="bold" fill="#0c0c0c" stroke="#0c0c0c" stroke-width="0.55" text-anchor="middle" dominant-baseline="central" textLength="18.4" lengthAdjust="spacingAndGlyphs">2500</text>
<text x="333.2" y="526.4" font-size="8.2" font-weight="bold" fill="#0c0c0c" stroke="#0c0c0c" stroke-width="0.55" text-anchor="middle" dominant-baseline="central" textLength="18.4" lengthAdjust="spacingAndGlyphs">3000</text>
<text x="275.8" y="539.5" font-size="8.8" font-weight="bold" fill="#141414" stroke="#141414" stroke-width="0.3" text-anchor="middle" dominant-baseline="central" textLength="24.2" lengthAdjust="spacingAndGlyphs">X <tspan font-size="8.7" stroke-width="0.15">(μm)</tspan></text>
<text transform="translate(190.1 411.7) rotate(-90)" font-size="8.8" font-weight="bold" fill="#141414" stroke="#141414" stroke-width="0.3" text-anchor="middle" dominant-baseline="central" textLength="24.2" lengthAdjust="spacingAndGlyphs">Y <tspan font-size="8.7" stroke-width="0.15">(μm)</tspan></text>
<text x="318.8" y="538.3" font-size="11" font-weight="bold" fill="#141414" stroke="#141414" stroke-width="0.35" text-anchor="middle" dominant-baseline="central">(e)</text>
<g clip-path="url(#clipf)">
<rect x="391.7" y="284.0" width="124.5" height="237.3" fill="#e8180a"/>
<use href="#tex" filter="url(#soft)" style="--b0:#c80d05;--b1:#d20d05;--b2:#dd0d05;--b3:#e80d05;--b4:#f20d05;--b5:#f21805;--b6:#f22305;--b7:#f22d05;--b8:#f23805;--b9:#f24305;--b10:#ff8f00;--b11:#ffa700;--b12:#ffbf00;--b13:#ffd600;--b14:#ffee00;--b15:#f8ff07;--b16:#e1ff1e;--b17:#c9ff36;--b18:#b1ff4e;--b19:#9aff65;--b20:#82ff7d;--b21:#6aff95;--b22:#53ffac;--b23:#3bffc4;--b24:#23ffdc;--b25:#0cfff3;--b26:#00f3ff;--b27:#00dbff" transform="translate(391.70 284.00) scale(0.9960 1.0013)"/>
<circle cx="397.7" cy="291.1" r="4.2" fill="url(#dotf)"/>
<circle cx="397.7" cy="305.1" r="4.2" fill="url(#dotf)"/>
<circle cx="397.7" cy="319.1" r="4.2" fill="url(#dotf)"/>
<ellipse cx="397.6" cy="319.0" rx="2.6" ry="1.0" transform="rotate(-23.6 397.6 319.0)" fill="#40ffbf" opacity="0.85"/>
<circle cx="397.7" cy="333.1" r="4.2" fill="url(#dotf)"/>
<circle cx="397.7" cy="347.1" r="4.2" fill="url(#dotf)"/>
<ellipse cx="398.4" cy="348.9" rx="2.6" ry="1.0" transform="rotate(-22.6 398.4 348.9)" fill="#00f1ff" opacity="0.85"/>
<circle cx="397.7" cy="361.1" r="4.2" fill="url(#dotf)"/>
<ellipse cx="397.5" cy="360.6" rx="2.6" ry="1.0" transform="rotate(-24.0 397.5 360.6)" fill="#23ffdc" opacity="0.85"/>
<circle cx="397.7" cy="375.1" r="4.2" fill="url(#dotf)"/>
<circle cx="397.7" cy="389.1" r="4.2" fill="url(#dotf)"/>
<ellipse cx="398.3" cy="387.8" rx="2.6" ry="1.0" transform="rotate(25.2 398.3 387.8)" fill="#3cffc3" opacity="0.85"/>
<circle cx="397.7" cy="403.2" r="4.2" fill="url(#dotf)"/>
<ellipse cx="398.3" cy="404.5" rx="2.6" ry="1.0" transform="rotate(-24.0 398.3 404.5)" fill="#1effe1" opacity="0.85"/>
<circle cx="397.7" cy="417.2" r="4.2" fill="url(#dotf)"/>
<circle cx="397.7" cy="431.2" r="4.2" fill="url(#dotf)"/>
<ellipse cx="397.6" cy="431.0" rx="2.6" ry="1.0" transform="rotate(-24.6 397.6 431.0)" fill="#35ffca" opacity="0.85"/>
<circle cx="397.7" cy="445.2" r="4.2" fill="url(#dotf)"/>
<circle cx="397.7" cy="459.2" r="4.2" fill="url(#dotf)"/>
<circle cx="397.7" cy="473.2" r="4.2" fill="url(#dotf)"/>
<ellipse cx="397.5" cy="473.5" rx="2.6" ry="1.0" transform="rotate(25.6 397.5 473.5)" fill="#16ffe9" opacity="0.85"/>
<circle cx="397.7" cy="487.2" r="4.2" fill="url(#dotf)"/>
<circle cx="397.7" cy="501.2" r="4.2" fill="url(#dotf)"/>
<ellipse cx="397.8" cy="501.1" rx="2.6" ry="1.0" transform="rotate(26.4 397.8 501.1)" fill="#00acff" opacity="0.85"/>
<circle cx="397.7" cy="515.2" r="4.2" fill="url(#dotf)"/>
<ellipse cx="396.7" cy="512.9" rx="2.6" ry="1.0" transform="rotate(-22.8 396.7 512.9)" fill="#40ffbf" opacity="0.85"/>
<circle cx="411.8" cy="291.1" r="4.2" fill="url(#dotf)"/>
<ellipse cx="412.2" cy="292.0" rx="2.6" ry="1.0" transform="rotate(-23.9 412.2 292.0)" fill="#0efff1" opacity="0.85"/>
<circle cx="411.8" cy="305.1" r="4.2" fill="url(#dotf)"/>
<ellipse cx="411.4" cy="305.9" rx="2.6" ry="1.0" transform="rotate(25.6 411.4 305.9)" fill="#17ffe8" opacity="0.85"/>
<circle cx="411.8" cy="319.1" r="4.2" fill="url(#dotf)"/>
<ellipse cx="410.8" cy="321.3" rx="2.6" ry="1.0" transform="rotate(24.9 410.8 321.3)" fill="#22ffdd" opacity="0.85"/>
<circle cx="411.8" cy="333.1" r="4.2" fill="url(#dotf)"/>
<ellipse cx="412.7" cy="331.1" rx="2.6" ry="1.0" transform="rotate(26.1 412.7 331.1)" fill="#20ffdf" opacity="0.85"/>
<circle cx="411.8" cy="347.1" r="4.2" fill="url(#dotf)"/>
<ellipse cx="411.7" cy="347.3" rx="2.6" ry="1.0" transform="rotate(26.1 411.7 347.3)" fill="#16ffe9" opacity="0.85"/>
<circle cx="411.8" cy="361.1" r="4.2" fill="url(#dotf)"/>
<ellipse cx="412.3" cy="360.0" rx="2.6" ry="1.0" transform="rotate(25.1 412.3 360.0)" fill="#14ffeb" opacity="0.85"/>
<circle cx="411.8" cy="375.1" r="4.2" fill="url(#dotf)"/>
<ellipse cx="412.1" cy="375.9" rx="2.6" ry="1.0" transform="rotate(-23.5 412.1 375.9)" fill="#13ffec" opacity="0.85"/>
<circle cx="411.8" cy="389.1" r="4.2" fill="url(#dotf)"/>
<circle cx="411.8" cy="403.2" r="4.2" fill="url(#dotf)"/>
<circle cx="411.8" cy="417.2" r="4.2" fill="url(#dotf)"/>
<ellipse cx="411.1" cy="418.5" rx="2.6" ry="1.0" transform="rotate(27.0 411.1 418.5)" fill="#1effe1" opacity="0.85"/>
<circle cx="411.8" cy="431.2" r="4.2" fill="url(#dotf)"/>
<circle cx="411.8" cy="445.2" r="4.2" fill="url(#dotf)"/>
<ellipse cx="411.9" cy="445.5" rx="2.6" ry="1.0" transform="rotate(-24.2 411.9 445.5)" fill="#00a0ff" opacity="0.85"/>
<circle cx="411.8" cy="459.2" r="4.2" fill="url(#dotf)"/>
<ellipse cx="410.8" cy="461.1" rx="2.6" ry="1.0" transform="rotate(27.1 410.8 461.1)" fill="#15ffea" opacity="0.85"/>
<circle cx="411.8" cy="473.2" r="4.2" fill="url(#dotf)"/>
<circle cx="411.8" cy="487.2" r="4.2" fill="url(#dotf)"/>
<circle cx="411.8" cy="501.2" r="4.2" fill="url(#dotf)"/>
<ellipse cx="411.4" cy="502.1" rx="2.6" ry="1.0" transform="rotate(24.5 411.4 502.1)" fill="#2cffd3" opacity="0.85"/>
<circle cx="411.8" cy="515.2" r="4.2" fill="url(#dotf)"/>
<circle cx="425.9" cy="291.1" r="4.2" fill="url(#dotf)"/>
<circle cx="425.9" cy="305.1" r="4.2" fill="url(#dotf)"/>
<ellipse cx="426.4" cy="306.4" rx="2.6" ry="1.0" transform="rotate(-23.6 426.4 306.4)" fill="#40ffbf" opacity="0.85"/>
<circle cx="425.9" cy="319.1" r="4.2" fill="url(#dotf)"/>
<circle cx="425.9" cy="333.1" r="4.2" fill="url(#dotf)"/>
<ellipse cx="426.5" cy="334.7" rx="2.6" ry="1.0" transform="rotate(-23.7 426.5 334.7)" fill="#19ffe6" opacity="0.85"/>
<circle cx="425.9" cy="347.1" r="4.2" fill="url(#dotf)"/>
<ellipse cx="426.2" cy="347.9" rx="2.6" ry="1.0" transform="rotate(-24.0 426.2 347.9)" fill="#29ffd6" opacity="0.85"/>
<circle cx="425.9" cy="361.1" r="4.2" fill="url(#dotf)"/>
<ellipse cx="425.0" cy="359.3" rx="2.6" ry="1.0" transform="rotate(-24.3 425.0 359.3)" fill="#3bffc4" opacity="0.85"/>
<circle cx="425.9" cy="375.1" r="4.2" fill="url(#dotf)"/>
<circle cx="425.9" cy="389.1" r="4.2" fill="url(#dotf)"/>
<circle cx="425.9" cy="403.2" r="4.2" fill="url(#dotf)"/>
<ellipse cx="426.8" cy="401.2" rx="2.6" ry="1.0" transform="rotate(25.2 426.8 401.2)" fill="#3cffc3" opacity="0.85"/>
<circle cx="425.9" cy="417.2" r="4.2" fill="url(#dotf)"/>
<ellipse cx="426.2" cy="417.9" rx="2.6" ry="1.0" transform="rotate(-24.6 426.2 417.9)" fill="#35ffca" opacity="0.85"/>
<circle cx="425.9" cy="431.2" r="4.2" fill="url(#dotf)"/>
<circle cx="425.9" cy="445.2" r="4.2" fill="url(#dotf)"/>
<circle cx="425.9" cy="459.2" r="4.2" fill="url(#dotf)"/>
<circle cx="425.9" cy="473.2" r="4.2" fill="url(#dotf)"/>
<ellipse cx="426.8" cy="471.3" rx="2.6" ry="1.0" transform="rotate(25.4 426.8 471.3)" fill="#18ffe7" opacity="0.85"/>
<circle cx="425.9" cy="487.2" r="4.2" fill="url(#dotf)"/>
<circle cx="425.9" cy="501.2" r="4.2" fill="url(#dotf)"/>
<ellipse cx="425.7" cy="500.7" rx="2.6" ry="1.0" transform="rotate(-22.8 425.7 500.7)" fill="#40ffbf" opacity="0.85"/>
<circle cx="425.9" cy="515.2" r="4.2" fill="url(#dotf)"/>
<ellipse cx="425.9" cy="515.0" rx="2.6" ry="1.0" transform="rotate(26.4 425.9 515.0)" fill="#00acff" opacity="0.85"/>
<circle cx="439.9" cy="291.1" r="4.2" fill="url(#dotf)"/>
<circle cx="439.9" cy="305.1" r="4.2" fill="url(#dotf)"/>
<circle cx="439.9" cy="319.1" r="4.2" fill="url(#dotf)"/>
<ellipse cx="439.7" cy="319.5" rx="2.6" ry="1.0" transform="rotate(25.6 439.7 319.5)" fill="#17ffe8" opacity="0.85"/>
<circle cx="439.9" cy="333.1" r="4.2" fill="url(#dotf)"/>
<ellipse cx="439.4" cy="331.8" rx="2.6" ry="1.0" transform="rotate(-22.6 439.4 331.8)" fill="#00ffff" opacity="0.85"/>
<circle cx="439.9" cy="347.1" r="4.2" fill="url(#dotf)"/>
<ellipse cx="441.0" cy="344.9" rx="2.6" ry="1.0" transform="rotate(26.1 441.0 344.9)" fill="#2bffd4" opacity="0.85"/>
<circle cx="439.9" cy="361.1" r="4.2" fill="url(#dotf)"/>
<ellipse cx="440.9" cy="363.4" rx="2.6" ry="1.0" transform="rotate(-23.5 440.9 363.4)" fill="#13ffec" opacity="0.85"/>
<circle cx="439.9" cy="375.1" r="4.2" fill="url(#dotf)"/>
<ellipse cx="440.8" cy="373.3" rx="2.6" ry="1.0" transform="rotate(25.1 440.8 373.3)" fill="#14ffeb" opacity="0.85"/>
<circle cx="439.9" cy="389.1" r="4.2" fill="url(#dotf)"/>
<ellipse cx="440.0" cy="389.0" rx="2.6" ry="1.0" transform="rotate(25.0 440.0 389.0)" fill="#1dffe2" opacity="0.85"/>
<circle cx="439.9" cy="403.2" r="4.2" fill="url(#dotf)"/>
<circle cx="439.9" cy="417.2" r="4.2" fill="url(#dotf)"/>
<circle cx="439.9" cy="431.2" r="4.2" fill="url(#dotf)"/>
<ellipse cx="440.6" cy="432.6" rx="2.6" ry="1.0" transform="rotate(-24.2 440.6 432.6)" fill="#00a0ff" opacity="0.85"/>
<circle cx="439.9" cy="445.2" r="4.2" fill="url(#dotf)"/>
<circle cx="439.9" cy="459.2" r="4.2" fill="url(#dotf)"/>
<ellipse cx="439.6" cy="459.8" rx="2.6" ry="1.0" transform="rotate(24.7 439.6 459.8)" fill="#12ffed" opacity="0.85"/>
<circle cx="439.9" cy="473.2" r="4.2" fill="url(#dotf)"/>
<ellipse cx="438.8" cy="475.4" rx="2.6" ry="1.0" transform="rotate(27.1 438.8 475.4)" fill="#15ffea" opacity="0.85"/>
<circle cx="439.9" cy="487.2" r="4.2" fill="url(#dotf)"/>
<circle cx="439.9" cy="501.2" r="4.2" fill="url(#dotf)"/>
<circle cx="439.9" cy="515.2" r="4.2" fill="url(#dotf)"/>
<ellipse cx="439.9" cy="515.2" rx="2.6" ry="1.0" transform="rotate(24.5 439.9 515.2)" fill="#3effc1" opacity="0.85"/>
<circle cx="454.0" cy="291.1" r="4.2" fill="url(#dotf)"/>
<circle cx="454.0" cy="305.1" r="4.2" fill="url(#dotf)"/>
<circle cx="454.0" cy="319.1" r="4.2" fill="url(#dotf)"/>
<circle cx="454.0" cy="333.1" r="4.2" fill="url(#dotf)"/>
<ellipse cx="454.9" cy="335.1" rx="2.6" ry="1.0" transform="rotate(-24.0 454.9 335.1)" fill="#29ffd6" opacity="0.85"/>
<circle cx="454.0" cy="347.1" r="4.2" fill="url(#dotf)"/>
<ellipse cx="453.6" cy="346.3" rx="2.6" ry="1.0" transform="rotate(-24.3 453.6 346.3)" fill="#3bffc4" opacity="0.85"/>
<circle cx="454.0" cy="361.1" r="4.2" fill="url(#dotf)"/>
<ellipse cx="454.2" cy="360.6" rx="2.6" ry="1.0" transform="rotate(25.5 454.2 360.6)" fill="#3effc1" opacity="0.85"/>
<circle cx="454.0" cy="375.1" r="4.2" fill="url(#dotf)"/>
<circle cx="454.0" cy="389.1" r="4.2" fill="url(#dotf)"/>
<ellipse cx="455.0" cy="387.0" rx="2.6" ry="1.0" transform="rotate(24.7 455.0 387.0)" fill="#3fffc0" opacity="0.85"/>
<circle cx="454.0" cy="403.2" r="4.2" fill="url(#dotf)"/>
<ellipse cx="454.8" cy="404.8" rx="2.6" ry="1.0" transform="rotate(-24.6 454.8 404.8)" fill="#35ffca" opacity="0.85"/>
<circle cx="454.0" cy="417.2" r="4.2" fill="url(#dotf)"/>
<circle cx="454.0" cy="431.2" r="4.2" fill="url(#dotf)"/>
<circle cx="454.0" cy="445.2" r="4.2" fill="url(#dotf)"/>
<ellipse cx="453.7" cy="444.4" rx="2.6" ry="1.0" transform="rotate(-21.0 453.7 444.4)" fill="#3effc1" opacity="0.85"/>
<circle cx="454.0" cy="459.2" r="4.2" fill="url(#dotf)"/>
<circle cx="454.0" cy="473.2" r="4.2" fill="url(#dotf)"/>
<ellipse cx="454.0" cy="473.2" rx="2.6" ry="1.0" transform="rotate(26.1 454.0 473.2)" fill="#13ffec" opacity="0.85"/>
<circle cx="454.0" cy="487.2" r="4.2" fill="url(#dotf)"/>
<ellipse cx="454.6" cy="488.6" rx="2.6" ry="1.0" transform="rotate(-22.8 454.6 488.6)" fill="#40ffbf" opacity="0.85"/>
<circle cx="454.0" cy="501.2" r="4.2" fill="url(#dotf)"/>
<circle cx="454.0" cy="515.2" r="4.2" fill="url(#dotf)"/>
<circle cx="468.1" cy="291.1" r="4.2" fill="url(#dotf)"/>
<circle cx="468.1" cy="305.1" r="4.2" fill="url(#dotf)"/>
<circle cx="468.1" cy="319.1" r="4.2" fill="url(#dotf)"/>
<ellipse cx="468.3" cy="319.8" rx="2.6" ry="1.0" transform="rotate(-22.6 468.3 319.8)" fill="#00f4ff" opacity="0.85"/>
<circle cx="468.1" cy="333.1" r="4.2" fill="url(#dotf)"/>
<ellipse cx="468.1" cy="333.1" rx="2.6" ry="1.0" transform="rotate(25.6 468.1 333.1)" fill="#17ffe8" opacity="0.85"/>
<circle cx="468.1" cy="347.1" r="4.2" fill="url(#dotf)"/>
<ellipse cx="467.8" cy="347.7" rx="2.6" ry="1.0" transform="rotate(24.9 467.8 347.7)" fill="#22ffdd" opacity="0.85"/>
<circle cx="468.1" cy="361.1" r="4.2" fill="url(#dotf)"/>
<ellipse cx="467.7" cy="360.4" rx="2.6" ry="1.0" transform="rotate(-24.2 467.7 360.4)" fill="#1cffe3" opacity="0.85"/>
<circle cx="468.1" cy="375.1" r="4.2" fill="url(#dotf)"/>
<ellipse cx="467.5" cy="373.7" rx="2.6" ry="1.0" transform="rotate(-24.0 467.5 373.7)" fill="#1effe1" opacity="0.85"/>
<circle cx="468.1" cy="389.1" r="4.2" fill="url(#dotf)"/>
<circle cx="468.1" cy="403.2" r="4.2" fill="url(#dotf)"/>
<ellipse cx="468.5" cy="402.3" rx="2.6" ry="1.0" transform="rotate(25.0 468.5 402.3)" fill="#1dffe2" opacity="0.85"/>
<circle cx="468.1" cy="417.2" r="4.2" fill="url(#dotf)"/>
<circle cx="468.1" cy="431.2" r="4.2" fill="url(#dotf)"/>
<circle cx="468.1" cy="445.2" r="4.2" fill="url(#dotf)"/>
<ellipse cx="467.1" cy="447.1" rx="2.6" ry="1.0" transform="rotate(27.0 467.1 447.1)" fill="#1effe1" opacity="0.85"/>
<circle cx="468.1" cy="459.2" r="4.2" fill="url(#dotf)"/>
<ellipse cx="468.1" cy="459.2" rx="2.6" ry="1.0" transform="rotate(-19.5 468.1 459.2)" fill="#36ffc9" opacity="0.85"/>
<circle cx="468.1" cy="473.2" r="4.2" fill="url(#dotf)"/>
<ellipse cx="468.2" cy="472.9" rx="2.6" ry="1.0" transform="rotate(24.7 468.2 472.9)" fill="#2dffd2" opacity="0.85"/>
<circle cx="468.1" cy="487.2" r="4.2" fill="url(#dotf)"/>
<circle cx="468.1" cy="501.2" r="4.2" fill="url(#dotf)"/>
<circle cx="468.1" cy="515.2" r="4.2" fill="url(#dotf)"/>
<circle cx="482.1" cy="291.1" r="4.2" fill="url(#dotf)"/>
<ellipse cx="482.9" cy="289.6" rx="2.6" ry="1.0" transform="rotate(26.2 482.9 289.6)" fill="#0cfff3" opacity="0.85"/>
<circle cx="482.1" cy="305.1" r="4.2" fill="url(#dotf)"/>
<circle cx="482.1" cy="319.1" r="4.2" fill="url(#dotf)"/>
<circle cx="482.1" cy="333.1" r="4.2" fill="url(#dotf)"/>
<ellipse cx="482.3" cy="333.4" rx="2.6" ry="1.0" transform="rotate(-24.3 482.3 333.4)" fill="#3bffc4" opacity="0.85"/>
<circle cx="482.1" cy="347.1" r="4.2" fill="url(#dotf)"/>
<circle cx="482.1" cy="361.1" r="4.2" fill="url(#dotf)"/>
<circle cx="482.1" cy="375.1" r="4.2" fill="url(#dotf)"/>
<ellipse cx="482.6" cy="374.2" rx="2.6" ry="1.0" transform="rotate(25.8 482.6 374.2)" fill="#28ffd7" opacity="0.85"/>
<circle cx="482.1" cy="389.1" r="4.2" fill="url(#dotf)"/>
<circle cx="482.1" cy="403.2" r="4.2" fill="url(#dotf)"/>
<circle cx="482.1" cy="417.2" r="4.2" fill="url(#dotf)"/>
<circle cx="482.1" cy="431.2" r="4.2" fill="url(#dotf)"/>
<circle cx="482.1" cy="445.2" r="4.2" fill="url(#dotf)"/>
<circle cx="482.1" cy="459.2" r="4.2" fill="url(#dotf)"/>
<circle cx="482.1" cy="473.2" r="4.2" fill="url(#dotf)"/>
<circle cx="482.1" cy="487.2" r="4.2" fill="url(#dotf)"/>
<ellipse cx="482.2" cy="487.0" rx="2.6" ry="1.0" transform="rotate(26.1 482.2 487.0)" fill="#13ffec" opacity="0.85"/>
<circle cx="482.1" cy="501.2" r="4.2" fill="url(#dotf)"/>
<circle cx="482.1" cy="515.2" r="4.2" fill="url(#dotf)"/>
<ellipse cx="483.1" cy="517.4" rx="2.6" ry="1.0" transform="rotate(-23.1 483.1 517.4)" fill="#27ffd8" opacity="0.85"/>
<circle cx="496.2" cy="291.1" r="4.2" fill="url(#dotf)"/>
<ellipse cx="496.9" cy="289.6" rx="2.6" ry="1.0" transform="rotate(24.7 496.9 289.6)" fill="#26ffd9" opacity="0.85"/>
<circle cx="496.2" cy="305.1" r="4.2" fill="url(#dotf)"/>
<ellipse cx="495.9" cy="304.3" rx="2.6" ry="1.0" transform="rotate(-23.7 495.9 304.3)" fill="#19ffe6" opacity="0.85"/>
<circle cx="496.2" cy="319.1" r="4.2" fill="url(#dotf)"/>
<ellipse cx="495.4" cy="317.2" rx="2.6" ry="1.0" transform="rotate(-24.0 495.4 317.2)" fill="#21ffde" opacity="0.85"/>
<circle cx="496.2" cy="333.1" r="4.2" fill="url(#dotf)"/>
<circle cx="496.2" cy="347.1" r="4.2" fill="url(#dotf)"/>
<ellipse cx="496.4" cy="346.7" rx="2.6" ry="1.0" transform="rotate(25.6 496.4 346.7)" fill="#17ffe8" opacity="0.85"/>
<circle cx="496.2" cy="361.1" r="4.2" fill="url(#dotf)"/>
<ellipse cx="496.1" cy="360.9" rx="2.6" ry="1.0" transform="rotate(-24.0 496.1 360.9)" fill="#1effe1" opacity="0.85"/>
<circle cx="496.2" cy="375.1" r="4.2" fill="url(#dotf)"/>
<circle cx="496.2" cy="389.1" r="4.2" fill="url(#dotf)"/>
<circle cx="496.2" cy="403.2" r="4.2" fill="url(#dotf)"/>
<circle cx="496.2" cy="417.2" r="4.2" fill="url(#dotf)"/>
<ellipse cx="496.9" cy="415.6" rx="2.6" ry="1.0" transform="rotate(25.0 496.9 415.6)" fill="#1dffe2" opacity="0.85"/>
<circle cx="496.2" cy="431.2" r="4.2" fill="url(#dotf)"/>
<ellipse cx="495.2" cy="433.3" rx="2.6" ry="1.0" transform="rotate(25.2 495.2 433.3)" fill="#3cffc3" opacity="0.85"/>
<circle cx="496.2" cy="445.2" r="4.2" fill="url(#dotf)"/>
<circle cx="496.2" cy="459.2" r="4.2" fill="url(#dotf)"/>
<circle cx="496.2" cy="473.2" r="4.2" fill="url(#dotf)"/>
<ellipse cx="495.5" cy="471.4" rx="2.6" ry="1.0" transform="rotate(-22.8 495.5 471.4)" fill="#40ffbf" opacity="0.85"/>
<circle cx="496.2" cy="487.2" r="4.2" fill="url(#dotf)"/>
<circle cx="496.2" cy="501.2" r="4.2" fill="url(#dotf)"/>
<circle cx="496.2" cy="515.2" r="4.2" fill="url(#dotf)"/>
<circle cx="510.3" cy="291.1" r="4.2" fill="url(#dotf)"/>
<circle cx="510.3" cy="305.1" r="4.2" fill="url(#dotf)"/>
<ellipse cx="511.1" cy="303.5" rx="2.6" ry="1.0" transform="rotate(26.2 511.1 303.5)" fill="#0cfff3" opacity="0.85"/>
<circle cx="510.3" cy="319.1" r="4.2" fill="url(#dotf)"/>
<ellipse cx="510.9" cy="320.4" rx="2.6" ry="1.0" transform="rotate(-24.3 510.9 320.4)" fill="#3bffc4" opacity="0.85"/>
<circle cx="510.3" cy="333.1" r="4.2" fill="url(#dotf)"/>
<circle cx="510.3" cy="347.1" r="4.2" fill="url(#dotf)"/>
<circle cx="510.3" cy="361.1" r="4.2" fill="url(#dotf)"/>
<circle cx="510.3" cy="375.1" r="4.2" fill="url(#dotf)"/>
<circle cx="510.3" cy="389.1" r="4.2" fill="url(#dotf)"/>
<ellipse cx="511.0" cy="387.7" rx="2.6" ry="1.0" transform="rotate(25.5 511.0 387.7)" fill="#3effc1" opacity="0.85"/>
<circle cx="510.3" cy="403.2" r="4.2" fill="url(#dotf)"/>
<ellipse cx="509.6" cy="401.5" rx="2.6" ry="1.0" transform="rotate(-24.2 509.6 401.5)" fill="#00a0ff" opacity="0.85"/>
<circle cx="510.3" cy="417.2" r="4.2" fill="url(#dotf)"/>
<circle cx="510.3" cy="431.2" r="4.2" fill="url(#dotf)"/>
<circle cx="510.3" cy="445.2" r="4.2" fill="url(#dotf)"/>
<ellipse cx="510.0" cy="444.4" rx="2.6" ry="1.0" transform="rotate(-19.5 510.0 444.4)" fill="#36ffc9" opacity="0.85"/>
<circle cx="510.3" cy="459.2" r="4.2" fill="url(#dotf)"/>
<circle cx="510.3" cy="473.2" r="4.2" fill="url(#dotf)"/>
<circle cx="510.3" cy="487.2" r="4.2" fill="url(#dotf)"/>
<circle cx="510.3" cy="501.2" r="4.2" fill="url(#dotf)"/>
<ellipse cx="510.5" cy="500.9" rx="2.6" ry="1.0" transform="rotate(26.1 510.5 500.9)" fill="#13ffec" opacity="0.85"/>
<circle cx="510.3" cy="515.2" r="4.2" fill="url(#dotf)"/>
</g>
<rect x="524.3" y="284.4" width="5.5" height="237.1" fill="url(#jet)"/>
<text x="530.8" y="309.0" font-size="7.0" fill="#5c5c5c" dominant-baseline="central">0</text>
<text x="530.8" y="336.1" font-size="7.0" fill="#5c5c5c" dominant-baseline="central">-1</text>
<text x="530.8" y="363.2" font-size="7.0" fill="#5c5c5c" dominant-baseline="central">-2</text>
<text x="530.8" y="390.3" font-size="7.0" fill="#5c5c5c" dominant-baseline="central">-3</text>
<text x="530.8" y="417.4" font-size="7.0" fill="#5c5c5c" dominant-baseline="central">-4</text>
<text x="530.8" y="444.5" font-size="7.0" fill="#5c5c5c" dominant-baseline="central">-5</text>
<text x="530.8" y="471.6" font-size="7.0" fill="#5c5c5c" dominant-baseline="central">-6</text>
<text x="530.8" y="498.7" font-size="7.0" fill="#5c5c5c" dominant-baseline="central">-7</text>
<text x="387.35" y="308.2" font-size="8.2" font-weight="bold" fill="#0c0c0c" stroke="#0c0c0c" stroke-width="0.55" text-anchor="end" dominant-baseline="central" textLength="18.4" lengthAdjust="spacingAndGlyphs">5000</text>
<text x="387.35" y="351.2" font-size="8.2" font-weight="bold" fill="#0c0c0c" stroke="#0c0c0c" stroke-width="0.55" text-anchor="end" dominant-baseline="central" textLength="18.4" lengthAdjust="spacingAndGlyphs">4000</text>
<text x="387.35" y="394.1" font-size="8.2" font-weight="bold" fill="#0c0c0c" stroke="#0c0c0c" stroke-width="0.55" text-anchor="end" dominant-baseline="central" textLength="18.4" lengthAdjust="spacingAndGlyphs">3000</text>
<text x="387.35" y="436.1" font-size="8.2" font-weight="bold" fill="#0c0c0c" stroke="#0c0c0c" stroke-width="0.55" text-anchor="end" dominant-baseline="central" textLength="18.4" lengthAdjust="spacingAndGlyphs">2000</text>
<text x="387.35" y="478.8" font-size="8.2" font-weight="bold" fill="#0c0c0c" stroke="#0c0c0c" stroke-width="0.55" text-anchor="end" dominant-baseline="central" textLength="18.4" lengthAdjust="spacingAndGlyphs">1000</text>
<text x="384.5" y="521.5" font-size="8.2" font-weight="bold" fill="#0c0c0c" stroke="#0c0c0c" stroke-width="0.55" text-anchor="middle" dominant-baseline="central">0</text>
<text x="391.5" y="527.1" font-size="8.2" font-weight="bold" fill="#0c0c0c" stroke="#0c0c0c" stroke-width="0.55" text-anchor="middle" dominant-baseline="central">0</text>
<text x="407.5" y="527.1" font-size="8.2" font-weight="bold" fill="#0c0c0c" stroke="#0c0c0c" stroke-width="0.55" text-anchor="middle" dominant-baseline="central" textLength="14.4" lengthAdjust="spacingAndGlyphs">500</text>
<text x="428.1" y="527.1" font-size="8.2" font-weight="bold" fill="#0c0c0c" stroke="#0c0c0c" stroke-width="0.55" text-anchor="middle" dominant-baseline="central" textLength="18.4" lengthAdjust="spacingAndGlyphs">1000</text>
<text x="451.0" y="527.1" font-size="8.2" font-weight="bold" fill="#0c0c0c" stroke="#0c0c0c" stroke-width="0.55" text-anchor="middle" dominant-baseline="central" textLength="18.4" lengthAdjust="spacingAndGlyphs">1500</text>
<text x="473.4" y="527.1" font-size="8.2" font-weight="bold" fill="#0c0c0c" stroke="#0c0c0c" stroke-width="0.55" text-anchor="middle" dominant-baseline="central" textLength="18.4" lengthAdjust="spacingAndGlyphs">2000</text>
<text x="493.7" y="527.1" font-size="8.2" font-weight="bold" fill="#0c0c0c" stroke="#0c0c0c" stroke-width="0.55" text-anchor="middle" dominant-baseline="central" textLength="18.4" lengthAdjust="spacingAndGlyphs">2500</text>
<text x="514.0" y="527.1" font-size="8.2" font-weight="bold" fill="#0c0c0c" stroke="#0c0c0c" stroke-width="0.55" text-anchor="middle" dominant-baseline="central" textLength="18.4" lengthAdjust="spacingAndGlyphs">3000</text>
<text x="465.2" y="541.4" font-size="8.8" font-weight="bold" fill="#141414" stroke="#141414" stroke-width="0.3" text-anchor="middle" dominant-baseline="central" textLength="24.2" lengthAdjust="spacingAndGlyphs">X <tspan font-size="8.7" stroke-width="0.15">(μm)</tspan></text>
<text transform="translate(370.0 413.2) rotate(-90)" font-size="8.8" font-weight="bold" fill="#141414" stroke="#141414" stroke-width="0.3" text-anchor="middle" dominant-baseline="central" textLength="24.2" lengthAdjust="spacingAndGlyphs">Y <tspan font-size="8.7" stroke-width="0.15">(μm)</tspan></text>
<text x="501.6" y="538.7" font-size="11" font-weight="bold" fill="#141414" stroke="#141414" stroke-width="0.35" text-anchor="middle" dominant-baseline="central">(f)</text>
<g clip-path="url(#clipg)">
<rect x="211.2" y="552.2" width="124.9" height="237.5" fill="#e8180a"/>
<use href="#tex" filter="url(#soft)" style="--b0:#c80d05;--b1:#d20d05;--b2:#dd0d05;--b3:#e80d05;--b4:#f20d05;--b5:#f21805;--b6:#f22305;--b7:#f22d05;--b8:#f23805;--b9:#f24305;--b10:#ff8f00;--b11:#ffa700;--b12:#ffbf00;--b13:#ffd600;--b14:#ffee00;--b15:#f8ff07;--b16:#e1ff1e;--b17:#c9ff36;--b18:#b1ff4e;--b19:#9aff65;--b20:#82ff7d;--b21:#6aff95;--b22:#53ffac;--b23:#3bffc4;--b24:#23ffdc;--b25:#0cfff3;--b26:#00f3ff;--b27:#00dbff" transform="translate(211.20 552.20) scale(0.9992 1.0021)"/>
<circle cx="216.5" cy="557.3" r="4.2" fill="url(#dotg)"/>
<circle cx="216.5" cy="567.6" r="4.2" fill="url(#dotg)"/>
<ellipse cx="216.2" cy="567.0" rx="2.6" ry="1.0" transform="rotate(-23.8 216.2 567.0)" fill="#0efff1" opacity="0.85"/>
<circle cx="216.5" cy="578.0" r="4.2" fill="url(#dotg)"/>
<circle cx="216.5" cy="588.3" r="4.2" fill="url(#dotg)"/>
<ellipse cx="216.2" cy="587.6" rx="2.6" ry="1.0" transform="rotate(-23.5 216.2 587.6)" fill="#40ffbf" opacity="0.85"/>
<circle cx="216.5" cy="598.6" r="4.2" fill="url(#dotg)"/>
<circle cx="216.5" cy="609.0" r="4.2" fill="url(#dotg)"/>
<ellipse cx="216.8" cy="608.4" rx="2.6" ry="1.0" transform="rotate(26.1 216.8 608.4)" fill="#16ffe9" opacity="0.85"/>
<circle cx="216.5" cy="619.3" r="4.2" fill="url(#dotg)"/>
<ellipse cx="215.9" cy="617.9" rx="2.6" ry="1.0" transform="rotate(-22.5 215.9 617.9)" fill="#00f1ff" opacity="0.85"/>
<circle cx="216.5" cy="629.6" r="4.2" fill="url(#dotg)"/>
<ellipse cx="216.3" cy="629.2" rx="2.6" ry="1.0" transform="rotate(-23.9 216.3 629.2)" fill="#23ffdc" opacity="0.85"/>
<circle cx="216.5" cy="640.0" r="4.2" fill="url(#dotg)"/>
<ellipse cx="217.5" cy="637.7" rx="2.6" ry="1.0" transform="rotate(25.0 217.5 637.7)" fill="#1dffe2" opacity="0.85"/>
<circle cx="216.5" cy="650.3" r="4.2" fill="url(#dotg)"/>
<ellipse cx="216.7" cy="650.6" rx="2.6" ry="1.0" transform="rotate(-23.4 216.7 650.6)" fill="#13ffec" opacity="0.85"/>
<circle cx="216.5" cy="660.6" r="4.2" fill="url(#dotg)"/>
<circle cx="216.5" cy="671.0" r="4.2" fill="url(#dotg)"/>
<ellipse cx="217.4" cy="673.0" rx="2.6" ry="1.0" transform="rotate(-24.0 217.4 673.0)" fill="#1effe1" opacity="0.85"/>
<circle cx="216.5" cy="681.3" r="4.2" fill="url(#dotg)"/>
<ellipse cx="217.2" cy="680.0" rx="2.6" ry="1.0" transform="rotate(27.0 217.2 680.0)" fill="#1effe1" opacity="0.85"/>
<circle cx="216.5" cy="691.6" r="4.2" fill="url(#dotg)"/>
<circle cx="216.5" cy="701.9" r="4.2" fill="url(#dotg)"/>
<ellipse cx="215.6" cy="700.0" rx="2.6" ry="1.0" transform="rotate(-24.5 215.6 700.0)" fill="#35ffca" opacity="0.85"/>
<circle cx="216.5" cy="712.3" r="4.2" fill="url(#dotg)"/>
<circle cx="216.5" cy="722.6" r="4.2" fill="url(#dotg)"/>
<ellipse cx="216.6" cy="722.4" rx="2.6" ry="1.0" transform="rotate(27.0 216.6 722.4)" fill="#15ffea" opacity="0.85"/>
<circle cx="216.5" cy="732.9" r="4.2" fill="url(#dotg)"/>
<ellipse cx="217.0" cy="734.3" rx="2.6" ry="1.0" transform="rotate(-21.0 217.0 734.3)" fill="#3effc1" opacity="0.85"/>
<circle cx="216.5" cy="743.3" r="4.2" fill="url(#dotg)"/>
<ellipse cx="217.1" cy="741.9" rx="2.6" ry="1.0" transform="rotate(25.6 217.1 741.9)" fill="#16ffe9" opacity="0.85"/>
<circle cx="216.5" cy="753.6" r="4.2" fill="url(#dotg)"/>
<ellipse cx="216.2" cy="752.8" rx="2.6" ry="1.0" transform="rotate(-19.4 216.2 752.8)" fill="#36ffc9" opacity="0.85"/>
<circle cx="216.5" cy="763.9" r="4.2" fill="url(#dotg)"/>
<ellipse cx="216.5" cy="764.0" rx="2.6" ry="1.0" transform="rotate(24.4 216.5 764.0)" fill="#2cffd3" opacity="0.85"/>
<circle cx="216.5" cy="774.3" r="4.2" fill="url(#dotg)"/>
<circle cx="216.5" cy="784.6" r="4.2" fill="url(#dotg)"/>
<circle cx="227.0" cy="557.3" r="4.2" fill="url(#dotg)"/>
<circle cx="227.0" cy="567.6" r="4.2" fill="url(#dotg)"/>
<circle cx="227.0" cy="578.0" r="4.2" fill="url(#dotg)"/>
<circle cx="227.0" cy="588.3" r="4.2" fill="url(#dotg)"/>
<ellipse cx="227.1" cy="588.0" rx="2.6" ry="1.0" transform="rotate(24.8 227.1 588.0)" fill="#22ffdd" opacity="0.85"/>
<circle cx="227.0" cy="598.6" r="4.2" fill="url(#dotg)"/>
<ellipse cx="227.7" cy="597.1" rx="2.6" ry="1.0" transform="rotate(26.0 227.7 597.1)" fill="#20ffdf" opacity="0.85"/>
<circle cx="227.0" cy="609.0" r="4.2" fill="url(#dotg)"/>
<ellipse cx="227.8" cy="611.0" rx="2.6" ry="1.0" transform="rotate(-23.6 227.8 611.0)" fill="#19ffe6" opacity="0.85"/>
<circle cx="227.0" cy="619.3" r="4.2" fill="url(#dotg)"/>
<circle cx="227.0" cy="629.6" r="4.2" fill="url(#dotg)"/>
<circle cx="227.0" cy="640.0" r="4.2" fill="url(#dotg)"/>
<ellipse cx="226.1" cy="641.7" rx="2.6" ry="1.0" transform="rotate(25.0 226.1 641.7)" fill="#1dffe2" opacity="0.85"/>
<circle cx="227.0" cy="650.3" r="4.2" fill="url(#dotg)"/>
<circle cx="227.0" cy="660.6" r="4.2" fill="url(#dotg)"/>
<ellipse cx="227.0" cy="660.4" rx="2.6" ry="1.0" transform="rotate(25.1 227.0 660.4)" fill="#3cffc3" opacity="0.85"/>
<circle cx="227.0" cy="671.0" r="4.2" fill="url(#dotg)"/>
<ellipse cx="226.1" cy="669.1" rx="2.6" ry="1.0" transform="rotate(-24.0 226.1 669.1)" fill="#1effe1" opacity="0.85"/>
<circle cx="227.0" cy="681.3" r="4.2" fill="url(#dotg)"/>
<circle cx="227.0" cy="691.6" r="4.2" fill="url(#dotg)"/>
<circle cx="227.0" cy="701.9" r="4.2" fill="url(#dotg)"/>
<circle cx="227.0" cy="712.3" r="4.2" fill="url(#dotg)"/>
<circle cx="227.0" cy="722.6" r="4.2" fill="url(#dotg)"/>
<circle cx="227.0" cy="732.9" r="4.2" fill="url(#dotg)"/>
<ellipse cx="227.9" cy="730.9" rx="2.6" ry="1.0" transform="rotate(25.4 227.9 730.9)" fill="#18ffe7" opacity="0.85"/>
<circle cx="227.0" cy="743.3" r="4.2" fill="url(#dotg)"/>
<circle cx="227.0" cy="753.6" r="4.2" fill="url(#dotg)"/>
<circle cx="227.0" cy="763.9" r="4.2" fill="url(#dotg)"/>
<circle cx="227.0" cy="774.3" r="4.2" fill="url(#dotg)"/>
<ellipse cx="227.0" cy="774.2" rx="2.6" ry="1.0" transform="rotate(26.3 227.0 774.2)" fill="#00acff" opacity="0.85"/>
<circle cx="227.0" cy="784.6" r="4.2" fill="url(#dotg)"/>
<circle cx="237.4" cy="557.3" r="4.2" fill="url(#dotg)"/>
<ellipse cx="237.5" cy="557.6" rx="2.6" ry="1.0" transform="rotate(-23.8 237.5 557.6)" fill="#0efff1" opacity="0.85"/>
<circle cx="237.4" cy="567.6" r="4.2" fill="url(#dotg)"/>
<circle cx="237.4" cy="578.0" r="4.2" fill="url(#dotg)"/>
<ellipse cx="237.7" cy="577.4" rx="2.6" ry="1.0" transform="rotate(25.6 237.7 577.4)" fill="#17ffe8" opacity="0.85"/>
<circle cx="237.4" cy="588.3" r="4.2" fill="url(#dotg)"/>
<circle cx="237.4" cy="598.6" r="4.2" fill="url(#dotg)"/>
<circle cx="237.4" cy="609.0" r="4.2" fill="url(#dotg)"/>
<ellipse cx="237.4" cy="609.0" rx="2.6" ry="1.0" transform="rotate(-22.5 237.4 609.0)" fill="#00f1ff" opacity="0.85"/>
<circle cx="237.4" cy="619.3" r="4.2" fill="url(#dotg)"/>
<ellipse cx="237.7" cy="618.7" rx="2.6" ry="1.0" transform="rotate(26.1 237.7 618.7)" fill="#16ffe9" opacity="0.85"/>
<circle cx="237.4" cy="629.6" r="4.2" fill="url(#dotg)"/>
<ellipse cx="236.9" cy="630.6" rx="2.6" ry="1.0" transform="rotate(25.0 236.9 630.6)" fill="#14ffeb" opacity="0.85"/>
<circle cx="237.4" cy="640.0" r="4.2" fill="url(#dotg)"/>
<ellipse cx="238.0" cy="641.4" rx="2.6" ry="1.0" transform="rotate(-23.4 238.0 641.4)" fill="#13ffec" opacity="0.85"/>
<circle cx="237.4" cy="650.3" r="4.2" fill="url(#dotg)"/>
<circle cx="237.4" cy="660.6" r="4.2" fill="url(#dotg)"/>
<circle cx="237.4" cy="671.0" r="4.2" fill="url(#dotg)"/>
<circle cx="237.4" cy="681.3" r="4.2" fill="url(#dotg)"/>
<circle cx="237.4" cy="691.6" r="4.2" fill="url(#dotg)"/>
<ellipse cx="237.9" cy="690.6" rx="2.6" ry="1.0" transform="rotate(27.0 237.9 690.6)" fill="#1effe1" opacity="0.85"/>
<circle cx="237.4" cy="701.9" r="4.2" fill="url(#dotg)"/>
<circle cx="237.4" cy="712.3" r="4.2" fill="url(#dotg)"/>
<ellipse cx="237.0" cy="711.3" rx="2.6" ry="1.0" transform="rotate(-24.2 237.0 711.3)" fill="#00a0ff" opacity="0.85"/>
<circle cx="237.4" cy="722.6" r="4.2" fill="url(#dotg)"/>
<circle cx="237.4" cy="732.9" r="4.2" fill="url(#dotg)"/>
<ellipse cx="237.4" cy="733.0" rx="2.6" ry="1.0" transform="rotate(27.0 237.4 733.0)" fill="#15ffea" opacity="0.85"/>
<circle cx="237.4" cy="743.3" r="4.2" fill="url(#dotg)"/>
<ellipse cx="238.1" cy="745.1" rx="2.6" ry="1.0" transform="rotate(-19.4 238.1 745.1)" fill="#36ffc9" opacity="0.85"/>
<circle cx="237.4" cy="753.6" r="4.2" fill="url(#dotg)"/>
<circle cx="237.4" cy="763.9" r="4.2" fill="url(#dotg)"/>
<ellipse cx="237.8" cy="763.1" rx="2.6" ry="1.0" transform="rotate(24.3 237.8 763.1)" fill="#44ffbb" opacity="0.85"/>
<circle cx="237.4" cy="774.3" r="4.2" fill="url(#dotg)"/>
<ellipse cx="237.7" cy="773.6" rx="2.6" ry="1.0" transform="rotate(24.4 237.7 773.6)" fill="#2cffd3" opacity="0.85"/>
<circle cx="237.4" cy="784.6" r="4.2" fill="url(#dotg)"/>
<circle cx="247.9" cy="557.3" r="4.2" fill="url(#dotg)"/>
<circle cx="247.9" cy="567.6" r="4.2" fill="url(#dotg)"/>
<circle cx="247.9" cy="578.0" r="4.2" fill="url(#dotg)"/>
<circle cx="247.9" cy="588.3" r="4.2" fill="url(#dotg)"/>
<circle cx="247.9" cy="598.6" r="4.2" fill="url(#dotg)"/>
<ellipse cx="248.3" cy="597.8" rx="2.6" ry="1.0" transform="rotate(24.8 248.3 597.8)" fill="#22ffdd" opacity="0.85"/>
<circle cx="247.9" cy="609.0" r="4.2" fill="url(#dotg)"/>
<ellipse cx="248.7" cy="607.3" rx="2.6" ry="1.0" transform="rotate(26.0 248.7 607.3)" fill="#2bffd4" opacity="0.85"/>
<circle cx="247.9" cy="619.3" r="4.2" fill="url(#dotg)"/>
<circle cx="247.9" cy="629.6" r="4.2" fill="url(#dotg)"/>
<circle cx="247.9" cy="640.0" r="4.2" fill="url(#dotg)"/>
<ellipse cx="246.8" cy="637.6" rx="2.6" ry="1.0" transform="rotate(-23.4 246.8 637.6)" fill="#13ffec" opacity="0.85"/>
<circle cx="247.9" cy="650.3" r="4.2" fill="url(#dotg)"/>
<ellipse cx="247.3" cy="651.6" rx="2.6" ry="1.0" transform="rotate(25.0 247.3 651.6)" fill="#1dffe2" opacity="0.85"/>
<circle cx="247.9" cy="660.6" r="4.2" fill="url(#dotg)"/>
<ellipse cx="247.4" cy="659.7" rx="2.6" ry="1.0" transform="rotate(-24.0 247.4 659.7)" fill="#1effe1" opacity="0.85"/>
<circle cx="247.9" cy="671.0" r="4.2" fill="url(#dotg)"/>
<ellipse cx="248.2" cy="670.3" rx="2.6" ry="1.0" transform="rotate(25.1 248.2 670.3)" fill="#3cffc3" opacity="0.85"/>
<circle cx="247.9" cy="681.3" r="4.2" fill="url(#dotg)"/>
<circle cx="247.9" cy="691.6" r="4.2" fill="url(#dotg)"/>
<circle cx="247.9" cy="701.9" r="4.2" fill="url(#dotg)"/>
<circle cx="247.9" cy="712.3" r="4.2" fill="url(#dotg)"/>
<circle cx="247.9" cy="722.6" r="4.2" fill="url(#dotg)"/>
<ellipse cx="247.7" cy="722.9" rx="2.6" ry="1.0" transform="rotate(24.6 247.7 722.9)" fill="#12ffed" opacity="0.85"/>
<circle cx="247.9" cy="732.9" r="4.2" fill="url(#dotg)"/>
<circle cx="247.9" cy="743.3" r="4.2" fill="url(#dotg)"/>
<ellipse cx="247.4" cy="741.9" rx="2.6" ry="1.0" transform="rotate(-19.4 247.4 741.9)" fill="#36ffc9" opacity="0.85"/>
<circle cx="247.9" cy="753.6" r="4.2" fill="url(#dotg)"/>
<circle cx="247.9" cy="763.9" r="4.2" fill="url(#dotg)"/>
<circle cx="247.9" cy="774.3" r="4.2" fill="url(#dotg)"/>
<circle cx="247.9" cy="784.6" r="4.2" fill="url(#dotg)"/>
<ellipse cx="247.9" cy="784.6" rx="2.6" ry="1.0" transform="rotate(26.3 247.9 784.6)" fill="#00acff" opacity="0.85"/>
<circle cx="258.3" cy="557.3" r="4.2" fill="url(#dotg)"/>
<ellipse cx="257.6" cy="555.6" rx="2.6" ry="1.0" transform="rotate(-22.9 257.6 555.6)" fill="#3bffc4" opacity="0.85"/>
<circle cx="258.3" cy="567.6" r="4.2" fill="url(#dotg)"/>
<ellipse cx="258.9" cy="569.0" rx="2.6" ry="1.0" transform="rotate(-23.5 258.9 569.0)" fill="#40ffbf" opacity="0.85"/>
<circle cx="258.3" cy="578.0" r="4.2" fill="url(#dotg)"/>
<circle cx="258.3" cy="588.3" r="4.2" fill="url(#dotg)"/>
<ellipse cx="258.7" cy="587.4" rx="2.6" ry="1.0" transform="rotate(25.6 258.7 587.4)" fill="#17ffe8" opacity="0.85"/>
<circle cx="258.3" cy="598.6" r="4.2" fill="url(#dotg)"/>
<ellipse cx="258.9" cy="600.1" rx="2.6" ry="1.0" transform="rotate(-22.5 258.9 600.1)" fill="#00ffff" opacity="0.85"/>
<circle cx="258.3" cy="609.0" r="4.2" fill="url(#dotg)"/>
<ellipse cx="258.9" cy="610.3" rx="2.6" ry="1.0" transform="rotate(-23.9 258.9 610.3)" fill="#29ffd6" opacity="0.85"/>
<circle cx="258.3" cy="619.3" r="4.2" fill="url(#dotg)"/>
<ellipse cx="259.1" cy="621.0" rx="2.6" ry="1.0" transform="rotate(-24.3 259.1 621.0)" fill="#3bffc4" opacity="0.85"/>
<circle cx="258.3" cy="629.6" r="4.2" fill="url(#dotg)"/>
<ellipse cx="258.7" cy="628.9" rx="2.6" ry="1.0" transform="rotate(26.1 258.7 628.9)" fill="#16ffe9" opacity="0.85"/>
<circle cx="258.3" cy="640.0" r="4.2" fill="url(#dotg)"/>
<ellipse cx="258.1" cy="640.5" rx="2.6" ry="1.0" transform="rotate(25.0 258.1 640.5)" fill="#14ffeb" opacity="0.85"/>
<circle cx="258.3" cy="650.3" r="4.2" fill="url(#dotg)"/>
<circle cx="258.3" cy="660.6" r="4.2" fill="url(#dotg)"/>
<circle cx="258.3" cy="671.0" r="4.2" fill="url(#dotg)"/>
<circle cx="258.3" cy="681.3" r="4.2" fill="url(#dotg)"/>
<ellipse cx="258.0" cy="680.6" rx="2.6" ry="1.0" transform="rotate(-24.5 258.0 680.6)" fill="#35ffca" opacity="0.85"/>
<circle cx="258.3" cy="691.6" r="4.2" fill="url(#dotg)"/>
<circle cx="258.3" cy="701.9" r="4.2" fill="url(#dotg)"/>
<ellipse cx="258.2" cy="701.8" rx="2.6" ry="1.0" transform="rotate(-24.2 258.2 701.8)" fill="#00a0ff" opacity="0.85"/>
<circle cx="258.3" cy="712.3" r="4.2" fill="url(#dotg)"/>
<circle cx="258.3" cy="722.6" r="4.2" fill="url(#dotg)"/>
<circle cx="258.3" cy="732.9" r="4.2" fill="url(#dotg)"/>
<ellipse cx="257.9" cy="733.9" rx="2.6" ry="1.0" transform="rotate(26.0 257.9 733.9)" fill="#13ffec" opacity="0.85"/>
<circle cx="258.3" cy="743.3" r="4.2" fill="url(#dotg)"/>
<ellipse cx="258.2" cy="743.6" rx="2.6" ry="1.0" transform="rotate(27.0 258.2 743.6)" fill="#15ffea" opacity="0.85"/>
<circle cx="258.3" cy="753.6" r="4.2" fill="url(#dotg)"/>
<circle cx="258.3" cy="763.9" r="4.2" fill="url(#dotg)"/>
<ellipse cx="258.2" cy="763.7" rx="2.6" ry="1.0" transform="rotate(-22.7 258.2 763.7)" fill="#40ffbf" opacity="0.85"/>
<circle cx="258.3" cy="774.3" r="4.2" fill="url(#dotg)"/>
<circle cx="258.3" cy="784.6" r="4.2" fill="url(#dotg)"/>
<ellipse cx="258.9" cy="783.2" rx="2.6" ry="1.0" transform="rotate(24.4 258.9 783.2)" fill="#3effc1" opacity="0.85"/>
<circle cx="268.8" cy="557.3" r="4.2" fill="url(#dotg)"/>
<circle cx="268.8" cy="567.6" r="4.2" fill="url(#dotg)"/>
<circle cx="268.8" cy="578.0" r="4.2" fill="url(#dotg)"/>
<circle cx="268.8" cy="588.3" r="4.2" fill="url(#dotg)"/>
<circle cx="268.8" cy="598.6" r="4.2" fill="url(#dotg)"/>
<ellipse cx="267.9" cy="596.4" rx="2.6" ry="1.0" transform="rotate(-22.5 267.9 596.4)" fill="#00ffff" opacity="0.85"/>
<circle cx="268.8" cy="609.0" r="4.2" fill="url(#dotg)"/>
<ellipse cx="269.4" cy="607.6" rx="2.6" ry="1.0" transform="rotate(24.8 269.4 607.6)" fill="#22ffdd" opacity="0.85"/>
<circle cx="268.8" cy="619.3" r="4.2" fill="url(#dotg)"/>
<ellipse cx="269.6" cy="617.6" rx="2.6" ry="1.0" transform="rotate(26.0 269.6 617.6)" fill="#2bffd4" opacity="0.85"/>
<circle cx="268.8" cy="629.6" r="4.2" fill="url(#dotg)"/>
<ellipse cx="268.2" cy="628.3" rx="2.6" ry="1.0" transform="rotate(-23.4 268.2 628.3)" fill="#13ffec" opacity="0.85"/>
<circle cx="268.8" cy="640.0" r="4.2" fill="url(#dotg)"/>
<circle cx="268.8" cy="650.3" r="4.2" fill="url(#dotg)"/>
<ellipse cx="268.7" cy="650.2" rx="2.6" ry="1.0" transform="rotate(-24.0 268.7 650.2)" fill="#1effe1" opacity="0.85"/>
<circle cx="268.8" cy="660.6" r="4.2" fill="url(#dotg)"/>
<ellipse cx="268.4" cy="661.4" rx="2.6" ry="1.0" transform="rotate(25.0 268.4 661.4)" fill="#1dffe2" opacity="0.85"/>
<circle cx="268.8" cy="671.0" r="4.2" fill="url(#dotg)"/>
<circle cx="268.8" cy="681.3" r="4.2" fill="url(#dotg)"/>
<ellipse cx="269.3" cy="680.2" rx="2.6" ry="1.0" transform="rotate(25.1 269.3 680.2)" fill="#3cffc3" opacity="0.85"/>
<circle cx="268.8" cy="691.6" r="4.2" fill="url(#dotg)"/>
<circle cx="268.8" cy="701.9" r="4.2" fill="url(#dotg)"/>
<circle cx="268.8" cy="712.3" r="4.2" fill="url(#dotg)"/>
<ellipse cx="269.5" cy="714.2" rx="2.6" ry="1.0" transform="rotate(-21.0 269.5 714.2)" fill="#3effc1" opacity="0.85"/>
<circle cx="268.8" cy="722.6" r="4.2" fill="url(#dotg)"/>
<circle cx="268.8" cy="732.9" r="4.2" fill="url(#dotg)"/>
<ellipse cx="268.9" cy="732.6" rx="2.6" ry="1.0" transform="rotate(24.6 268.9 732.6)" fill="#12ffed" opacity="0.85"/>
<circle cx="268.8" cy="743.3" r="4.2" fill="url(#dotg)"/>
<circle cx="268.8" cy="753.6" r="4.2" fill="url(#dotg)"/>
<circle cx="268.8" cy="763.9" r="4.2" fill="url(#dotg)"/>
<circle cx="268.8" cy="774.3" r="4.2" fill="url(#dotg)"/>
<circle cx="268.8" cy="784.6" r="4.2" fill="url(#dotg)"/>
<circle cx="279.2" cy="557.3" r="4.2" fill="url(#dotg)"/>
<circle cx="279.2" cy="567.6" r="4.2" fill="url(#dotg)"/>
<circle cx="279.2" cy="578.0" r="4.2" fill="url(#dotg)"/>
<circle cx="279.2" cy="588.3" r="4.2" fill="url(#dotg)"/>
<ellipse cx="279.3" cy="588.5" rx="2.6" ry="1.0" transform="rotate(-23.6 279.3 588.5)" fill="#19ffe6" opacity="0.85"/>
<circle cx="279.2" cy="598.6" r="4.2" fill="url(#dotg)"/>
<ellipse cx="279.8" cy="597.5" rx="2.6" ry="1.0" transform="rotate(25.6 279.8 597.5)" fill="#17ffe8" opacity="0.85"/>
<circle cx="279.2" cy="609.0" r="4.2" fill="url(#dotg)"/>
<circle cx="279.2" cy="619.3" r="4.2" fill="url(#dotg)"/>
<circle cx="279.2" cy="629.6" r="4.2" fill="url(#dotg)"/>
<ellipse cx="280.2" cy="631.9" rx="2.6" ry="1.0" transform="rotate(-24.2 280.2 631.9)" fill="#1cffe3" opacity="0.85"/>
<circle cx="279.2" cy="640.0" r="4.2" fill="url(#dotg)"/>
<circle cx="279.2" cy="650.3" r="4.2" fill="url(#dotg)"/>
<ellipse cx="279.2" cy="650.4" rx="2.6" ry="1.0" transform="rotate(25.0 279.2 650.4)" fill="#14ffeb" opacity="0.85"/>
<circle cx="279.2" cy="660.6" r="4.2" fill="url(#dotg)"/>
<circle cx="279.2" cy="671.0" r="4.2" fill="url(#dotg)"/>
<ellipse cx="279.2" cy="671.0" rx="2.6" ry="1.0" transform="rotate(-24.5 279.2 671.0)" fill="#35ffca" opacity="0.85"/>
<circle cx="279.2" cy="681.3" r="4.2" fill="url(#dotg)"/>
<circle cx="279.2" cy="691.6" r="4.2" fill="url(#dotg)"/>
<ellipse cx="279.5" cy="692.2" rx="2.6" ry="1.0" transform="rotate(-24.2 279.5 692.2)" fill="#00a0ff" opacity="0.85"/>
<circle cx="279.2" cy="701.9" r="4.2" fill="url(#dotg)"/>
<circle cx="279.2" cy="712.3" r="4.2" fill="url(#dotg)"/>
<ellipse cx="279.5" cy="711.7" rx="2.6" ry="1.0" transform="rotate(27.0 279.5 711.7)" fill="#1effe1" opacity="0.85"/>
<circle cx="279.2" cy="722.6" r="4.2" fill="url(#dotg)"/>
<circle cx="279.2" cy="732.9" r="4.2" fill="url(#dotg)"/>
<ellipse cx="278.5" cy="730.9" rx="2.6" ry="1.0" transform="rotate(-19.4 278.5 730.9)" fill="#36ffc9" opacity="0.85"/>
<circle cx="279.2" cy="743.3" r="4.2" fill="url(#dotg)"/>
<ellipse cx="278.8" cy="744.1" rx="2.6" ry="1.0" transform="rotate(26.0 278.8 744.1)" fill="#13ffec" opacity="0.85"/>
<circle cx="279.2" cy="753.6" r="4.2" fill="url(#dotg)"/>
<ellipse cx="278.9" cy="754.2" rx="2.6" ry="1.0" transform="rotate(27.0 278.9 754.2)" fill="#15ffea" opacity="0.85"/>
<circle cx="279.2" cy="763.9" r="4.2" fill="url(#dotg)"/>
<circle cx="279.2" cy="774.3" r="4.2" fill="url(#dotg)"/>
<circle cx="279.2" cy="784.6" r="4.2" fill="url(#dotg)"/>
<circle cx="289.7" cy="557.3" r="4.2" fill="url(#dotg)"/>
<ellipse cx="289.1" cy="555.9" rx="2.6" ry="1.0" transform="rotate(-23.5 289.1 555.9)" fill="#40ffbf" opacity="0.85"/>
<circle cx="289.7" cy="567.6" r="4.2" fill="url(#dotg)"/>
<circle cx="289.7" cy="578.0" r="4.2" fill="url(#dotg)"/>
<circle cx="289.7" cy="588.3" r="4.2" fill="url(#dotg)"/>
<ellipse cx="289.3" cy="587.5" rx="2.6" ry="1.0" transform="rotate(-22.5 289.3 587.5)" fill="#00f4ff" opacity="0.85"/>
<circle cx="289.7" cy="598.6" r="4.2" fill="url(#dotg)"/>
<ellipse cx="289.0" cy="597.0" rx="2.6" ry="1.0" transform="rotate(-23.9 289.0 597.0)" fill="#21ffde" opacity="0.85"/>
<circle cx="289.7" cy="609.0" r="4.2" fill="url(#dotg)"/>
<ellipse cx="289.0" cy="607.5" rx="2.6" ry="1.0" transform="rotate(-24.3 289.0 607.5)" fill="#3bffc4" opacity="0.85"/>
<circle cx="289.7" cy="619.3" r="4.2" fill="url(#dotg)"/>
<ellipse cx="290.6" cy="617.3" rx="2.6" ry="1.0" transform="rotate(24.8 290.6 617.3)" fill="#22ffdd" opacity="0.85"/>
<circle cx="289.7" cy="629.6" r="4.2" fill="url(#dotg)"/>
<ellipse cx="288.9" cy="628.0" rx="2.6" ry="1.0" transform="rotate(-24.2 288.9 628.0)" fill="#1cffe3" opacity="0.85"/>
<circle cx="289.7" cy="640.0" r="4.2" fill="url(#dotg)"/>
<ellipse cx="290.0" cy="640.7" rx="2.6" ry="1.0" transform="rotate(-24.0 290.0 640.7)" fill="#1effe1" opacity="0.85"/>
<circle cx="289.7" cy="650.3" r="4.2" fill="url(#dotg)"/>
<ellipse cx="290.3" cy="651.8" rx="2.6" ry="1.0" transform="rotate(-22.6 290.3 651.8)" fill="#2fffd0" opacity="0.85"/>
<circle cx="289.7" cy="660.6" r="4.2" fill="url(#dotg)"/>
<ellipse cx="289.1" cy="661.9" rx="2.6" ry="1.0" transform="rotate(24.7 289.1 661.9)" fill="#3fffc0" opacity="0.85"/>
<circle cx="289.7" cy="671.0" r="4.2" fill="url(#dotg)"/>
<ellipse cx="289.6" cy="671.2" rx="2.6" ry="1.0" transform="rotate(25.0 289.6 671.2)" fill="#1dffe2" opacity="0.85"/>
<circle cx="289.7" cy="681.3" r="4.2" fill="url(#dotg)"/>
<circle cx="289.7" cy="691.6" r="4.2" fill="url(#dotg)"/>
<ellipse cx="290.4" cy="690.1" rx="2.6" ry="1.0" transform="rotate(25.1 290.4 690.1)" fill="#3cffc3" opacity="0.85"/>
<circle cx="289.7" cy="701.9" r="4.2" fill="url(#dotg)"/>
<circle cx="289.7" cy="712.3" r="4.2" fill="url(#dotg)"/>
<circle cx="289.7" cy="722.6" r="4.2" fill="url(#dotg)"/>
<circle cx="289.7" cy="732.9" r="4.2" fill="url(#dotg)"/>
<circle cx="289.7" cy="743.3" r="4.2" fill="url(#dotg)"/>
<ellipse cx="290.1" cy="742.3" rx="2.6" ry="1.0" transform="rotate(24.6 290.1 742.3)" fill="#2dffd2" opacity="0.85"/>
<circle cx="289.7" cy="753.6" r="4.2" fill="url(#dotg)"/>
<circle cx="289.7" cy="763.9" r="4.2" fill="url(#dotg)"/>
<circle cx="289.7" cy="774.3" r="4.2" fill="url(#dotg)"/>
<circle cx="289.7" cy="784.6" r="4.2" fill="url(#dotg)"/>
<circle cx="300.1" cy="557.3" r="4.2" fill="url(#dotg)"/>
<ellipse cx="300.4" cy="556.7" rx="2.6" ry="1.0" transform="rotate(26.2 300.4 556.7)" fill="#0cfff3" opacity="0.85"/>
<circle cx="300.1" cy="567.6" r="4.2" fill="url(#dotg)"/>
<circle cx="300.1" cy="578.0" r="4.2" fill="url(#dotg)"/>
<ellipse cx="300.6" cy="579.1" rx="2.6" ry="1.0" transform="rotate(-23.6 300.6 579.1)" fill="#19ffe6" opacity="0.85"/>
<circle cx="300.1" cy="588.3" r="4.2" fill="url(#dotg)"/>
<circle cx="300.1" cy="598.6" r="4.2" fill="url(#dotg)"/>
<circle cx="300.1" cy="609.0" r="4.2" fill="url(#dotg)"/>
<ellipse cx="300.8" cy="607.5" rx="2.6" ry="1.0" transform="rotate(25.6 300.8 607.5)" fill="#17ffe8" opacity="0.85"/>
<circle cx="300.1" cy="619.3" r="4.2" fill="url(#dotg)"/>
<ellipse cx="299.2" cy="621.3" rx="2.6" ry="1.0" transform="rotate(24.8 299.2 621.3)" fill="#22ffdd" opacity="0.85"/>
<circle cx="300.1" cy="629.6" r="4.2" fill="url(#dotg)"/>
<ellipse cx="299.0" cy="631.9" rx="2.6" ry="1.0" transform="rotate(26.0 299.0 631.9)" fill="#44ffbb" opacity="0.85"/>
<circle cx="300.1" cy="640.0" r="4.2" fill="url(#dotg)"/>
<ellipse cx="299.6" cy="641.1" rx="2.6" ry="1.0" transform="rotate(25.8 299.6 641.1)" fill="#28ffd7" opacity="0.85"/>
<circle cx="300.1" cy="650.3" r="4.2" fill="url(#dotg)"/>
<circle cx="300.1" cy="660.6" r="4.2" fill="url(#dotg)"/>
<ellipse cx="300.3" cy="660.2" rx="2.6" ry="1.0" transform="rotate(25.0 300.3 660.2)" fill="#14ffeb" opacity="0.85"/>
<circle cx="300.1" cy="671.0" r="4.2" fill="url(#dotg)"/>
<circle cx="300.1" cy="681.3" r="4.2" fill="url(#dotg)"/>
<ellipse cx="300.8" cy="682.7" rx="2.6" ry="1.0" transform="rotate(-24.2 300.8 682.7)" fill="#00a0ff" opacity="0.85"/>
<circle cx="300.1" cy="691.6" r="4.2" fill="url(#dotg)"/>
<circle cx="300.1" cy="701.9" r="4.2" fill="url(#dotg)"/>
<circle cx="300.1" cy="712.3" r="4.2" fill="url(#dotg)"/>
<circle cx="300.1" cy="722.6" r="4.2" fill="url(#dotg)"/>
<ellipse cx="300.3" cy="723.2" rx="2.6" ry="1.0" transform="rotate(-19.4 300.3 723.2)" fill="#36ffc9" opacity="0.85"/>
<circle cx="300.1" cy="732.9" r="4.2" fill="url(#dotg)"/>
<circle cx="300.1" cy="743.3" r="4.2" fill="url(#dotg)"/>
<circle cx="300.1" cy="753.6" r="4.2" fill="url(#dotg)"/>
<ellipse cx="299.8" cy="754.3" rx="2.6" ry="1.0" transform="rotate(26.0 299.8 754.3)" fill="#13ffec" opacity="0.85"/>
<circle cx="300.1" cy="763.9" r="4.2" fill="url(#dotg)"/>
<ellipse cx="299.7" cy="764.8" rx="2.6" ry="1.0" transform="rotate(27.0 299.7 764.8)" fill="#15ffea" opacity="0.85"/>
<circle cx="300.1" cy="774.3" r="4.2" fill="url(#dotg)"/>
<circle cx="300.1" cy="784.6" r="4.2" fill="url(#dotg)"/>
<ellipse cx="301.0" cy="786.6" rx="2.6" ry="1.0" transform="rotate(-23.1 301.0 786.6)" fill="#27ffd8" opacity="0.85"/>
<circle cx="310.6" cy="557.3" r="4.2" fill="url(#dotg)"/>
<ellipse cx="311.5" cy="555.4" rx="2.6" ry="1.0" transform="rotate(24.6 311.5 555.4)" fill="#26ffd9" opacity="0.85"/>
<circle cx="310.6" cy="567.6" r="4.2" fill="url(#dotg)"/>
<circle cx="310.6" cy="578.0" r="4.2" fill="url(#dotg)"/>
<ellipse cx="310.8" cy="578.6" rx="2.6" ry="1.0" transform="rotate(-22.5 310.8 578.6)" fill="#29ffd6" opacity="0.85"/>
<circle cx="310.6" cy="588.3" r="4.2" fill="url(#dotg)"/>
<ellipse cx="310.3" cy="587.6" rx="2.6" ry="1.0" transform="rotate(-23.9 310.3 587.6)" fill="#21ffde" opacity="0.85"/>
<circle cx="310.6" cy="598.6" r="4.2" fill="url(#dotg)"/>
<ellipse cx="310.3" cy="597.9" rx="2.6" ry="1.0" transform="rotate(-24.3 310.3 597.9)" fill="#3bffc4" opacity="0.85"/>
<circle cx="310.6" cy="609.0" r="4.2" fill="url(#dotg)"/>
<circle cx="310.6" cy="619.3" r="4.2" fill="url(#dotg)"/>
<ellipse cx="310.2" cy="618.4" rx="2.6" ry="1.0" transform="rotate(-24.2 310.2 618.4)" fill="#1cffe3" opacity="0.85"/>
<circle cx="310.6" cy="629.6" r="4.2" fill="url(#dotg)"/>
<ellipse cx="311.3" cy="631.3" rx="2.6" ry="1.0" transform="rotate(-24.0 311.3 631.3)" fill="#1effe1" opacity="0.85"/>
<circle cx="310.6" cy="640.0" r="4.2" fill="url(#dotg)"/>
<ellipse cx="311.5" cy="638.0" rx="2.6" ry="1.0" transform="rotate(26.0 311.5 638.0)" fill="#30ffcf" opacity="0.85"/>
<circle cx="310.6" cy="650.3" r="4.2" fill="url(#dotg)"/>
<circle cx="310.6" cy="660.6" r="4.2" fill="url(#dotg)"/>
<circle cx="310.6" cy="671.0" r="4.2" fill="url(#dotg)"/>
<circle cx="310.6" cy="681.3" r="4.2" fill="url(#dotg)"/>
<ellipse cx="310.7" cy="681.1" rx="2.6" ry="1.0" transform="rotate(25.0 310.7 681.1)" fill="#1dffe2" opacity="0.85"/>
<circle cx="310.6" cy="691.6" r="4.2" fill="url(#dotg)"/>
<circle cx="310.6" cy="701.9" r="4.2" fill="url(#dotg)"/>
<ellipse cx="311.5" cy="700.0" rx="2.6" ry="1.0" transform="rotate(25.1 311.5 700.0)" fill="#3cffc3" opacity="0.85"/>
<circle cx="310.6" cy="712.3" r="4.2" fill="url(#dotg)"/>
<circle cx="310.6" cy="722.6" r="4.2" fill="url(#dotg)"/>
<circle cx="310.6" cy="732.9" r="4.2" fill="url(#dotg)"/>
<circle cx="310.6" cy="743.3" r="4.2" fill="url(#dotg)"/>
<ellipse cx="310.1" cy="742.0" rx="2.6" ry="1.0" transform="rotate(-22.7 310.1 742.0)" fill="#40ffbf" opacity="0.85"/>
<circle cx="310.6" cy="753.6" r="4.2" fill="url(#dotg)"/>
<circle cx="310.6" cy="763.9" r="4.2" fill="url(#dotg)"/>
<circle cx="310.6" cy="774.3" r="4.2" fill="url(#dotg)"/>
<circle cx="310.6" cy="784.6" r="4.2" fill="url(#dotg)"/>
<ellipse cx="309.8" cy="782.8" rx="2.6" ry="1.0" transform="rotate(-23.1 309.8 782.8)" fill="#27ffd8" opacity="0.85"/>
<circle cx="321.0" cy="557.3" r="4.2" fill="url(#dotg)"/>
<ellipse cx="320.1" cy="559.3" rx="2.6" ry="1.0" transform="rotate(24.6 320.1 559.3)" fill="#26ffd9" opacity="0.85"/>
<circle cx="321.0" cy="567.6" r="4.2" fill="url(#dotg)"/>
<ellipse cx="321.3" cy="567.0" rx="2.6" ry="1.0" transform="rotate(26.2 321.3 567.0)" fill="#0cfff3" opacity="0.85"/>
<circle cx="321.0" cy="578.0" r="4.2" fill="url(#dotg)"/>
<circle cx="321.0" cy="588.3" r="4.2" fill="url(#dotg)"/>
<circle cx="321.0" cy="598.6" r="4.2" fill="url(#dotg)"/>
<circle cx="321.0" cy="609.0" r="4.2" fill="url(#dotg)"/>
<circle cx="321.0" cy="619.3" r="4.2" fill="url(#dotg)"/>
<ellipse cx="321.9" cy="617.6" rx="2.6" ry="1.0" transform="rotate(25.6 321.9 617.6)" fill="#17ffe8" opacity="0.85"/>
<circle cx="321.0" cy="629.6" r="4.2" fill="url(#dotg)"/>
<ellipse cx="320.1" cy="627.4" rx="2.6" ry="1.0" transform="rotate(-24.0 320.1 627.4)" fill="#1effe1" opacity="0.85"/>
<circle cx="321.0" cy="640.0" r="4.2" fill="url(#dotg)"/>
<ellipse cx="320.0" cy="642.1" rx="2.6" ry="1.0" transform="rotate(26.0 320.0 642.1)" fill="#30ffcf" opacity="0.85"/>
<circle cx="321.0" cy="650.3" r="4.2" fill="url(#dotg)"/>
<ellipse cx="320.6" cy="651.2" rx="2.6" ry="1.0" transform="rotate(25.8 320.6 651.2)" fill="#28ffd7" opacity="0.85"/>
<circle cx="321.0" cy="660.6" r="4.2" fill="url(#dotg)"/>
<circle cx="321.0" cy="671.0" r="4.2" fill="url(#dotg)"/>
<ellipse cx="322.0" cy="673.2" rx="2.6" ry="1.0" transform="rotate(-24.2 322.0 673.2)" fill="#00a0ff" opacity="0.85"/>
<circle cx="321.0" cy="681.3" r="4.2" fill="url(#dotg)"/>
<circle cx="321.0" cy="691.6" r="4.2" fill="url(#dotg)"/>
<circle cx="321.0" cy="701.9" r="4.2" fill="url(#dotg)"/>
<ellipse cx="320.1" cy="704.0" rx="2.6" ry="1.0" transform="rotate(25.1 320.1 704.0)" fill="#3cffc3" opacity="0.85"/>
<circle cx="321.0" cy="712.3" r="4.2" fill="url(#dotg)"/>
<circle cx="321.0" cy="722.6" r="4.2" fill="url(#dotg)"/>
<circle cx="321.0" cy="732.9" r="4.2" fill="url(#dotg)"/>
<circle cx="321.0" cy="743.3" r="4.2" fill="url(#dotg)"/>
<circle cx="321.0" cy="753.6" r="4.2" fill="url(#dotg)"/>
<circle cx="321.0" cy="763.9" r="4.2" fill="url(#dotg)"/>
<ellipse cx="320.7" cy="764.6" rx="2.6" ry="1.0" transform="rotate(26.0 320.7 764.6)" fill="#13ffec" opacity="0.85"/>
<circle cx="321.0" cy="774.3" r="4.2" fill="url(#dotg)"/>
<ellipse cx="320.5" cy="775.4" rx="2.6" ry="1.0" transform="rotate(27.0 320.5 775.4)" fill="#15ffea" opacity="0.85"/>
<circle cx="321.0" cy="784.6" r="4.2" fill="url(#dotg)"/>
<circle cx="331.5" cy="557.3" r="4.2" fill="url(#dotg)"/>
<circle cx="331.5" cy="567.6" r="4.2" fill="url(#dotg)"/>
<ellipse cx="332.3" cy="569.6" rx="2.6" ry="1.0" transform="rotate(-22.5 332.3 569.6)" fill="#0afff5" opacity="0.85"/>
<circle cx="331.5" cy="578.0" r="4.2" fill="url(#dotg)"/>
<circle cx="331.5" cy="588.3" r="4.2" fill="url(#dotg)"/>
<ellipse cx="331.5" cy="588.3" rx="2.6" ry="1.0" transform="rotate(-24.3 331.5 588.3)" fill="#3bffc4" opacity="0.85"/>
<circle cx="331.5" cy="598.6" r="4.2" fill="url(#dotg)"/>
<circle cx="331.5" cy="609.0" r="4.2" fill="url(#dotg)"/>
<ellipse cx="331.5" cy="608.9" rx="2.6" ry="1.0" transform="rotate(-24.2 331.5 608.9)" fill="#1cffe3" opacity="0.85"/>
<circle cx="331.5" cy="619.3" r="4.2" fill="url(#dotg)"/>
<circle cx="331.5" cy="629.6" r="4.2" fill="url(#dotg)"/>
<circle cx="331.5" cy="640.0" r="4.2" fill="url(#dotg)"/>
<circle cx="331.5" cy="650.3" r="4.2" fill="url(#dotg)"/>
<circle cx="331.5" cy="660.6" r="4.2" fill="url(#dotg)"/>
<circle cx="331.5" cy="671.0" r="4.2" fill="url(#dotg)"/>
<ellipse cx="330.7" cy="669.2" rx="2.6" ry="1.0" transform="rotate(-24.2 330.7 669.2)" fill="#00a0ff" opacity="0.85"/>
<circle cx="331.5" cy="681.3" r="4.2" fill="url(#dotg)"/>
<circle cx="331.5" cy="691.6" r="4.2" fill="url(#dotg)"/>
<ellipse cx="331.8" cy="690.9" rx="2.6" ry="1.0" transform="rotate(25.0 331.8 690.9)" fill="#1dffe2" opacity="0.85"/>
<circle cx="331.5" cy="701.9" r="4.2" fill="url(#dotg)"/>
<circle cx="331.5" cy="712.3" r="4.2" fill="url(#dotg)"/>
<ellipse cx="331.5" cy="712.2" rx="2.6" ry="1.0" transform="rotate(-19.4 331.5 712.2)" fill="#36ffc9" opacity="0.85"/>
<circle cx="331.5" cy="722.6" r="4.2" fill="url(#dotg)"/>
<ellipse cx="331.6" cy="722.8" rx="2.6" ry="1.0" transform="rotate(-22.5 331.6 722.8)" fill="#25ffda" opacity="0.85"/>
<circle cx="331.5" cy="732.9" r="4.2" fill="url(#dotg)"/>
<ellipse cx="331.5" cy="733.0" rx="2.6" ry="1.0" transform="rotate(-22.7 331.5 733.0)" fill="#40ffbf" opacity="0.85"/>
<circle cx="331.5" cy="743.3" r="4.2" fill="url(#dotg)"/>
<circle cx="331.5" cy="753.6" r="4.2" fill="url(#dotg)"/>
<circle cx="331.5" cy="763.9" r="4.2" fill="url(#dotg)"/>
<circle cx="331.5" cy="774.3" r="4.2" fill="url(#dotg)"/>
<circle cx="331.5" cy="784.6" r="4.2" fill="url(#dotg)"/>
</g>
<rect x="344.0" y="552.2" width="5.9" height="237.5" fill="url(#jet)"/>
<text x="352.7" y="575.0" font-size="7.0" fill="#5c5c5c" dominant-baseline="central">0</text>
<text x="352.7" y="601.9" font-size="7.0" fill="#5c5c5c" dominant-baseline="central">-1</text>
<text x="352.7" y="628.8" font-size="7.0" fill="#5c5c5c" dominant-baseline="central">-2</text>
<text x="352.7" y="655.7" font-size="7.0" fill="#5c5c5c" dominant-baseline="central">-3</text>
<text x="352.7" y="682.6" font-size="7.0" fill="#5c5c5c" dominant-baseline="central">-4</text>
<text x="352.7" y="709.5" font-size="7.0" fill="#5c5c5c" dominant-baseline="central">-5</text>
<text x="352.7" y="736.4" font-size="7.0" fill="#5c5c5c" dominant-baseline="central">-6</text>
<text x="352.7" y="763.3" font-size="7.0" fill="#5c5c5c" dominant-baseline="central">-7</text>
<text x="208.25" y="577.6" font-size="8.2" font-weight="bold" fill="#0c0c0c" stroke="#0c0c0c" stroke-width="0.55" text-anchor="end" dominant-baseline="central" textLength="18.4" lengthAdjust="spacingAndGlyphs">5000</text>
<text x="208.25" y="620.6" font-size="8.2" font-weight="bold" fill="#0c0c0c" stroke="#0c0c0c" stroke-width="0.55" text-anchor="end" dominant-baseline="central" textLength="18.4" lengthAdjust="spacingAndGlyphs">4000</text>
<text x="208.25" y="663.3" font-size="8.2" font-weight="bold" fill="#0c0c0c" stroke="#0c0c0c" stroke-width="0.55" text-anchor="end" dominant-baseline="central" textLength="18.4" lengthAdjust="spacingAndGlyphs">3000</text>
<text x="208.25" y="706.4" font-size="8.2" font-weight="bold" fill="#0c0c0c" stroke="#0c0c0c" stroke-width="0.55" text-anchor="end" dominant-baseline="central" textLength="18.4" lengthAdjust="spacingAndGlyphs">2000</text>
<text x="208.25" y="749.0" font-size="8.2" font-weight="bold" fill="#0c0c0c" stroke="#0c0c0c" stroke-width="0.55" text-anchor="end" dominant-baseline="central" textLength="18.4" lengthAdjust="spacingAndGlyphs">1000</text>
<text x="205.2" y="791.3" font-size="8.2" font-weight="bold" fill="#0c0c0c" stroke="#0c0c0c" stroke-width="0.55" text-anchor="middle" dominant-baseline="central">0</text>
<text x="212.3" y="795.0" font-size="8.2" font-weight="bold" fill="#0c0c0c" stroke="#0c0c0c" stroke-width="0.55" text-anchor="middle" dominant-baseline="central">0</text>
<text x="227.8" y="795.0" font-size="8.2" font-weight="bold" fill="#0c0c0c" stroke="#0c0c0c" stroke-width="0.55" text-anchor="middle" dominant-baseline="central" textLength="14.4" lengthAdjust="spacingAndGlyphs">500</text>
<text x="248.7" y="795.0" font-size="8.2" font-weight="bold" fill="#0c0c0c" stroke="#0c0c0c" stroke-width="0.55" text-anchor="middle" dominant-baseline="central" textLength="18.4" lengthAdjust="spacingAndGlyphs">1000</text>
<text x="271.0" y="795.0" font-size="8.2" font-weight="bold" fill="#0c0c0c" stroke="#0c0c0c" stroke-width="0.55" text-anchor="middle" dominant-baseline="central" textLength="18.4" lengthAdjust="spacingAndGlyphs">1500</text>
<text x="293.6" y="795.0" font-size="8.2" font-weight="bold" fill="#0c0c0c" stroke="#0c0c0c" stroke-width="0.55" text-anchor="middle" dominant-baseline="central" textLength="18.4" lengthAdjust="spacingAndGlyphs">2000</text>
<text x="314.3" y="795.0" font-size="8.2" font-weight="bold" fill="#0c0c0c" stroke="#0c0c0c" stroke-width="0.55" text-anchor="middle" dominant-baseline="central" textLength="18.4" lengthAdjust="spacingAndGlyphs">2500</text>
<text x="334.7" y="795.0" font-size="8.2" font-weight="bold" fill="#0c0c0c" stroke="#0c0c0c" stroke-width="0.55" text-anchor="middle" dominant-baseline="central" textLength="18.4" lengthAdjust="spacingAndGlyphs">3000</text>
<text x="281.6" y="805.9" font-size="8.8" font-weight="bold" fill="#141414" stroke="#141414" stroke-width="0.3" text-anchor="middle" dominant-baseline="central" textLength="24.2" lengthAdjust="spacingAndGlyphs">X <tspan font-size="8.7" stroke-width="0.15">(μm)</tspan></text>
<text transform="translate(188.3 680.8) rotate(-90)" font-size="8.8" font-weight="bold" fill="#141414" stroke="#141414" stroke-width="0.3" text-anchor="middle" dominant-baseline="central" textLength="24.2" lengthAdjust="spacingAndGlyphs">Y <tspan font-size="8.7" stroke-width="0.15">(μm)</tspan></text>
<text x="320.5" y="804.6" font-size="11" font-weight="bold" fill="#141414" stroke="#141414" stroke-width="0.35" text-anchor="middle" dominant-baseline="central">(g)</text>
</svg></body></html>
